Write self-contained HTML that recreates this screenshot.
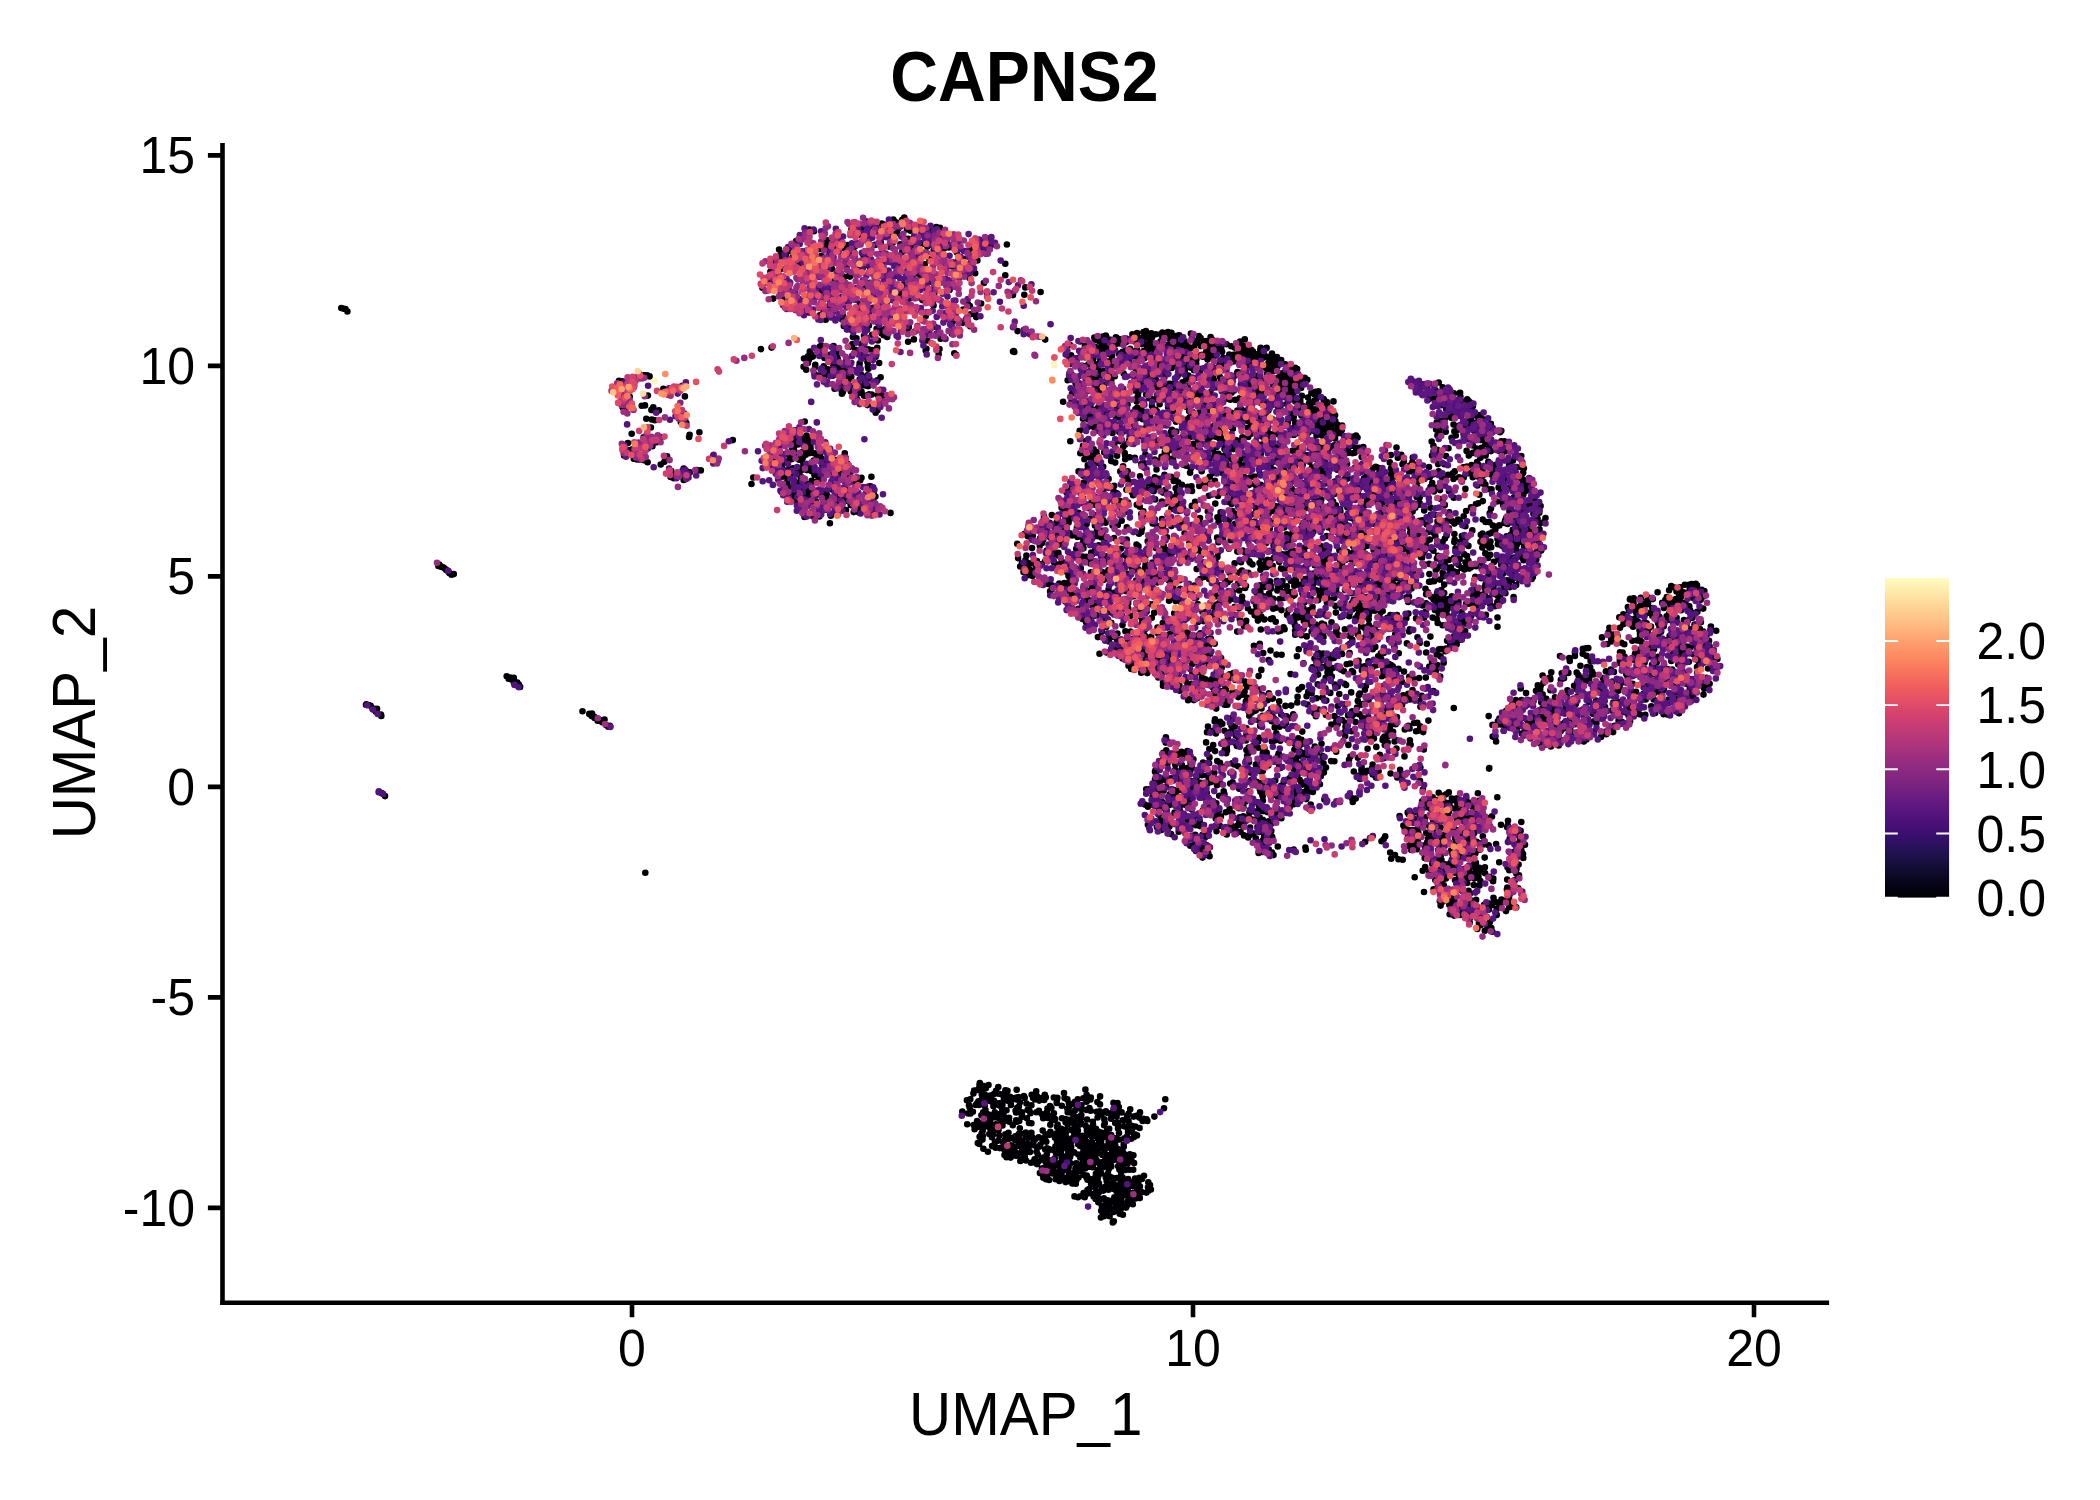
<!DOCTYPE html>
<html lang="en"><head><meta charset="utf-8"><title>CAPNS2</title>
<style>html,body{margin:0;padding:0;background:#fff}svg{display:block}text{font-family:"Liberation Sans", Arial, Helvetica, sans-serif;fill:#000}</style></head><body>
<svg width="2100" height="1500" viewBox="0 0 2100 1500">
<rect width="2100" height="1500" fill="#fff"/>
<g fill="none" stroke-linecap="round" stroke-width="6.6">
<path stroke="#000004" d="M1227.7 582.3h0M1044.0 516.7h0M1118.5 1152.6h0M790.0 457.0h0M1020.3 1161.0h0M1197.5 774.0h0M809.0 359.5h0M1314.1 413.5h0M1703.5 694.6h0M1448.6 599.0h0M1303.1 454.3h0M1460.8 882.4h0M1210.6 782.3h0M1095.2 339.9h0M1080.9 1118.3h0M1061.8 1105.7h0M1478.2 503.3h0M1376.3 746.9h0M1207.5 342.5h0M1340.7 433.3h0M1351.3 517.9h0M869.9 267.3h0M1162.1 549.5h0M788.6 287.5h0M1060.8 1151.8h0M1367.6 630.7h0M1249.0 761.9h0M981.6 1133.6h0M1442.7 572.8h0M1351.7 603.4h0M1188.1 700.3h0M1336.3 466.2h0M619.0 380.7h0M1489.1 447.9h0M1181.5 751.8h0M1190.8 468.4h0M1429.1 398.9h0M1438.5 598.6h0M1259.4 783.0h0M1424.6 478.7h0M1424.0 892.0h0M1476.7 871.8h0M1268.0 436.3h0M1184.4 349.6h0M1308.2 691.9h0M1052.1 1120.3h0M1632.7 683.8h0M1429.1 581.7h0M1369.6 612.0h0M1356.0 435.5h0M1440.0 490.1h0M1440.8 499.1h0M838.4 475.6h0M1415.1 766.6h0M1111.6 366.5h0M1127.8 1201.1h0M1442.6 542.1h0M1257.8 762.5h0M1241.0 562.3h0M1405.5 782.7h0M1425.9 807.2h0M1406.5 597.3h0M1512.8 529.9h0M1006.9 244.5h0M1469.0 854.4h0M799.2 472.9h0M1465.4 526.2h0M1139.8 1198.1h0M1490.1 554.9h0M1172.3 552.8h0M1275.0 461.5h0M1414.0 723.0h0M862.9 254.2h0M861.5 477.8h0M1605.1 707.0h0M1153.8 569.2h0M1025.8 1132.5h0M1137.2 338.2h0M1120.9 548.7h0M622.4 381.3h0M1196.8 686.0h0M1472.6 595.0h0M1068.4 585.6h0M1194.8 842.9h0M1305.2 567.1h0M846.0 510.1h0M597.7 720.8h0M1409.6 728.4h0M1266.0 543.2h0M846.2 475.0h0M1191.5 358.4h0M1126.1 342.1h0M1009.3 1121.7h0M1046.7 550.5h0M1233.6 829.5h0M1127.6 477.4h0M1026.5 1103.5h0M1651.3 706.3h0M1187.6 558.4h0M1425.2 540.6h0M1528.4 505.0h0M1151.8 617.8h0M1345.1 606.7h0M1176.3 431.5h0M1525.4 487.7h0M1003.6 1113.8h0M1396.4 618.9h0M1052.9 1150.1h0M1165.3 1099.2h0M1215.3 387.2h0M1676.1 698.9h0M1260.7 771.5h0M1301.8 555.6h0M1523.0 479.3h0M1138.7 436.1h0M1344.5 683.7h0M1331.0 446.6h0M1341.8 430.0h0M1620.0 627.7h0M1256.5 609.5h0M966.9 1100.3h0M1216.8 815.0h0M1485.6 455.6h0M1467.2 399.3h0M1323.5 763.2h0M1131.9 492.2h0M806.6 435.5h0M1261.2 419.3h0M836.6 353.5h0M1326.6 536.1h0M1114.5 1184.9h0M1450.3 863.1h0M1264.7 759.7h0M1233.8 390.7h0M1230.8 597.0h0M1352.4 609.5h0M1271.8 418.9h0M1179.2 503.2h0M1437.0 593.4h0M1087.1 1119.5h0M1644.6 622.2h0M637.0 459.4h0M647.6 462.2h0M1325.1 483.4h0M868.3 386.1h0M1390.7 708.5h0M1143.6 437.1h0M1701.4 685.3h0M1002.4 1105.3h0M1175.7 477.1h0M1267.6 559.9h0M1516.5 467.0h0M1109.1 354.0h0M1033.1 1098.1h0M1191.8 505.9h0M1706.3 636.4h0M1633.7 598.2h0M1051.8 589.4h0M1686.2 649.2h0M908.1 341.8h0M1491.2 474.6h0M1206.0 660.2h0M1262.6 535.4h0M1668.0 714.7h0M1354.7 452.7h0M1289.5 597.7h0M1208.7 665.2h0M1124.4 479.5h0M1197.4 340.6h0M1401.4 621.0h0M1413.0 678.2h0M933.6 305.5h0M869.3 378.4h0M1267.0 791.3h0M1438.7 792.7h0M900.8 295.0h0M1031.4 1123.2h0M1612.4 681.6h0M1424.7 550.5h0M1068.6 1119.7h0M1245.8 701.5h0M1361.0 465.4h0M1698.4 592.3h0M1516.2 585.1h0M803.6 366.8h0M1408.4 613.6h0M1260.8 453.8h0M1131.5 567.2h0M1107.9 485.2h0M919.1 225.8h0M1167.6 763.5h0M1158.3 677.5h0M1416.1 731.2h0M1234.4 354.5h0M1104.8 1123.1h0M1242.0 694.7h0M1100.1 1096.4h0M865.1 288.4h0M1270.8 453.1h0M834.6 388.8h0M1129.1 440.7h0M1445.0 864.3h0M1450.9 850.8h0M1278.7 753.6h0M1126.6 640.7h0M1448.5 817.4h0M1151.3 333.2h0M1295.5 492.2h0M1623.5 624.1h0M1351.0 535.9h0M1121.0 1172.0h0M1702.5 645.3h0M864.0 335.7h0M1060.6 1139.6h0M1670.6 606.8h0M1137.0 1135.4h0M1668.1 669.4h0M1239.0 808.3h0M1091.8 1151.9h0M1232.4 692.2h0M1468.6 401.0h0M1128.4 1203.4h0M1082.9 365.9h0M1100.0 1104.4h0M1364.9 689.8h0M1100.9 1217.5h0M1190.9 781.1h0M341.3 308.0h0M1318.3 600.1h0M1409.5 744.4h0M1433.1 395.3h0M1480.4 457.7h0M1251.6 712.8h0M1422.4 520.4h0M1434.7 397.1h0M1345.8 722.8h0M1513.7 541.8h0M1134.7 379.0h0M1170.4 383.8h0M652.4 446.2h0M1153.7 790.2h0M1177.5 499.1h0M1367.6 748.7h0M673.8 478.2h0M1268.6 362.2h0M1114.8 376.2h0M1704.8 642.7h0M1614.7 725.7h0M1108.7 1147.6h0M1353.5 518.8h0M1081.5 1109.3h0M1121.1 1156.5h0M1147.9 806.8h0M1166.7 549.9h0M1099.8 1164.5h0M1071.5 401.9h0M1440.2 608.3h0M1023.2 1143.4h0M1117.3 1194.9h0M1206.7 792.8h0M1382.7 611.0h0M1125.8 591.1h0M1296.0 761.5h0M1053.9 1113.2h0M1294.9 744.1h0M942.7 237.1h0M1186.6 406.9h0M1175.7 488.3h0M1051.8 515.1h0M1262.1 784.3h0M1079.2 1108.2h0M1697.4 611.7h0M1422.0 557.8h0M1486.7 916.8h0M1321.6 468.1h0M1288.3 392.5h0M1240.7 599.8h0M1219.8 376.7h0M1214.7 594.1h0M1511.8 580.2h0M1156.9 782.2h0M1655.2 712.9h0M1068.6 522.6h0M1519.5 516.4h0M1031.0 1162.8h0M1105.8 335.5h0M1509.7 838.7h0M1669.1 590.2h0M1594.1 721.3h0M1238.4 572.7h0M1192.6 412.0h0M1267.0 441.6h0M1278.0 755.8h0M1337.8 433.2h0M1316.5 459.1h0M1316.5 435.3h0M1095.1 547.4h0M1179.8 690.8h0M808.7 312.4h0M973.7 1125.1h0M785.4 297.7h0M1401.3 454.7h0M1326.3 700.6h0M1515.9 834.7h0M1410.0 699.5h0M1196.4 359.8h0M1701.7 589.7h0M1404.7 828.4h0M1156.9 440.4h0M1141.3 513.9h0M1307.1 406.5h0M1311.8 625.3h0M651.8 419.5h0M1456.7 644.2h0M1120.4 343.5h0M1153.7 491.3h0M851.6 254.2h0M633.8 458.7h0M1444.2 593.1h0M1267.5 700.2h0M1232.4 500.5h0M1432.0 661.6h0M1090.4 540.7h0M869.2 357.3h0M1466.2 798.5h0M1378.6 771.3h0M1666.4 640.3h0M1270.6 464.4h0M1124.7 453.0h0M1664.1 664.7h0M1137.0 1192.9h0M1379.6 558.8h0M1214.4 772.6h0M1051.8 585.2h0M1481.1 594.7h0M512.0 679.7h0M1706.7 686.5h0M1169.8 794.2h0M810.5 447.3h0M1533.1 536.3h0M1174.2 613.2h0M875.7 412.8h0M1161.5 456.8h0M1129.0 1127.5h0M1385.2 836.4h0M1135.2 427.1h0M1553.7 707.0h0M1488.1 489.1h0M842.0 296.7h0M1294.4 749.8h0M1203.1 762.6h0M1047.9 1117.9h0M1157.3 779.7h0M1275.4 483.4h0M1442.3 883.2h0M1077.2 358.4h0M1652.0 664.9h0M1276.9 395.5h0M819.7 346.8h0M970.3 1099.2h0M1120.6 1209.6h0M1488.7 716.1h0M1669.6 636.1h0M1157.9 633.2h0M1271.9 741.4h0M1046.9 1154.2h0M784.9 474.9h0M1132.0 1132.1h0M1485.8 544.8h0M1256.4 375.9h0M1577.0 683.2h0M1223.7 791.3h0M1292.7 531.7h0M1613.0 634.5h0M1446.5 560.2h0M1263.9 596.2h0M1443.8 795.6h0M1005.4 1134.2h0M1438.2 850.0h0M1646.8 604.5h0M1459.1 854.5h0M1116.3 1190.9h0M1452.9 473.4h0M1239.6 398.3h0M1018.9 1106.6h0M1311.3 476.1h0M1097.2 379.8h0M1430.6 486.8h0M1279.2 394.0h0M1441.5 843.4h0M1463.9 879.5h0M1511.3 536.3h0M1241.0 409.1h0M1332.9 668.1h0M444.4 568.3h0M994.8 1130.1h0M1266.3 368.6h0M1311.1 613.6h0M1203.8 621.3h0M1645.3 714.8h0M1508.0 820.7h0M1396.5 447.6h0M1619.8 660.3h0M1392.4 600.9h0M1122.3 565.0h0M1480.8 534.7h0M1230.8 824.8h0M1106.1 1202.6h0M1343.9 671.3h0M1143.5 332.1h0M1132.8 639.0h0M1266.7 752.9h0M1431.7 441.5h0M1286.9 779.8h0M934.3 293.2h0M1130.5 482.4h0M887.2 337.0h0M1136.5 544.6h0M1630.2 598.9h0M1224.5 730.7h0M1272.9 384.7h0M1114.2 1202.4h0M1684.9 673.5h0M1493.5 588.3h0M1293.9 804.3h0M1435.8 570.0h0M1209.5 799.5h0M1030.6 573.1h0M1124.5 1138.2h0M963.3 258.9h0M1653.4 667.1h0M1134.6 341.4h0M1066.4 492.2h0M1638.0 621.7h0M1258.2 414.7h0M1018.5 1145.6h0M1361.4 769.9h0M1108.5 1189.7h0M1253.3 390.0h0M1256.2 485.8h0M1029.8 569.6h0M1260.7 484.9h0M1397.5 639.7h0M1152.0 337.4h0M663.4 388.8h0M1311.4 392.9h0M982.8 1135.9h0M805.7 483.6h0M1021.7 1116.9h0M1232.6 782.4h0M1262.0 358.5h0M932.9 288.6h0M1094.8 1178.0h0M1144.9 635.7h0M1166.8 654.8h0M1124.9 555.2h0M1334.4 494.0h0M1391.0 665.0h0M1260.2 528.5h0M1239.3 821.8h0M1491.5 489.4h0M1478.5 876.9h0M783.4 484.9h0M900.4 244.2h0M1409.9 740.2h0M1172.9 630.7h0M1471.2 419.7h0M1668.5 699.6h0M1039.8 545.7h0M1185.9 419.8h0M1196.7 569.1h0M1160.4 635.0h0M1429.0 563.9h0M1188.8 638.3h0M453.8 574.1h0M1052.8 1165.0h0M1010.4 1150.3h0M793.1 468.2h0M1518.7 531.1h0M1206.9 654.9h0M782.2 257.5h0M1284.3 527.5h0M1096.4 1153.5h0M1391.0 468.5h0M859.7 379.2h0M819.2 375.5h0M1137.1 333.0h0M1229.8 467.8h0M1502.0 545.8h0M1337.7 724.0h0M1672.9 686.1h0M1275.7 621.7h0M782.9 255.8h0M1349.0 759.8h0M1284.7 540.2h0M1423.6 552.4h0M1357.7 615.6h0M1119.2 1139.5h0M1070.6 1163.5h0M1262.9 840.4h0M1265.9 563.3h0M1613.9 671.9h0M1454.4 534.0h0M896.2 275.7h0M1438.6 471.2h0M1340.1 562.0h0M1632.3 640.7h0M1519.9 833.5h0M1085.7 378.9h0M1047.1 530.5h0M1078.1 1144.2h0M992.1 1146.1h0M976.2 317.1h0M1473.2 604.1h0M1180.6 601.8h0M1024.7 1097.9h0M1451.4 808.1h0M1166.2 754.5h0M1403.2 695.4h0M1396.9 717.1h0M1447.1 640.7h0M1024.3 294.7h0M1497.5 626.7h0M1390.7 594.0h0M979.8 1083.1h0M1283.6 598.0h0M1456.7 818.7h0M806.8 470.1h0M1284.8 495.3h0M1554.0 720.6h0M1497.9 596.0h0M1491.7 905.1h0M609.8 725.7h0M1196.4 780.2h0M845.1 370.0h0M783.3 260.7h0M1157.1 526.1h0M1086.9 1130.6h0M1157.3 460.9h0M1439.3 858.8h0M1463.3 467.4h0M1262.2 436.5h0M1578.4 675.0h0M1262.8 753.0h0M1217.3 686.4h0M1271.8 852.2h0M1563.2 723.8h0M1317.3 615.1h0M1115.3 1145.8h0M1162.8 807.8h0M1207.1 784.1h0M1063.8 1156.6h0M1101.4 348.5h0M1087.2 1127.6h0M1594.2 731.6h0M850.8 391.5h0M1298.3 738.4h0M1058.8 555.8h0M857.1 399.6h0M1209.5 757.4h0M1180.0 811.0h0M1164.4 377.5h0M1323.5 592.2h0M1633.1 626.7h0M1071.8 486.8h0M1069.8 533.4h0M1167.1 537.3h0M1447.8 616.0h0M1216.5 831.2h0M841.9 393.7h0M1479.1 477.3h0M1195.6 640.4h0M1438.7 613.2h0M1294.3 616.5h0M1254.2 476.5h0M1393.4 617.7h0M1335.9 612.6h0M1417.8 481.6h0M1647.1 612.9h0M1309.0 610.2h0M1639.6 714.3h0M1574.9 655.9h0M1673.9 600.3h0M1078.2 608.7h0M1033.6 1141.6h0M1623.8 620.9h0M982.7 1130.8h0M1039.2 1100.6h0M1296.0 614.5h0M1264.5 438.5h0M1337.9 719.1h0M1334.4 761.2h0M1305.4 847.5h0M1474.3 431.1h0M1151.2 576.4h0M1443.8 602.4h0M1245.9 740.4h0M1351.4 633.7h0M1482.7 438.2h0M979.5 1127.0h0M1183.4 464.7h0M1367.1 499.1h0M850.2 329.5h0M1202.5 857.6h0M1195.6 343.2h0M1482.8 836.2h0M1032.0 548.1h0M1183.2 508.6h0M1210.6 337.1h0M1682.6 653.4h0M1046.9 1112.3h0M829.8 354.7h0M1327.0 432.3h0M1400.1 769.7h0M1111.0 1118.7h0M1245.9 684.2h0M1136.1 580.6h0M1320.8 551.0h0M1034.6 1159.2h0M1301.6 635.2h0M1620.0 652.3h0M1560.7 731.2h0M1272.8 505.2h0M1323.7 426.2h0M1389.8 462.4h0M1459.1 477.2h0M1402.5 530.6h0M797.4 261.6h0M513.8 677.9h0M604.5 719.5h0M853.7 512.1h0M1458.5 912.3h0M1312.5 667.4h0M1442.1 838.2h0M1105.6 1146.3h0M1012.9 1146.7h0M1148.3 337.2h0M1687.1 646.6h0M1092.8 1121.7h0M1380.8 653.2h0M1465.5 562.3h0M1501.0 824.7h0M1077.8 1099.3h0M1165.9 737.3h0M1323.2 653.5h0M606.0 725.1h0M1206.1 742.4h0M1199.3 412.6h0M1200.6 338.0h0M1523.2 472.9h0M1093.0 1124.8h0M1453.9 393.4h0M1065.6 1122.2h0M1635.0 653.9h0M1322.0 435.6h0M1666.6 616.2h0M1560.0 656.1h0M1119.6 363.1h0M1004.4 1149.8h0M1226.2 753.3h0M1392.4 578.9h0M1106.4 337.0h0M1076.7 387.5h0M1621.4 642.8h0M1042.6 1141.2h0M1411.1 819.4h0M1321.5 743.8h0M1424.2 510.4h0M1321.1 760.8h0M1489.3 768.0h0M817.2 376.0h0M1102.8 336.6h0M1328.7 497.6h0M1499.9 560.3h0M1416.6 496.9h0M1434.1 581.2h0M1300.3 400.9h0M1586.6 655.9h0M1264.1 840.7h0M1689.6 589.8h0M1279.1 384.8h0M1189.1 411.1h0M1115.2 462.6h0M1013.0 295.1h0M1122.6 351.7h0M1118.8 1107.0h0M1306.7 636.4h0M1516.3 550.3h0M1100.4 1199.2h0M1369.2 723.5h0M1409.0 471.5h0M1096.4 1159.8h0M1149.1 365.1h0M1680.9 597.1h0M845.1 301.1h0M1480.4 881.1h0M1234.6 347.6h0M1168.2 554.1h0M1567.4 690.2h0M1231.3 346.3h0M1005.3 263.7h0M1166.8 456.0h0M1448.1 474.9h0M1478.4 464.8h0M1114.4 1197.3h0M1178.0 449.7h0M1345.1 537.8h0M1264.2 738.6h0M923.3 242.7h0M1478.9 923.3h0M1121.7 520.8h0M829.4 305.6h0M1409.7 555.1h0M1468.1 423.3h0M1544.3 722.1h0M1387.4 617.8h0M1141.7 344.1h0M1086.6 1094.9h0M1540.3 743.4h0M1057.6 1124.6h0M1005.3 275.2h0M1276.6 382.6h0M1646.6 623.3h0M977.3 1103.1h0M1481.3 578.3h0M1316.5 698.2h0M1116.7 1109.6h0M1217.3 348.6h0M1428.4 720.6h0M1375.3 646.9h0M1247.1 755.7h0M1190.3 845.8h0M1349.6 653.1h0M1179.4 338.5h0M1215.5 562.1h0M1261.3 669.9h0M1683.4 592.2h0M1386.7 508.4h0M1473.8 885.0h0M1122.8 541.4h0M1046.3 1141.8h0M1363.5 703.9h0M1010.9 1104.9h0M1156.5 469.5h0M1168.2 337.9h0M1445.3 565.9h0M1215.9 733.4h0M1155.1 443.5h0M1147.5 638.6h0M1351.2 692.4h0M1386.5 714.1h0M1139.9 1186.5h0M1531.6 532.0h0M1126.9 1136.7h0M1154.4 800.5h0M868.9 325.6h0M1646.6 601.2h0M1198.0 439.7h0M680.8 422.1h0M1624.6 656.9h0M1135.6 368.7h0M1633.6 603.0h0M1128.5 1121.1h0M644.0 460.2h0M987.1 294.0h0M978.5 1101.3h0M1149.8 371.2h0M1382.6 739.9h0M1336.3 587.5h0M1122.4 1177.4h0M1103.6 618.8h0M1390.6 725.3h0M850.6 326.4h0M1417.4 829.0h0M1320.3 654.5h0M1685.4 602.8h0M1259.0 689.5h0M1444.3 900.6h0M1065.4 601.5h0M1478.6 800.9h0M1322.1 444.5h0M1173.0 497.2h0M1009.1 1117.7h0M1455.8 435.5h0M1270.4 560.2h0M1115.7 1141.1h0M1465.1 630.8h0M782.7 476.6h0M1145.2 567.4h0M1227.8 738.7h0M1394.8 677.8h0M1208.1 348.0h0M929.3 259.3h0M1347.7 587.0h0M1279.2 701.3h0M1489.3 522.1h0M1204.3 855.4h0M1480.5 541.8h0M1409.9 465.5h0M1141.9 1179.0h0M1494.8 465.0h0M1137.9 395.9h0M1154.2 612.7h0M1171.7 367.9h0M1014.4 1149.5h0M847.2 463.5h0M1424.7 858.1h0M1185.5 367.0h0M1057.4 1097.7h0M1029.6 563.4h0M1133.6 596.3h0M1457.9 628.0h0M1082.5 618.9h0M1433.9 491.4h0M1008.1 1137.0h0M1266.4 561.7h0M930.9 281.6h0M1472.9 873.9h0M1333.3 514.9h0M1145.2 560.3h0M1064.0 1093.1h0M1182.1 358.9h0M1093.2 454.3h0M1248.0 346.4h0M1371.5 471.0h0M978.9 1105.0h0M1315.9 716.3h0M1378.9 596.8h0M689.6 434.7h0M1141.1 636.0h0M1401.6 531.0h0M1437.5 391.8h0M1139.3 609.4h0M1322.8 587.4h0M1214.9 480.9h0M1173.2 411.0h0M1118.7 1156.7h0M796.4 456.8h0M983.9 283.0h0M1686.3 683.8h0M979.2 1143.9h0M1259.3 842.9h0M1685.2 699.9h0M1490.5 541.6h0M1275.6 812.7h0M1287.9 422.6h0M1239.0 491.5h0M1471.6 817.3h0M1455.7 865.1h0M1250.1 421.9h0M1472.6 471.5h0M1286.0 723.1h0M1429.7 846.7h0M802.3 469.7h0M1219.7 455.6h0M1534.5 498.4h0M1446.3 865.6h0M1204.5 835.0h0M1437.0 568.5h0M1509.1 896.6h0M832.0 514.1h0M785.8 255.1h0M1417.3 722.8h0M1103.8 385.1h0M1147.8 376.4h0M1140.6 383.9h0M1162.7 529.1h0M1417.4 478.2h0M1031.4 1132.7h0M1264.3 401.8h0M1253.9 645.7h0M1169.7 439.2h0M1266.6 347.9h0M1107.7 1113.0h0M1307.0 794.1h0M1287.1 472.7h0M1244.5 465.0h0M1379.3 473.1h0M1214.7 643.7h0M1007.8 1154.7h0M1262.8 770.9h0M1250.1 684.5h0M1016.2 1120.2h0M1163.2 759.4h0M829.9 523.2h0M1342.1 720.1h0M1358.1 775.7h0M1206.3 845.1h0M1210.4 392.4h0M1649.5 627.7h0M1045.6 1134.4h0M844.6 276.7h0M1516.2 907.4h0M1068.7 1167.3h0M1465.6 817.1h0M1171.3 400.7h0M1444.2 834.8h0M1471.7 866.6h0M1185.3 521.2h0M1083.0 445.9h0M1328.7 599.7h0M1139.1 533.7h0M1485.5 584.5h0M1286.8 586.4h0M1171.4 526.1h0M1139.5 1177.9h0M1464.4 569.6h0M1246.0 586.1h0M1495.4 736.6h0M1593.5 674.4h0M1476.0 504.0h0M1126.7 1206.0h0M1163.0 685.8h0M1185.0 804.8h0M1147.3 1120.9h0M1316.4 398.7h0M859.4 365.7h0M1006.1 1092.4h0M1513.6 597.0h0M1449.5 805.3h0M1349.1 616.2h0M1184.6 341.4h0M1087.5 1179.7h0M1066.4 1168.8h0M1225.7 454.4h0M1132.8 1193.0h0M1158.2 787.1h0M993.4 1106.2h0M1015.3 1136.2h0M1079.9 1145.9h0M1123.2 607.0h0M1462.9 401.7h0M1186.3 345.1h0M986.8 1120.4h0M1145.9 331.0h0M1125.4 631.3h0M1440.3 602.2h0M836.7 460.1h0M1495.6 583.4h0M1023.5 572.0h0M1225.8 689.9h0M1095.5 1188.2h0M970.5 314.3h0M1494.4 470.4h0M1232.5 511.1h0M594.3 716.8h0M1451.3 903.3h0M1466.7 563.9h0M1115.5 1115.0h0M1254.0 811.4h0M1454.7 539.8h0M732.8 440.1h0M1055.0 1137.8h0M1497.5 617.5h0M1122.7 1120.4h0M1019.2 1120.9h0M1026.9 1118.3h0M1411.5 588.5h0M1092.7 605.1h0M1253.0 351.6h0M856.0 328.6h0M793.1 500.8h0M1034.9 1099.5h0M814.6 453.4h0M1224.2 829.8h0M1429.8 539.6h0M1391.2 858.8h0M1187.5 357.0h0M1196.0 450.3h0M1358.5 660.8h0M1035.4 1139.1h0M1144.0 1175.8h0M1492.0 816.4h0M1103.4 520.2h0M1262.7 796.2h0M1453.8 828.1h0M1238.1 766.3h0M1078.4 512.9h0M1004.6 1096.8h0M1006.5 1110.2h0M1101.6 537.4h0M646.3 418.7h0M1281.0 785.8h0M1330.6 425.2h0M1050.2 537.6h0M1237.3 551.6h0M1495.0 606.2h0M1197.3 698.1h0M1237.2 517.1h0M1248.1 837.5h0M1435.4 536.2h0M1208.7 777.8h0M1179.3 341.4h0M1492.4 572.9h0M1623.3 614.2h0M1194.0 370.2h0M1156.9 827.3h0M1680.7 650.2h0M1370.7 480.2h0M1324.7 459.9h0M1043.3 1177.8h0M1547.9 720.5h0M1212.0 339.5h0M1292.9 381.1h0M1365.2 841.8h0M1175.7 545.3h0M1381.5 841.2h0M819.8 315.4h0M1201.8 678.2h0M1394.1 503.5h0M1624.3 644.2h0M1492.4 931.8h0M875.7 356.8h0M1144.7 653.5h0M873.6 498.8h0M1017.1 1121.7h0M1155.8 334.3h0M1433.5 550.7h0M1474.3 423.1h0M1359.8 599.7h0M1491.3 928.0h0M1433.4 445.9h0M1225.9 520.5h0M1368.5 661.2h0M1204.7 531.5h0M1069.3 581.7h0M881.7 333.4h0M957.5 261.7h0M1271.9 434.3h0M1043.3 1172.7h0M1564.0 678.3h0M1389.6 728.8h0M824.7 245.7h0M1314.6 394.5h0M1128.0 502.5h0M1489.8 603.8h0M1282.1 528.0h0M1336.4 721.0h0M994.9 1142.4h0M1460.1 392.9h0M1645.5 627.1h0M1213.1 449.4h0M1104.1 1125.2h0M1485.6 521.9h0M1376.3 665.2h0M1269.3 712.9h0M896.7 222.5h0M1275.3 780.5h0M1187.7 386.2h0M1228.2 522.4h0M1484.0 841.5h0M1040.3 538.0h0M1247.1 686.7h0M925.7 350.4h0M1235.9 692.6h0M1465.9 538.1h0M1315.5 401.9h0M1114.3 1186.9h0M1126.1 473.8h0M1039.1 1146.8h0M1225.9 812.3h0M1474.0 861.4h0M1324.5 614.4h0M1679.5 646.2h0M1466.8 623.7h0M1148.9 789.3h0M1396.5 624.9h0M1527.1 569.5h0M991.8 1095.2h0M1571.7 732.3h0M1113.3 1144.5h0M1179.3 335.2h0M594.6 718.0h0M871.4 476.7h0M1076.5 1180.0h0M821.2 345.5h0M1704.2 688.5h0M1472.8 445.4h0M1166.1 786.9h0M1151.7 487.5h0M589.3 713.9h0M1438.5 455.6h0M1193.4 759.2h0M1085.6 1125.8h0M1367.3 770.9h0M1334.7 481.5h0M1232.3 717.8h0M1450.9 415.6h0M1250.4 358.0h0M1273.8 370.9h0M1618.3 701.7h0M1284.2 592.1h0M1117.5 1103.0h0M1042.0 543.0h0M1257.0 358.5h0M1260.4 385.7h0M380.9 714.6h0M1255.8 838.4h0M1321.9 506.4h0M1095.1 387.4h0M1086.9 1141.7h0M1533.4 513.7h0M1102.3 1212.0h0M1154.8 519.4h0M1383.3 669.4h0M796.1 241.0h0M1175.2 769.8h0M956.8 252.5h0M1044.4 1167.7h0M1019.9 1102.5h0M1523.6 560.2h0M1082.6 543.6h0M1540.5 523.1h0M1162.4 332.5h0M1259.7 817.5h0M840.0 472.2h0M1156.0 669.8h0M1444.7 419.1h0M1669.4 603.1h0M1253.3 833.5h0M1155.5 409.9h0M1629.1 610.7h0M1160.8 360.5h0M1091.5 377.9h0M1602.5 684.0h0M1495.1 594.2h0M1238.7 608.4h0M1119.7 1213.7h0M1396.0 541.0h0M1217.1 537.5h0M1463.9 554.1h0M1150.0 1185.1h0M1179.5 343.3h0M1021.9 1158.6h0M1697.1 672.8h0M967.2 1124.3h0M1473.0 452.9h0M1491.2 547.2h0M1059.1 544.6h0M1691.7 584.0h0M1281.6 654.8h0M1397.8 457.7h0M1111.7 1183.9h0M897.0 233.3h0M825.7 319.8h0M1117.8 524.9h0M1016.1 1112.5h0M1502.5 501.4h0M982.1 1090.8h0M1132.7 351.4h0M1302.8 464.6h0M1187.6 767.8h0M1105.9 1175.7h0M781.6 268.8h0M1362.1 717.5h0M1263.5 421.9h0M1206.1 804.7h0M1484.7 857.6h0M1161.9 501.6h0M1069.5 373.3h0M1389.1 639.0h0M1425.8 677.6h0M1493.1 881.2h0M1453.8 497.7h0M949.6 289.9h0M1639.4 624.1h0M1007.8 1100.8h0M1146.4 1192.6h0M1485.1 588.7h0M1493.0 473.1h0M1007.5 1090.7h0M1415.3 479.9h0M1412.3 462.3h0M834.6 247.2h0M1628.5 715.4h0M1106.0 1211.0h0M1519.0 875.2h0M1426.1 594.2h0M1509.3 907.3h0M1436.9 558.5h0M1373.3 468.0h0M1426.2 652.5h0M1171.8 434.5h0M1446.6 535.5h0M1085.2 1147.6h0M903.9 284.8h0M1434.8 514.7h0M1165.1 333.8h0M1191.5 683.9h0M1069.4 356.7h0M1295.9 791.3h0M683.7 479.9h0M1175.0 581.5h0M1275.7 427.0h0M769.9 466.0h0M1124.7 1126.5h0M1267.8 585.3h0M1110.8 1140.8h0M1405.5 542.5h0M1619.5 683.1h0M1524.0 546.3h0M1183.9 629.5h0M1180.9 346.4h0M1293.7 416.9h0M1453.9 558.1h0M1134.3 390.5h0M1467.2 910.5h0M794.1 450.3h0M1484.5 587.2h0M1318.5 709.5h0M1256.0 511.1h0M1089.3 1178.9h0M1136.7 401.4h0M1445.9 878.5h0M1417.5 637.3h0M1226.7 485.0h0M1353.8 771.5h0M1339.4 520.6h0M1476.1 604.1h0M1232.2 486.7h0M1117.0 1122.7h0M1175.2 504.7h0M1182.0 437.3h0M1411.1 583.9h0M1361.7 704.6h0M990.5 1124.2h0M1235.1 523.7h0M790.1 476.1h0M1444.1 878.3h0M1304.8 743.8h0M1158.4 829.1h0M1276.1 607.7h0M1045.8 1097.2h0M1381.9 676.2h0M1071.0 1142.3h0M1286.6 534.2h0M1468.6 890.7h0M1072.4 1183.5h0M979.0 1088.6h0M1432.0 455.6h0M1582.8 648.9h0M1302.5 784.6h0M602.2 722.2h0M1295.3 401.4h0M1312.3 609.8h0M1264.5 442.6h0M1539.6 716.5h0M877.9 340.5h0M1189.3 543.1h0M1157.2 399.4h0M1526.7 490.5h0M1229.6 572.7h0M1207.0 732.3h0M1278.4 707.3h0M1319.3 591.6h0M1237.4 372.1h0M813.7 460.5h0M1511.6 724.0h0M853.4 385.9h0M1269.9 605.8h0M1181.8 764.7h0M1038.4 1161.5h0M1380.9 477.6h0M1227.0 750.4h0M1525.2 491.5h0M1087.0 590.6h0M1459.2 621.5h0M1309.3 646.6h0M1074.8 1125.2h0M838.1 365.2h0M1295.1 630.7h0M1200.3 370.8h0M1273.5 545.5h0M1135.4 1126.5h0M1437.5 525.4h0M1045.3 561.0h0M1543.0 743.9h0M1471.4 615.4h0M1335.1 415.3h0M1577.3 696.5h0M1344.3 438.3h0M778.3 479.4h0M1197.7 604.0h0M1286.1 568.2h0M1157.0 395.2h0M869.8 282.9h0M1247.8 420.9h0M1149.1 805.5h0M1098.2 1175.9h0M1454.5 872.6h0M1201.7 471.3h0M929.2 332.3h0M1518.2 888.3h0M1425.5 588.8h0M1565.5 708.1h0M1330.8 556.3h0M1531.7 579.0h0M1111.4 360.1h0M1611.3 641.4h0M806.2 369.8h0M990.5 1101.2h0M1358.6 664.7h0M1259.1 831.9h0M1210.7 638.6h0M1342.8 534.4h0M1451.5 437.8h0M1061.2 1154.6h0M1199.9 396.1h0M1312.9 791.9h0M1312.0 467.2h0M1328.6 448.9h0M1056.9 1177.3h0M1423.5 564.4h0M1714.3 659.1h0M1417.4 487.2h0M994.0 1117.1h0M794.2 497.3h0M890.8 299.8h0M1026.2 568.1h0M1134.1 1163.1h0M1254.7 615.2h0M1229.7 674.3h0M1304.7 377.9h0M1394.7 498.9h0M1108.5 570.0h0M343.6 308.8h0M1132.8 1186.1h0M1151.2 636.6h0M1128.5 1139.1h0M1222.3 723.7h0M1676.6 617.8h0M1448.8 559.9h0M1162.3 802.1h0M1053.3 554.7h0M1137.2 340.7h0M1531.4 489.0h0M1444.0 836.4h0M1195.6 396.3h0M1296.1 631.7h0M836.4 363.3h0M957.5 245.7h0M1424.1 617.8h0M1426.2 832.9h0M1325.4 688.3h0M864.1 257.3h0M1154.8 477.2h0M1018.8 1134.0h0M1693.8 654.6h0M1268.9 693.3h0M1180.2 588.7h0M1660.8 692.3h0M1147.6 489.9h0M1278.1 434.2h0M1258.3 747.7h0M1474.3 587.0h0M1361.1 626.1h0M1173.4 588.2h0M1321.4 666.5h0M1458.0 426.0h0M1187.7 632.9h0M1636.0 612.3h0M1433.2 474.5h0M1391.1 478.3h0M1429.3 871.9h0M1085.9 456.7h0M1318.5 391.3h0M1190.9 367.8h0M1301.4 415.6h0M1460.4 396.7h0M1543.5 705.5h0M840.1 352.7h0M1089.7 1129.6h0M1420.8 557.0h0M1663.9 607.9h0M1314.8 746.5h0M811.6 512.3h0M1489.0 533.7h0M1250.7 364.2h0M967.8 303.9h0M1126.7 539.5h0M1219.8 825.7h0M1418.5 475.0h0M1404.0 671.6h0M816.0 501.6h0M796.1 439.1h0M1261.2 557.8h0M1132.8 1204.3h0M1436.7 618.8h0M1101.9 631.7h0M1097.0 605.2h0M1281.3 504.5h0M1210.8 682.6h0M1161.4 369.9h0M1409.0 596.5h0M1134.0 1137.1h0M445.7 569.3h0M1103.4 371.1h0M653.3 407.4h0M1515.8 700.0h0M819.0 249.1h0M1470.1 802.8h0M1302.4 405.9h0M1056.1 1153.3h0M1456.4 622.9h0M1189.2 347.3h0M1437.2 449.7h0M848.5 380.3h0M1124.5 1154.4h0M439.2 564.6h0M1368.8 615.4h0M1265.8 415.3h0M1407.8 829.9h0M828.8 246.0h0M1634.5 660.1h0M1061.7 561.9h0M970.2 263.6h0M753.3 477.5h0M1208.8 495.7h0M1392.5 621.8h0M1067.7 380.2h0M1230.6 540.3h0M1229.3 519.3h0M1086.6 524.0h0M1322.6 697.4h0M1357.9 632.6h0M1073.9 515.7h0M1433.4 829.0h0M1232.9 428.8h0M1353.8 714.2h0M1430.5 507.6h0M1295.2 426.0h0M1234.8 726.6h0M1239.1 739.4h0M946.7 242.2h0M1113.4 1179.7h0M1443.0 596.3h0M1237.2 825.5h0M826.7 240.1h0M1164.8 452.1h0M1117.1 455.7h0M1302.5 536.5h0M1399.4 584.7h0M1123.1 466.2h0M1297.6 696.9h0M1312.3 414.1h0M1529.7 724.2h0M846.5 489.4h0M1131.4 1159.6h0M851.4 229.5h0M1092.0 1142.4h0M683.0 477.2h0M1111.2 1135.1h0M1466.9 804.9h0M374.1 708.7h0M1390.6 773.5h0M1346.3 515.7h0M1454.0 636.3h0M1497.5 539.1h0M1172.1 815.9h0M1657.3 612.8h0M1272.5 511.0h0M1202.6 661.9h0M1454.8 471.4h0M808.3 465.6h0M1042.7 1130.6h0M1290.5 566.6h0M1323.6 430.5h0M1071.2 1146.8h0M973.4 1093.4h0M654.9 420.3h0M1365.9 685.9h0M1676.5 701.6h0M1602.9 678.1h0M1366.5 502.4h0M1493.3 878.5h0M977.8 1143.1h0M1640.8 597.8h0M1095.9 1173.9h0M823.0 309.4h0M940.6 338.8h0M1282.5 581.1h0M1708.2 648.4h0M1059.3 583.6h0M1152.6 796.1h0M875.4 496.6h0M1244.0 626.2h0M1380.6 702.5h0M1234.3 483.9h0M864.8 265.0h0M1270.5 650.5h0M1254.0 484.1h0M1481.6 447.8h0M832.1 457.8h0M1245.1 588.0h0M1376.0 777.5h0M1643.8 604.1h0M1256.1 395.5h0M1426.0 603.4h0M1570.7 726.5h0M1465.4 488.9h0M1394.2 645.9h0M1383.2 738.1h0M818.3 480.4h0M1344.6 732.0h0M1132.2 1126.0h0M1310.5 469.9h0M1178.2 482.3h0M1558.7 745.4h0M1092.1 586.5h0M1146.5 1119.2h0M1582.7 653.7h0M1277.4 590.4h0M1130.0 1125.1h0M1163.7 545.7h0M1104.0 579.7h0M1373.9 738.4h0M1458.5 601.9h0M1361.7 457.0h0M1673.0 652.9h0M1218.1 552.2h0M1166.3 750.4h0M1260.9 610.0h0M1264.3 367.0h0M939.5 349.0h0M1251.0 611.5h0M1108.6 1165.3h0M1184.6 533.2h0M1518.6 864.6h0M1195.9 851.0h0M1292.6 463.9h0M805.7 496.6h0M1256.5 390.9h0M1063.1 401.7h0M1058.4 552.8h0M1112.1 1177.8h0M1372.7 649.3h0M1157.5 627.6h0M1251.2 780.0h0M1648.1 603.0h0M865.2 290.7h0M1326.6 589.1h0M868.1 365.2h0M1507.6 524.0h0M1205.2 790.3h0M1432.7 797.4h0M1511.4 901.8h0M1446.9 601.9h0M810.8 463.7h0M1090.0 518.7h0M1447.2 837.5h0M1463.8 477.4h0M1159.6 404.3h0M1042.3 1097.8h0M1068.2 1152.0h0M1076.2 548.8h0M1218.2 430.0h0M1622.3 682.5h0M1610.9 669.5h0M1069.3 1161.3h0M1294.9 383.3h0M1155.5 347.2h0M1231.3 412.9h0M347.4 311.5h0M1541.9 709.0h0M1582.9 678.1h0M1245.2 467.9h0M1356.0 447.7h0M1036.4 1112.3h0M1536.0 690.7h0M1479.1 597.5h0M1540.7 685.8h0M802.1 459.7h0M804.5 482.5h0M1398.5 668.9h0M1165.7 742.6h0M1458.0 519.5h0M1377.3 562.8h0M1461.7 639.6h0M794.4 445.7h0M1281.5 585.6h0M1259.1 737.7h0M1576.7 672.5h0M1016.6 1099.4h0M1334.4 716.0h0M1307.8 785.6h0M1033.6 1145.2h0M1392.7 505.9h0M1295.1 800.0h0M983.1 1112.4h0M1261.7 379.9h0M1143.1 650.7h0M1403.5 549.1h0M1300.0 751.3h0M808.1 356.3h0M1064.1 540.2h0M1243.0 352.7h0M1489.3 547.6h0M1513.0 852.4h0M1690.8 629.2h0M855.4 349.7h0M1095.4 347.1h0M1449.7 914.3h0M1065.5 1129.7h0M1235.4 830.1h0M1195.1 501.8h0M1140.0 1179.1h0M999.4 1103.2h0M1500.7 724.5h0M1054.4 527.0h0M1293.5 389.4h0M812.8 356.6h0M518.7 684.2h0M1695.7 583.7h0M1248.2 437.0h0M1109.8 1186.7h0M1273.8 469.7h0M1135.1 1178.6h0M1143.8 571.6h0M952.2 266.5h0M866.2 395.6h0M1436.7 654.5h0M1134.8 457.7h0M1105.8 1177.6h0M1225.1 581.1h0M1065.3 1133.4h0M909.6 298.6h0M1288.5 610.2h0M1050.9 1172.9h0M1086.6 1109.9h0M1453.3 844.4h0M1315.8 500.6h0M1113.5 1102.9h0M1146.1 394.5h0M1143.5 1118.7h0M1138.4 569.2h0M1265.1 349.0h0M1281.2 714.5h0M1223.7 444.5h0M1202.8 356.7h0M1381.8 559.1h0M1451.3 417.8h0M689.8 472.4h0M1225.2 685.9h0M1639.4 649.8h0M1141.0 624.9h0M1219.0 810.4h0M1218.6 350.1h0M996.1 1090.8h0M781.5 492.1h0M1318.4 661.3h0M1430.4 636.6h0M1214.3 425.8h0M1518.4 843.5h0M1065.6 1182.1h0M832.6 489.8h0M1379.7 617.2h0M1087.8 1156.8h0M1382.2 720.7h0M1142.8 419.2h0M1089.1 1166.7h0M1208.3 853.2h0M1054.8 1158.2h0M1061.2 585.6h0M1308.5 432.5h0M812.5 489.1h0M1097.6 1170.1h0M1096.0 409.5h0M922.1 244.1h0M1279.6 599.1h0M1155.9 548.1h0M1361.9 670.2h0M1282.3 380.2h0M1324.4 595.1h0M786.5 483.0h0M1662.6 691.6h0M1110.7 339.7h0M1237.2 631.6h0M1145.5 412.1h0M1497.9 721.3h0M1470.3 917.4h0M1552.3 709.7h0M1102.1 530.7h0M1005.4 1090.2h0M1155.8 379.7h0M831.9 268.8h0M1533.6 700.9h0M1129.6 457.2h0M1451.7 520.9h0M1113.0 498.6h0M1185.0 355.3h0M1471.6 465.1h0M1352.8 801.9h0M830.5 369.8h0M1489.1 597.7h0M1168.0 332.0h0M1440.1 857.2h0M992.3 1130.0h0M1021.9 1148.6h0M1082.5 556.5h0M1099.7 562.9h0M1401.9 681.9h0M1506.2 710.8h0M1289.5 376.6h0M645.0 405.4h0M622.6 407.2h0M1322.2 577.1h0M1137.0 418.4h0M1482.5 533.6h0M1336.3 631.1h0M1364.2 597.4h0M1174.6 403.5h0M1146.7 649.2h0M1381.4 510.8h0M1274.2 551.2h0M1171.0 337.6h0M1647.8 597.3h0M1342.1 563.3h0M1044.8 1140.0h0M1092.1 554.6h0M1506.9 889.6h0M1574.9 652.4h0M819.6 475.9h0M1699.9 629.1h0M1176.9 335.9h0M1357.9 757.8h0M1166.4 812.3h0M1278.0 797.1h0M1239.4 464.4h0M1519.2 526.9h0M1114.1 538.1h0M1239.7 619.2h0M1210.2 458.5h0M1496.1 844.0h0M1168.0 761.8h0M1688.7 678.9h0M975.2 273.3h0M1199.3 485.9h0M1167.3 627.5h0M1514.6 705.8h0M1287.4 373.7h0M1250.9 433.7h0M822.4 465.3h0M1439.1 649.4h0M1299.0 399.8h0M1379.4 601.3h0M1098.4 536.2h0M1407.7 812.6h0M1331.8 676.5h0M1264.5 748.2h0M1262.9 811.1h0M1290.2 777.9h0M988.8 1114.5h0M1444.8 504.9h0M1643.3 608.9h0M1287.5 484.5h0M774.7 261.5h0M1067.4 1099.4h0M1128.3 608.5h0M1128.1 1179.1h0M1327.5 668.2h0M1492.7 736.6h0M876.6 328.8h0M1306.2 578.9h0M1012.8 1125.2h0M1034.1 1162.1h0M1368.3 717.0h0M1398.5 859.3h0M1198.0 621.9h0M1083.5 587.7h0M1252.5 564.5h0M1050.6 1165.7h0M1057.9 1165.7h0M1523.9 468.2h0M1290.6 674.1h0M1434.5 859.0h0M1485.1 873.3h0M1106.5 652.4h0M1359.0 612.6h0M1260.3 349.5h0M833.2 505.4h0M1304.0 792.0h0M998.5 1130.2h0M1476.7 841.9h0M1097.1 462.8h0M1475.3 576.7h0M1352.4 436.7h0M844.9 500.9h0M1256.0 604.9h0M1232.7 591.6h0M1340.4 511.6h0M449.6 573.2h0M1296.9 656.3h0M1331.1 497.0h0M732.5 440.3h0M1198.8 664.5h0M1195.6 815.6h0M850.3 472.7h0M1048.4 584.0h0M1493.9 561.9h0M1469.1 568.6h0M1259.6 464.4h0M1271.7 721.2h0M1369.1 737.2h0M1234.8 375.8h0M1066.7 525.0h0M1451.0 607.5h0M1243.5 806.9h0M1292.4 792.1h0M1410.0 527.7h0M1702.9 631.3h0M632.4 449.2h0M1588.3 648.1h0M880.8 242.4h0M1409.8 831.4h0M1106.7 1212.8h0M1113.8 1160.0h0M1482.3 547.5h0M1386.7 484.5h0M1165.1 804.7h0M1390.8 455.1h0M1187.4 751.0h0M1569.8 660.9h0M1288.0 556.2h0M1322.6 756.0h0M1090.4 1151.0h0M1421.7 695.9h0M1506.4 900.5h0M1268.7 444.9h0M1605.2 731.9h0M1300.1 744.9h0M1163.8 375.4h0M1424.3 845.3h0M1491.1 903.8h0M1069.1 1106.5h0M1126.8 527.4h0M1547.2 678.8h0M1073.4 1115.6h0M448.9 572.6h0M1126.1 338.5h0M1150.0 604.2h0M1307.5 455.4h0M1302.7 752.7h0M1054.1 551.9h0M1076.2 1163.3h0M1045.4 1173.3h0M1309.0 403.4h0M1089.7 415.5h0M1231.0 829.8h0M1671.3 661.0h0M1169.0 600.7h0M1123.7 373.5h0M1210.1 653.8h0M1158.6 661.1h0M1709.6 683.8h0M1152.4 485.7h0M1045.2 1149.5h0M1224.0 437.4h0M1693.1 696.3h0M1467.9 839.6h0M1102.3 1136.2h0M1433.8 457.2h0M1476.1 566.2h0M1225.4 414.6h0M902.3 219.8h0M1248.4 365.1h0M1100.6 371.5h0M1037.8 1154.8h0M1353.3 562.9h0M883.2 294.8h0M1425.6 611.7h0M1188.4 375.6h0M1436.1 429.6h0M1441.5 860.1h0M1080.2 341.4h0M1122.4 649.2h0M1219.6 439.1h0M1174.1 336.7h0M1025.3 287.4h0M1099.5 377.6h0M1112.0 1146.8h0M1201.7 397.4h0M789.4 469.1h0M1692.4 612.8h0M366.4 704.2h0M1281.2 360.1h0M1078.3 1154.5h0M1201.4 672.9h0M1131.1 351.3h0M877.3 380.4h0M1076.1 513.1h0M1280.2 631.0h0M1261.7 504.0h0M1326.9 602.6h0M1457.0 430.2h0M1453.5 478.9h0M1122.5 625.1h0M1408.3 725.9h0M1500.6 601.7h0M1051.4 1134.0h0M1198.9 336.0h0M1499.7 451.2h0M869.2 312.5h0M1036.2 1091.2h0M1148.4 1190.7h0M1457.4 804.5h0M863.6 344.8h0M1323.9 772.4h0M1110.8 1148.2h0M989.7 1117.4h0M1555.0 697.4h0M1413.2 471.7h0M1122.0 1161.3h0M1290.4 482.8h0M1288.6 390.6h0M1402.5 464.3h0M1542.6 675.5h0M885.5 328.5h0M1139.6 1128.0h0M1661.1 631.7h0M1249.3 715.8h0M1109.7 651.8h0M685.1 420.0h0M985.5 1110.0h0M1671.0 608.9h0M1489.7 513.4h0M1068.9 1103.6h0M1520.7 552.5h0M1161.7 445.5h0M1287.5 505.5h0M1001.9 1094.6h0M793.6 435.5h0M1378.7 468.0h0M1035.5 564.9h0M697.0 470.1h0M1627.8 659.4h0M1586.2 681.0h0M667.1 456.4h0M1163.2 567.0h0M1396.5 720.2h0M1290.3 552.8h0M1055.1 1119.1h0M1109.2 1128.7h0M1297.1 369.0h0M1382.7 693.8h0M1379.2 549.2h0M1132.3 661.8h0M1153.1 604.2h0M1480.2 871.7h0M844.8 453.2h0M1098.1 1131.5h0M1459.3 639.9h0M647.9 395.6h0M1371.1 731.2h0M1079.6 1140.0h0M1076.2 557.6h0M1260.6 347.9h0M1550.1 677.5h0M1546.2 698.8h0M1433.6 889.2h0M1445.2 873.4h0M933.1 300.6h0M996.4 1117.5h0M1144.8 804.6h0M1142.9 462.3h0M1067.6 1124.6h0M1048.7 1115.7h0M1290.3 381.8h0M1113.5 1109.9h0M1472.8 477.3h0M1622.6 652.5h0M1200.8 782.9h0M1296.1 372.4h0M1515.1 571.4h0M1348.4 744.9h0M1027.7 1109.9h0M1468.4 560.9h0M1018.5 1097.1h0M1106.6 1181.1h0M1435.9 602.9h0M1227.1 457.8h0M1446.0 648.5h0M1019.8 1128.2h0M1570.3 718.0h0M1192.0 785.6h0M1449.0 491.3h0M1408.0 835.4h0M1258.6 852.9h0M1256.4 527.0h0M1175.8 623.9h0M1143.4 609.4h0M1055.4 1172.3h0M799.2 459.8h0M1186.1 465.7h0M792.9 447.6h0M1387.9 736.3h0M1276.3 733.4h0M890.5 512.9h0M1512.1 905.0h0M814.4 474.8h0M1357.1 707.6h0M1262.3 486.0h0M1013.0 351.6h0M508.6 678.8h0M1457.0 798.4h0M1126.1 1207.6h0M1537.6 518.7h0M1040.6 292.0h0M1505.4 593.2h0M1346.2 524.7h0M1101.1 1173.4h0M1228.0 451.8h0M1130.2 1109.3h0M1224.5 794.4h0M1106.4 361.3h0M1570.8 735.2h0M1076.5 1129.3h0M1047.0 1148.4h0M649.6 376.4h0M1238.2 697.1h0M1141.1 493.0h0M1098.9 1183.2h0M1410.6 513.0h0M1295.0 625.5h0M785.2 454.1h0M1280.6 405.8h0M1029.6 1111.3h0M1149.2 398.3h0M1083.9 482.5h0M1516.2 522.0h0M1501.3 441.3h0M1276.5 654.6h0M998.4 1140.6h0M1669.0 613.8h0M1242.1 596.7h0M1342.1 654.0h0M1304.3 755.4h0M1316.5 443.6h0M1517.9 529.2h0M1219.5 364.5h0M1280.3 740.7h0M1235.3 679.9h0M1517.7 556.6h0M1334.5 445.4h0M1099.7 1148.7h0M1467.1 556.0h0M1657.6 592.2h0M1085.1 1168.4h0M1196.7 843.2h0M1201.9 354.7h0M1708.0 668.5h0M1079.9 1119.7h0M1601.0 737.0h0M761.0 349.1h0M1680.2 598.6h0M1422.1 801.2h0M1208.3 641.9h0M1314.5 658.6h0M1364.2 584.8h0M1075.0 1101.9h0M595.4 717.7h0M1133.4 1198.8h0M827.9 369.3h0M1641.3 707.4h0M1096.8 531.2h0M791.1 491.6h0M1144.0 350.7h0M1282.4 554.3h0M1055.7 1179.2h0M1083.2 1138.6h0M1204.2 678.8h0M1174.8 358.2h0M1221.1 658.0h0M1303.7 765.4h0M1116.1 416.9h0M781.8 466.4h0M1169.0 344.2h0M1368.5 700.0h0M976.6 1090.2h0M1139.7 506.6h0M1185.6 680.7h0M1372.7 774.5h0M1127.2 557.3h0M654.1 442.6h0M1557.2 702.5h0M1321.9 623.6h0M1671.2 586.0h0M1063.6 1141.1h0M1399.1 500.0h0M828.1 242.5h0M1329.9 672.7h0M1347.8 478.6h0M1380.1 581.8h0M1444.7 605.1h0M1090.8 572.3h0M1108.3 1162.0h0M1179.1 446.8h0M1675.1 601.9h0M1065.0 520.6h0M1090.4 563.5h0M1438.3 799.8h0M1214.5 355.9h0M1233.4 449.1h0M1181.9 600.3h0M1467.3 815.5h0M1453.8 708.0h0M1442.6 625.2h0M1138.3 392.7h0M1521.8 733.5h0M1006.4 1157.3h0M1283.6 627.3h0M1444.4 575.3h0M835.0 243.6h0M1454.1 915.6h0M1412.8 457.6h0M1470.8 567.5h0M1504.3 441.2h0M1088.6 600.1h0M1015.6 1097.8h0M1040.9 525.6h0M1198.7 549.8h0M1143.4 511.2h0M1479.4 415.1h0M1283.3 792.8h0M1182.5 382.3h0M1526.1 693.1h0M1281.4 818.3h0M1264.5 844.4h0M1233.9 598.9h0M1458.3 834.2h0M800.4 481.0h0M1319.6 420.9h0M1103.1 488.9h0M1113.9 592.9h0M1095.3 536.1h0M1452.5 854.2h0M1550.4 679.3h0M1499.3 525.4h0M1618.6 720.6h0M1073.9 1132.5h0M1179.1 360.4h0M1461.9 536.1h0M1253.6 538.5h0M1436.7 422.5h0M1073.1 1103.9h0M788.1 486.7h0M1352.6 453.2h0M1381.2 659.1h0M1062.9 1170.8h0M1487.1 817.8h0M1545.0 705.0h0M1261.3 616.6h0M1420.0 780.7h0M1301.8 794.5h0M1112.8 1222.4h0M1429.9 477.0h0M1066.5 591.9h0M1609.4 627.7h0M987.5 1099.9h0M1532.8 717.0h0M842.2 497.9h0M1406.9 643.4h0M1468.8 603.7h0M880.7 329.7h0M1113.8 1221.2h0M1338.9 635.3h0M1181.2 393.0h0M1576.7 689.2h0M1622.6 711.9h0M1428.3 531.9h0M1129.3 361.3h0M1089.4 1108.1h0M864.0 381.4h0M1388.8 508.2h0M1142.6 1121.0h0M686.3 423.0h0M842.9 315.7h0M1086.8 1175.5h0M1323.7 632.2h0M1251.4 819.3h0M1145.9 668.7h0M1191.9 767.4h0M847.0 377.9h0M1307.5 704.5h0M1318.1 674.6h0M908.1 238.7h0M1224.6 704.7h0M1341.7 608.1h0M1468.8 455.6h0M813.9 504.9h0M1143.3 517.4h0M1422.3 554.4h0M1167.9 661.2h0M1114.4 505.0h0M1423.8 749.5h0M1119.0 353.8h0M1093.7 449.4h0M804.5 516.9h0M1318.1 416.4h0M1507.2 879.6h0M859.9 303.5h0M1128.2 603.2h0M1207.8 537.2h0M1020.2 566.5h0M1337.5 429.3h0M802.1 264.4h0M1107.8 1158.2h0M889.0 246.6h0M1448.0 813.3h0M1207.9 608.4h0M1273.9 718.3h0M1420.2 726.4h0M812.2 467.3h0M908.7 326.1h0M1121.2 1198.2h0M807.2 450.8h0M1304.1 551.3h0M811.2 495.6h0M1127.7 471.2h0M1474.4 818.4h0M1290.2 434.1h0M1216.5 447.0h0M1076.9 527.4h0M1507.2 580.3h0M1419.5 520.8h0M1167.4 389.1h0M1170.8 577.5h0M1492.5 724.9h0M1477.3 929.0h0M1384.2 758.1h0M770.1 281.6h0M1541.2 550.6h0M1129.4 1181.5h0M1448.8 792.4h0M1460.2 522.0h0M1447.0 803.1h0M1478.2 417.8h0M1013.8 351.1h0M1049.0 1149.1h0M1153.4 358.8h0M1191.8 809.6h0M1428.9 825.5h0M1077.9 1130.5h0M1118.0 1128.6h0M1419.6 701.1h0M1115.9 337.3h0M1308.0 397.5h0M1294.6 595.0h0M1310.0 777.4h0M1276.5 795.6h0M1195.8 825.3h0M1056.7 1102.9h0M1368.9 484.4h0M970.5 1113.4h0M1446.0 456.0h0M1128.6 1113.9h0M1298.2 433.3h0M1361.1 610.5h0M1090.6 478.9h0M1395.2 634.4h0M1268.8 447.3h0M1335.3 421.1h0M1527.1 720.1h0M1220.2 724.8h0M1409.1 631.5h0M1507.3 887.6h0M1629.9 599.5h0M797.4 501.7h0M1245.1 351.0h0M1459.0 876.5h0M1093.6 1159.9h0M869.3 404.0h0M1345.0 441.9h0M1107.7 573.8h0M1316.5 581.6h0M952.0 333.7h0M1419.2 535.9h0M1663.9 668.5h0M1260.2 725.9h0M1304.5 602.2h0M1319.6 634.1h0M850.7 505.1h0M1357.8 700.9h0M1483.5 481.8h0M1075.5 1174.3h0M1231.5 427.2h0M1102.0 1146.0h0M1358.9 695.0h0M1176.5 506.8h0M1024.0 565.2h0M936.3 227.1h0M1272.3 715.9h0M861.5 391.5h0M1361.0 605.9h0M1250.1 477.6h0M1326.5 590.8h0M1518.0 535.4h0M1688.8 661.7h0M1568.4 672.9h0M1550.4 690.3h0M1188.4 821.1h0M1069.9 490.5h0M656.7 442.2h0M1132.4 334.4h0M1110.5 1163.8h0M1431.7 838.9h0M841.5 390.0h0M927.3 246.6h0M1026.4 555.6h0M1358.0 606.0h0M1572.7 718.9h0M1408.9 551.2h0M1451.7 898.4h0M1242.8 799.8h0M1056.3 533.2h0M1196.5 354.6h0M1153.7 480.9h0M1345.0 478.9h0M1048.1 1166.2h0M808.3 439.5h0M1469.0 871.0h0M1116.6 1178.1h0M1258.2 784.6h0M1057.9 1172.8h0M1129.9 1154.4h0M1455.0 880.1h0M1501.3 430.8h0M1119.5 441.1h0M1239.2 590.5h0M1269.1 371.8h0M1628.4 705.4h0M1637.2 640.4h0M1214.7 695.3h0M1411.3 849.9h0M1069.7 1139.6h0M1663.8 626.2h0M1184.4 402.8h0M1471.4 423.5h0M1043.4 1157.5h0M1516.6 729.3h0M1521.3 822.0h0M1174.6 812.5h0M1487.2 543.7h0M1209.9 352.5h0M1426.7 524.5h0M1176.1 421.7h0M1353.1 672.2h0M1109.6 1216.3h0M1392.7 666.4h0M1445.7 431.8h0M1037.3 1147.7h0M1619.3 617.3h0M1073.9 1173.1h0M1516.9 541.2h0M1173.4 789.8h0M1094.8 587.4h0M1270.8 619.1h0M751.5 484.0h0M1275.6 506.1h0M1658.1 623.2h0M1395.7 724.3h0M1602.2 689.7h0M1242.9 550.5h0M1296.1 580.8h0M1458.3 623.5h0M520.1 686.9h0M1575.0 724.3h0M929.0 279.8h0M1189.8 458.4h0M1574.1 685.7h0M1485.4 484.5h0M907.0 229.4h0M1534.3 510.1h0M883.6 224.2h0M1408.2 601.9h0M1206.2 351.6h0M1198.5 635.3h0M1351.0 559.3h0M1172.2 597.5h0M1678.3 664.6h0M1453.7 571.4h0M1505.2 726.0h0M867.1 329.6h0M1340.0 460.1h0M1462.7 620.8h0M1158.8 814.7h0M1258.2 741.4h0M1087.4 383.0h0M1137.2 1189.6h0M1252.9 549.5h0M1386.8 489.9h0M1066.2 1131.6h0M1220.8 344.0h0M1433.4 691.0h0M1004.5 1155.0h0M1455.5 548.6h0M1384.5 553.3h0M999.4 1135.6h0M1066.0 1136.5h0M1202.0 775.2h0M1187.6 554.9h0M1333.4 413.3h0M1074.0 487.1h0M1138.6 1178.2h0M1039.9 1173.1h0M1002.9 1112.2h0M1607.3 644.0h0M852.9 391.0h0M1188.5 420.0h0M1053.8 1097.5h0M1071.1 355.2h0M1291.7 488.8h0M1252.7 535.6h0M1323.5 637.0h0M826.9 370.9h0M1101.1 1141.2h0M1112.2 636.7h0M1220.1 721.8h0M1503.9 448.1h0M1492.3 532.2h0M1047.3 1151.6h0M1286.4 554.4h0M1075.2 1118.0h0M1178.7 831.8h0M1698.6 661.5h0M981.9 248.7h0M1004.9 1110.8h0M1476.1 899.9h0M1096.4 364.2h0M1167.9 657.7h0M381.5 793.0h0M1455.4 631.1h0M1497.3 797.3h0M1103.5 1215.4h0M1059.8 1167.8h0M1589.1 677.4h0M1669.2 615.3h0M1244.0 835.4h0M1213.8 380.4h0M1507.8 825.6h0M1090.4 1099.5h0M1486.0 452.9h0M1161.0 334.1h0M1138.5 546.4h0M1412.6 511.4h0M1470.8 428.0h0M1475.9 862.9h0M1091.3 552.5h0M1318.2 652.8h0M1409.7 480.2h0M1309.2 774.1h0M1278.1 587.7h0M1107.3 539.5h0M1487.7 903.0h0M1096.4 451.8h0M683.7 468.5h0M982.9 1085.7h0M689.1 437.0h0M1340.6 431.3h0M1147.7 541.3h0M879.2 363.0h0M1199.9 826.1h0M1305.6 508.2h0M977.1 1121.0h0M1163.1 525.9h0M1141.4 644.7h0M1272.1 364.8h0M1017.4 1153.2h0M1110.6 1201.0h0M1504.8 548.2h0M1454.6 901.3h0M1225.4 393.9h0M860.2 305.6h0M1461.5 623.8h0M658.9 410.4h0M1014.3 351.9h0M1385.0 707.7h0M1516.3 873.6h0M1647.3 625.3h0M1484.9 867.2h0M1243.5 346.1h0M1412.6 463.9h0M1084.4 459.2h0M381.3 715.9h0M1438.9 605.9h0M792.5 257.2h0M883.3 262.4h0M1283.7 782.1h0M1224.5 449.0h0M922.4 300.1h0M1324.4 467.3h0M1086.5 1101.8h0M1363.4 610.4h0M1081.4 1167.1h0M1083.4 1151.5h0M1372.6 764.5h0M1468.2 858.5h0M1663.6 714.3h0M1058.8 1137.6h0M1434.2 533.3h0M1100.3 360.3h0M1165.3 489.9h0M1042.7 1138.4h0M1351.8 445.8h0M1078.4 1117.0h0M1097.6 1117.5h0M1463.6 856.3h0M1304.8 527.4h0M1357.5 437.5h0M1068.5 1181.2h0M1201.2 555.3h0M1272.1 836.8h0M791.1 454.8h0M1069.8 344.8h0M972.9 1111.8h0M1311.6 693.3h0M1246.4 750.1h0M592.0 713.6h0M1512.9 460.6h0M925.8 316.1h0M1337.7 654.2h0M1410.7 844.3h0M1640.9 651.8h0M1067.4 1177.3h0M827.3 495.7h0M1259.8 789.3h0M1060.7 1148.5h0M1287.1 614.9h0M1418.6 730.6h0M1372.4 667.4h0M1136.4 374.2h0M1204.1 341.2h0M1367.2 473.7h0M1419.7 643.0h0M1141.2 464.1h0M1218.0 496.0h0M1466.0 603.8h0M1456.4 600.9h0M1587.0 667.0h0M865.4 356.9h0M1071.5 1129.9h0M1069.3 1176.6h0M1087.4 1134.4h0M1628.5 608.4h0M1341.2 669.8h0M1255.3 457.4h0M1417.0 849.2h0M1123.8 1146.8h0M451.5 574.7h0M1250.9 772.8h0M1519.9 840.0h0M1243.4 458.2h0M1215.1 751.1h0M1194.4 585.5h0M1052.6 1118.2h0M1659.7 631.5h0M1152.4 562.6h0M1509.2 585.0h0M861.4 343.9h0M1613.4 711.9h0M829.9 372.6h0M1112.9 427.5h0M1328.0 590.1h0M1647.7 631.8h0M1085.1 1141.9h0M1349.9 643.8h0M1685.4 661.3h0M1187.0 797.4h0M1292.1 549.8h0M1473.0 474.5h0M1125.2 459.2h0M1231.6 458.9h0M1473.8 808.3h0M1200.9 346.1h0M873.2 226.2h0M1336.7 628.0h0M1010.6 1157.6h0M1025.5 560.0h0M1368.6 576.6h0M1468.6 417.1h0M1241.2 372.8h0M1289.7 807.2h0M1141.2 1191.7h0M1160.8 798.5h0M1305.8 849.8h0M1088.7 1150.0h0M1412.5 835.6h0M1057.4 1148.8h0M1316.4 420.0h0M1171.3 508.9h0M1479.4 494.8h0M1118.5 1209.0h0M1690.0 647.7h0M1354.1 551.6h0M983.1 1122.0h0M1486.5 568.4h0M1317.2 479.5h0M1430.9 581.6h0M1697.0 667.0h0M1672.1 669.6h0M1280.2 586.8h0M1108.7 1169.2h0M1347.0 464.0h0M1252.5 746.2h0M1409.0 845.9h0M1135.5 1198.4h0M1105.6 1137.1h0M1469.8 922.5h0M1220.9 518.8h0M1261.0 565.7h0M1113.6 490.9h0M1205.8 679.6h0M1147.3 673.1h0M1032.8 535.7h0M1543.4 682.8h0M1146.3 640.2h0M1062.0 1118.3h0M1106.2 627.0h0M1098.4 407.1h0M1652.8 599.1h0M1176.5 346.6h0M1160.7 820.4h0M1282.0 373.2h0M1117.2 1148.8h0M1217.2 761.1h0M1084.0 608.5h0M1200.0 518.0h0M1513.9 497.4h0M1347.0 517.5h0M1341.2 495.5h0M1634.4 675.1h0M1690.0 590.7h0M1633.6 598.9h0M1259.7 359.1h0M970.2 326.3h0M783.6 462.2h0M1400.5 499.1h0M1515.0 880.1h0M1679.6 656.2h0M1474.9 851.4h0M1476.7 448.6h0M1158.1 365.6h0M1248.5 791.2h0M907.5 329.0h0M1199.2 520.6h0M1085.7 1135.7h0M1114.2 1210.4h0M1709.0 640.7h0M1229.3 354.6h0M1495.0 526.5h0M1435.7 390.9h0M1351.5 443.4h0M1521.3 456.1h0M1090.8 483.7h0M1676.0 692.1h0M932.5 229.4h0M1259.5 563.0h0M1021.9 563.3h0M1692.7 597.7h0M1217.4 517.3h0M1521.7 509.7h0M1213.3 781.3h0M1246.2 620.9h0M1462.7 819.7h0M1569.3 658.0h0M1287.3 591.1h0M821.8 290.3h0M1619.7 687.3h0M1341.2 566.5h0M1097.8 367.3h0M1173.0 662.1h0M1075.4 1168.9h0M882.6 395.8h0M1106.0 1213.3h0M1658.3 636.9h0M1446.3 409.4h0M1097.3 1184.8h0M1258.6 676.1h0M1451.8 596.4h0M1704.3 591.0h0M1266.7 365.2h0M1605.9 671.4h0M1671.8 601.9h0M1462.2 809.5h0M1068.6 1171.5h0M1230.9 478.4h0M1659.4 626.4h0M1514.7 499.1h0M1025.2 1144.9h0M1289.5 486.9h0M1332.5 417.5h0M1137.1 349.8h0M1037.0 1164.1h0M1272.8 698.6h0M1224.4 766.7h0M1597.7 706.5h0M1664.0 689.0h0M1523.2 494.8h0M1246.4 734.7h0M1108.6 612.1h0M1285.4 705.9h0M1296.6 517.5h0M877.5 410.2h0M1080.3 453.3h0M1536.3 559.8h0M1435.4 836.8h0M1118.2 1166.2h0M1496.5 466.7h0M1279.9 378.0h0M1297.3 702.5h0M1439.9 579.6h0M1149.8 570.0h0M1212.7 687.3h0M1413.3 812.7h0M1320.7 546.1h0M1429.8 798.9h0M1132.1 1197.4h0M1175.6 601.1h0M1171.7 506.2h0M1481.5 477.9h0M1303.5 663.2h0M1320.8 776.3h0M1165.3 777.0h0M1222.8 416.7h0M1425.3 817.4h0M1220.0 762.7h0M815.2 367.0h0M858.7 393.3h0M1308.9 786.9h0M1239.9 738.6h0M1537.8 685.4h0M1440.2 676.6h0M817.3 455.8h0M1121.8 615.2h0M1440.9 855.3h0M1142.0 528.4h0M1018.2 1135.6h0M1045.2 339.6h0M1159.2 809.7h0M1657.9 656.9h0M1027.8 1138.0h0M1002.4 1102.6h0M1120.3 471.4h0M1468.4 473.3h0M1496.7 908.9h0M1375.0 492.5h0M864.1 395.7h0M1277.8 846.5h0M1189.4 636.0h0M1326.9 402.0h0M1460.0 915.0h0M1013.8 1154.1h0M1423.2 732.1h0M842.2 507.5h0M1136.4 1115.9h0M762.4 287.8h0M1186.8 803.3h0M1145.6 564.5h0M1002.1 1108.9h0M1124.1 1195.3h0M1086.1 1099.1h0M1323.0 625.9h0M1469.4 602.7h0M1524.3 556.3h0M1670.5 620.0h0M1147.9 353.6h0M1232.5 356.0h0M1293.8 434.9h0M1412.5 690.1h0M643.6 437.2h0M1437.3 665.1h0M1175.0 344.8h0M1408.7 814.2h0M1426.1 546.9h0M843.4 248.2h0M664.4 461.7h0M1228.9 548.8h0M1268.8 660.1h0M1235.3 743.1h0M1099.6 389.4h0M1159.6 790.6h0M1500.0 432.3h0M1433.1 820.5h0M1236.1 514.1h0M1202.8 810.5h0M1279.2 407.3h0M999.8 1148.1h0M1037.0 1096.4h0M873.7 493.8h0M1389.9 561.3h0M1322.4 549.8h0M1376.2 584.2h0M851.8 492.1h0M1460.9 851.8h0M1519.1 579.6h0M1080.4 1196.2h0M1202.2 686.2h0M1507.5 867.2h0M1124.4 1191.0h0M824.0 376.9h0M1369.1 523.0h0M1183.1 345.3h0M1330.7 427.3h0M1119.9 1192.1h0M1226.8 747.3h0M1038.9 1110.7h0M1445.2 868.7h0M1498.4 558.4h0M1437.4 543.3h0M1330.3 692.9h0M1327.2 404.2h0M1479.5 885.4h0M1098.9 1192.2h0M1272.0 353.6h0M1250.5 710.0h0M1350.4 756.6h0M1050.0 1106.0h0M1234.6 563.4h0M1216.2 708.6h0M684.9 396.4h0M1083.8 1175.0h0M1380.0 584.6h0M873.4 511.1h0M974.2 1090.6h0M1101.2 1210.7h0M913.9 339.4h0M1459.6 558.9h0M1230.1 580.1h0M1432.2 483.1h0M1111.3 380.4h0M805.2 436.7h0M1384.5 736.6h0M1102.4 1155.0h0M1484.7 593.7h0M1318.8 668.3h0M1290.9 428.7h0M1232.2 763.4h0M1447.7 830.9h0M1400.0 480.5h0M1323.5 416.1h0M803.1 457.2h0M1470.0 911.8h0M1117.3 649.2h0M1155.0 779.2h0M1426.3 542.1h0M1479.7 849.7h0M1401.3 696.6h0M1467.2 882.9h0M1207.6 359.6h0M369.3 705.2h0M1104.6 413.7h0M1643.0 715.5h0M1493.5 897.7h0M1176.0 753.6h0M1251.2 349.9h0M1343.0 530.5h0M647.1 375.2h0M1566.8 696.6h0M891.5 244.1h0M1475.4 853.2h0M1445.8 608.3h0M1089.7 371.6h0M1270.0 364.4h0M849.9 273.3h0M1123.2 447.1h0M1460.9 541.6h0M1119.0 1126.4h0M1585.9 648.3h0M1096.5 1133.0h0M1346.7 664.2h0M1347.9 452.9h0M1011.4 1145.3h0M1130.1 1202.5h0M1631.1 619.4h0M1302.9 583.7h0M631.7 433.7h0M1104.5 1151.5h0M1215.0 384.3h0M927.2 340.5h0M1337.7 686.4h0M1338.6 426.4h0M1090.4 406.1h0M1462.3 832.2h0M813.0 516.3h0M1164.6 563.7h0M920.2 278.4h0M779.1 249.5h0M1201.9 484.7h0M446.3 570.0h0M1229.6 808.8h0M1056.3 1136.7h0M1709.6 646.4h0M1331.4 724.6h0M1127.8 1190.8h0M1061.3 1128.7h0M1320.5 629.3h0M1383.8 839.1h0M1310.5 624.1h0M1688.0 620.5h0M1229.6 678.1h0M1205.1 797.9h0M1232.3 813.4h0M1293.9 551.1h0M1260.0 585.3h0M1695.2 588.3h0M1100.8 1132.6h0M1613.8 639.6h0M1679.0 713.3h0M1511.7 903.9h0M1262.2 794.6h0M1224.7 749.8h0M1653.7 699.4h0M868.4 368.8h0M793.8 472.8h0M930.8 244.5h0M1179.7 807.0h0M773.2 298.6h0M1315.0 762.6h0M1225.4 492.6h0M1098.2 423.1h0M770.4 271.7h0M1255.7 710.6h0M1160.6 341.4h0M1040.3 1144.8h0M1068.5 575.9h0M1266.0 419.0h0M1495.4 529.6h0M1333.5 401.4h0M1415.1 464.9h0M804.0 358.5h0M1111.2 461.1h0M448.3 571.7h0M1342.1 425.6h0M1179.4 352.6h0M1215.2 353.0h0M1437.5 864.5h0M1260.4 592.2h0M1217.7 387.2h0M1154.6 488.0h0M1133.4 1155.3h0M1209.7 437.8h0M1083.9 1156.0h0M1126.4 489.8h0M1118.2 417.5h0M1440.8 611.6h0M1012.9 1148.6h0M1099.9 1145.7h0M1102.6 1167.4h0M1497.3 602.1h0M1096.9 454.7h0M1081.3 1115.1h0M1293.1 568.1h0M806.0 492.4h0M1145.3 334.2h0M979.6 1136.7h0M1314.0 749.0h0M1440.8 597.1h0M1174.4 364.2h0M1387.8 590.8h0M1016.2 1140.6h0M1497.2 501.5h0M1208.0 726.5h0M1271.8 823.6h0M1266.3 580.7h0M1301.9 395.8h0M1651.0 626.6h0M1293.2 714.2h0M1482.8 469.1h0M1041.8 1114.0h0M1123.5 431.5h0M1364.2 627.6h0M1418.7 827.5h0M1294.7 786.4h0M1173.7 481.0h0M1306.7 649.7h0M1207.7 440.2h0M610.2 726.4h0M1359.3 619.3h0M1327.1 596.2h0M1326.0 767.5h0M1133.7 1116.6h0M1633.9 607.3h0M1432.6 841.2h0M1131.2 669.0h0M1093.4 358.5h0M859.1 268.3h0M1114.2 485.8h0M1178.8 754.9h0M1118.4 1112.3h0M1084.7 1197.3h0M1621.9 721.7h0M1441.3 835.6h0M1627.3 707.8h0M1252.7 353.6h0M1525.4 729.8h0M1415.3 507.7h0M1251.8 427.4h0M1121.4 1208.0h0M1081.0 1171.2h0M1353.1 546.0h0M1208.0 639.1h0M1057.2 564.6h0M1111.6 1113.6h0M1303.8 621.0h0M1550.9 746.5h0M1023.9 1096.0h0M1399.3 490.4h0M1223.1 539.0h0M1482.2 536.7h0M979.5 1086.9h0M1417.9 841.5h0M1301.0 613.0h0M1468.4 904.5h0M1697.0 585.3h0M629.7 396.8h0M1310.7 804.5h0M1148.0 1187.3h0M1247.7 427.7h0M1368.1 596.9h0M1505.5 566.4h0M1096.3 1145.3h0M1689.3 606.3h0M1246.2 761.0h0M1297.0 422.7h0M1181.9 484.7h0M1103.4 1190.6h0M1682.9 631.0h0M1397.3 777.4h0M823.8 366.3h0M1402.2 704.5h0M1618.2 690.7h0M998.3 1087.1h0M1345.2 736.0h0M1435.3 880.0h0M1312.8 402.4h0M1175.2 764.5h0M1232.4 457.4h0M1270.7 585.6h0M1228.7 600.7h0M910.6 230.7h0M1283.9 509.8h0M1277.1 359.9h0M1102.7 532.9h0M1289.0 536.3h0M977.4 260.4h0M1079.7 430.7h0M1269.4 595.9h0M1645.4 614.0h0M1134.8 1134.3h0M1093.9 1147.2h0M1471.3 836.1h0M1101.6 562.3h0M1371.3 645.6h0M1080.2 1157.5h0M1068.7 565.3h0M1352.2 711.2h0M1458.6 906.9h0M1389.4 718.5h0M1472.3 530.4h0M784.4 470.3h0M1093.6 1196.6h0M1116.2 1155.6h0M1481.5 450.8h0M1277.1 447.0h0M1106.2 1132.1h0M1239.2 788.8h0M1444.4 464.3h0M1404.5 756.4h0M1244.4 822.6h0M1692.1 587.7h0M1561.2 740.1h0M832.9 363.9h0M787.6 480.6h0M1271.8 360.6h0M1343.5 456.5h0M1612.6 636.9h0M1503.2 541.3h0M858.1 480.0h0M1339.3 694.1h0M1222.2 431.7h0M1464.6 874.3h0M1141.4 532.0h0M1262.6 715.9h0M1175.2 382.8h0M1409.8 629.2h0M1249.5 835.5h0M905.1 224.3h0M1446.9 520.6h0M1499.2 862.3h0M1164.5 754.9h0M1327.5 672.5h0M1261.7 351.6h0M608.3 726.7h0M1123.7 1144.5h0M1267.2 538.6h0M1448.9 603.1h0M1152.6 343.7h0M1070.0 1151.0h0M1177.9 777.9h0M1246.7 555.7h0M964.2 272.9h0M1195.1 834.8h0M1093.8 426.9h0M1189.5 417.6h0M1188.5 362.7h0M1101.8 1205.9h0M869.7 238.7h0M959.5 249.1h0M787.8 496.0h0M1598.2 690.2h0M1277.9 530.8h0M831.3 488.3h0M1221.1 691.3h0M1384.8 745.1h0M1090.3 457.7h0M1350.3 663.5h0M1273.0 523.7h0M1259.8 473.9h0M1101.7 351.2h0M1345.2 527.2h0M1191.7 819.4h0M1206.2 341.0h0M1189.8 348.9h0M1071.4 1112.8h0M1067.7 1112.2h0M1456.8 572.4h0M1403.9 461.5h0M1231.9 493.4h0M1563.7 728.6h0M1348.6 635.6h0M1190.7 659.0h0M1345.3 704.4h0M1488.1 557.9h0M1283.9 379.5h0M1449.0 811.4h0M671.3 471.1h0M986.0 1126.3h0M1231.5 392.8h0M1170.9 569.7h0M1125.2 455.6h0M981.4 1115.3h0M1377.6 501.9h0M1640.0 634.1h0M1474.7 598.8h0M1289.2 380.1h0M1293.5 476.4h0M1422.9 789.5h0M968.2 1113.4h0M1316.4 524.6h0M1394.6 741.5h0M1215.3 503.6h0M1438.7 382.5h0M868.4 349.3h0M1393.1 731.8h0M1247.4 352.4h0M1372.8 735.9h0M1331.8 514.3h0M1438.1 464.1h0M1128.7 1195.8h0M1710.9 626.6h0M860.9 374.2h0M1314.7 565.2h0M1196.7 777.1h0M1205.4 837.1h0M1402.1 778.5h0M1384.8 590.0h0M1072.0 535.4h0M1104.2 452.3h0M1645.7 699.4h0M1164.0 1108.2h0M1098.3 1202.2h0M1321.3 499.7h0M1172.1 804.3h0M1101.6 1114.6h0M1093.9 561.4h0M1288.1 493.7h0M1493.5 478.8h0M1256.5 592.8h0M1676.1 598.7h0M1214.7 559.1h0M1098.8 462.6h0M1021.9 1114.5h0M1179.4 685.4h0M1292.0 413.8h0M1512.7 704.1h0M1321.7 473.6h0M1193.8 700.1h0M791.7 486.2h0M1433.5 451.2h0M1266.8 567.0h0M1135.9 399.3h0M1084.5 542.6h0M1169.5 555.1h0M1045.6 1161.7h0M1262.8 819.8h0M1418.3 832.7h0M869.2 394.2h0M1496.8 902.2h0M1109.9 1209.2h0M1381.5 551.3h0M1483.1 435.7h0M810.8 244.5h0M1257.9 620.6h0M1152.7 523.4h0M1301.4 584.5h0M1164.0 657.2h0M1334.2 598.1h0M1078.4 1136.3h0M849.4 498.1h0M1641.7 642.1h0M1195.3 538.9h0M1242.7 601.8h0M1365.7 532.7h0M801.2 491.1h0M1504.5 522.9h0M865.5 327.4h0M883.6 335.2h0M1085.9 619.1h0M1339.4 550.3h0M1286.8 404.1h0M1118.8 556.3h0M1502.9 573.8h0M1103.2 466.8h0M1107.3 1129.5h0M1466.9 901.3h0M1241.6 345.5h0M831.1 295.9h0M1324.4 799.4h0M1183.5 367.3h0M1379.9 699.1h0M1606.2 734.2h0M1470.2 893.3h0M1251.5 514.6h0M1539.5 529.4h0M1489.1 768.6h0M1324.1 551.1h0M1248.0 354.8h0M1545.5 518.0h0M1171.0 432.0h0M1294.3 585.8h0M1290.4 393.8h0M817.4 349.8h0M1608.5 672.4h0M1374.7 627.5h0M1239.3 513.9h0M1523.3 857.9h0M1121.6 1112.4h0M1070.3 441.3h0M1241.9 570.6h0M1430.5 808.8h0M1245.7 801.5h0M1078.5 1177.6h0M1657.8 688.4h0M1115.0 1207.8h0M1059.4 1179.1h0M897.7 265.2h0M1528.7 543.4h0M1209.1 653.0h0M1126.2 352.7h0M1311.3 599.0h0M1345.4 560.0h0M1261.5 708.4h0M1125.7 350.5h0M1505.1 451.3h0M1233.8 497.2h0M1099.0 1147.2h0M1272.5 838.9h0M1449.3 904.7h0M1482.8 501.1h0M1455.0 642.3h0M1264.0 567.2h0M1014.9 1152.2h0M1522.7 558.3h0M1481.8 563.0h0M1449.9 572.5h0M1210.1 342.2h0M1602.0 637.4h0M1186.3 379.5h0M1379.8 754.7h0M1529.6 485.2h0M1644.6 662.5h0M1684.0 620.1h0M1076.6 403.2h0M1031.7 1094.8h0M1230.9 361.6h0M1244.6 691.5h0M821.4 255.7h0M1097.9 1197.5h0M828.4 374.4h0M1529.8 528.6h0M1204.6 645.1h0M1328.5 527.5h0M1268.6 821.2h0M1589.2 679.4h0M1049.0 1134.9h0M1181.9 789.9h0M990.1 1120.4h0M1303.6 628.8h0M1168.1 407.2h0M1293.8 768.9h0M1259.5 823.3h0M1429.0 467.0h0M1029.2 1146.3h0M1144.4 463.6h0M1613.3 702.5h0M438.4 566.0h0M1401.0 547.6h0M1190.2 436.9h0M1561.1 702.5h0M1192.4 672.8h0M1097.4 1152.2h0M1466.3 874.1h0M1154.6 666.3h0M1357.8 487.4h0M1169.4 826.5h0M1293.1 557.3h0M1321.3 430.8h0M1364.6 666.4h0M788.0 471.0h0M1325.4 473.8h0M1103.9 572.6h0M1284.9 374.9h0M1226.7 834.4h0M1244.8 339.4h0M1688.0 698.7h0M1113.0 1188.8h0M809.8 351.5h0M1166.2 502.2h0M1061.3 1168.7h0M1230.6 742.0h0M1183.8 754.1h0M1036.2 569.8h0M781.1 253.4h0M1182.8 398.5h0M1458.2 880.0h0M1626.6 712.7h0M1219.2 585.1h0M1144.8 381.2h0M1052.6 1173.4h0M1531.0 720.2h0M1349.5 613.6h0M1293.2 596.1h0M1058.3 536.1h0M1213.2 367.2h0M994.8 1112.2h0M1466.6 450.9h0M1021.9 1112.2h0M1217.4 556.9h0M1407.4 696.8h0M1442.1 477.6h0M1087.5 1190.1h0M1294.6 507.4h0M1096.7 615.2h0M1200.4 633.4h0M1101.4 471.5h0M1291.0 467.9h0M1305.2 611.9h0M1056.7 1133.2h0M1260.9 403.0h0M1540.2 689.4h0M1077.9 1197.3h0M1120.1 501.0h0M880.2 389.8h0M1452.6 800.3h0M1337.8 512.9h0M1108.9 372.8h0M1226.3 698.4h0M1489.0 909.6h0M1652.3 608.1h0M1203.2 344.4h0M1484.8 930.8h0M1190.9 333.6h0M1654.8 692.8h0M1382.9 595.7h0M1030.4 1113.3h0M847.5 323.3h0M1065.0 563.0h0M1249.0 485.1h0M1190.8 661.0h0M1357.6 498.4h0M1298.0 617.4h0M846.3 261.1h0M1272.9 358.5h0M1649.1 651.1h0M1547.3 715.6h0M1427.8 807.0h0M988.5 1085.1h0M858.4 506.8h0M1343.6 522.2h0M602.3 721.4h0M1121.5 1202.3h0M1141.1 1192.6h0M1295.7 575.9h0M1059.3 1130.4h0M1262.9 800.8h0M1286.8 514.2h0M820.3 494.7h0M872.8 307.7h0M1152.0 405.9h0M1348.1 715.4h0M853.8 251.8h0M1099.3 341.2h0M1429.3 666.5h0M1435.0 399.7h0M981.1 240.5h0M1216.7 604.6h0M1017.2 543.7h0M1516.7 545.1h0M1057.1 1127.1h0M846.4 366.8h0M1117.0 639.7h0M1364.5 774.1h0M1517.5 703.7h0M1010.8 1138.1h0M1475.8 415.3h0M1287.8 370.5h0M1509.3 890.1h0M1419.3 504.7h0M933.7 259.3h0M1348.0 539.5h0M1210.9 357.0h0M1442.9 576.4h0M1429.4 574.1h0M1445.8 806.3h0M1086.0 441.0h0M1036.6 1151.8h0M1159.8 576.3h0M1399.6 816.0h0M1300.0 384.6h0M1462.7 544.8h0M802.1 438.0h0M514.5 681.8h0M1446.1 794.2h0M819.5 492.7h0M1464.5 541.2h0M1164.5 474.8h0M1316.9 409.1h0M1115.2 1123.1h0M1105.9 1111.2h0M1312.9 584.8h0M1086.5 556.7h0M1561.7 673.3h0M1168.9 580.6h0M1318.0 427.6h0M1261.7 355.8h0M1177.0 493.0h0M1532.5 505.0h0M1487.8 928.0h0M811.3 470.9h0M924.7 264.3h0M1043.2 1118.3h0M1544.5 521.2h0M1140.0 1112.4h0M1486.9 925.3h0M1377.0 631.9h0M1639.5 630.3h0M1057.0 1141.5h0M1416.1 618.4h0M1512.0 540.0h0M982.5 1139.6h0M1593.1 713.9h0M1041.8 564.1h0M1401.6 583.2h0M1319.8 447.6h0M643.8 375.4h0M1119.2 1186.2h0M1277.5 458.4h0M1458.5 564.8h0M1119.6 1163.0h0M1065.8 509.4h0M1128.0 1131.9h0M1005.5 1148.2h0M1203.3 617.9h0M1620.8 657.4h0M1302.3 731.6h0M1032.0 1137.1h0M1398.8 653.2h0M867.4 375.3h0M1635.5 608.5h0M1217.2 678.9h0M1315.3 391.9h0M1144.3 336.3h0M1355.0 521.4h0M1238.2 440.8h0M1277.5 366.5h0M1366.5 614.9h0M1071.5 374.4h0M1278.7 447.4h0M1539.3 512.7h0M1119.0 1133.0h0M1268.4 765.4h0M1064.4 583.1h0M1057.0 1099.3h0M1090.1 561.7h0M1301.5 739.7h0M1314.3 400.7h0M899.2 290.2h0M1097.7 1178.7h0M1440.6 905.6h0M1272.6 369.6h0M1499.4 718.5h0M1290.1 418.3h0M1017.2 1107.9h0M1096.7 1111.7h0M830.0 361.3h0M1416.2 842.5h0M859.7 363.3h0M1496.7 914.9h0M1220.7 571.3h0M1479.8 817.4h0M867.5 405.1h0M1314.4 425.1h0M1055.4 1146.5h0M1296.8 453.1h0M1336.2 751.7h0M1245.1 355.2h0M1112.9 613.3h0M1099.7 1111.3h0M1688.2 650.0h0M1149.6 339.7h0M1153.7 349.6h0M1352.0 716.3h0M877.9 395.0h0M1228.8 356.8h0M1419.6 815.1h0M1255.9 802.0h0M1337.9 706.0h0M1146.2 789.3h0M1163.0 649.4h0M370.6 705.8h0M1313.5 573.6h0M914.9 331.6h0M1017.6 331.1h0M1354.5 539.6h0M1218.5 419.7h0M1509.1 464.9h0M908.8 327.3h0M1027.4 1143.9h0M826.4 493.2h0M1689.9 609.7h0M1108.0 1173.6h0M1442.7 387.3h0M863.1 226.8h0M1105.6 522.8h0M1264.1 836.9h0M1508.5 866.9h0M1191.3 800.4h0M1500.6 903.5h0M1269.1 593.6h0M1161.9 519.1h0M1463.5 433.8h0M1473.2 590.2h0M1183.9 390.8h0M1408.4 693.7h0M999.5 1105.6h0M443.0 567.3h0M1086.3 1154.5h0M1635.6 618.2h0M1435.0 579.2h0M1145.4 454.2h0M1255.3 356.4h0M1491.0 508.6h0M1056.6 522.5h0M1084.9 346.0h0M1465.5 845.6h0M1083.5 1162.2h0M1274.7 740.6h0M805.7 454.7h0M1104.4 1213.0h0M969.9 306.1h0M1140.0 476.2h0M1086.8 414.2h0M1488.3 461.9h0M1105.0 488.6h0M836.6 501.4h0M1614.4 689.3h0M1050.9 551.0h0M804.7 421.5h0M1125.0 475.6h0M1152.6 353.0h0M1167.7 334.1h0M1318.6 408.0h0M1496.1 741.5h0M1472.9 406.2h0M1313.5 440.7h0M1691.5 693.5h0M1215.7 818.5h0M1125.3 444.6h0M1213.0 375.2h0M1335.0 633.8h0M1261.8 829.4h0M810.6 449.0h0M1419.7 497.3h0M983.5 1115.7h0M1070.2 1156.8h0M1322.0 410.0h0M687.2 471.9h0M1427.3 385.6h0M1302.2 405.9h0M995.9 1092.6h0M1435.9 670.8h0M1240.8 680.2h0M1476.7 592.6h0M1167.1 345.1h0M1414.7 877.3h0M1108.7 1142.2h0M1586.4 739.4h0M1243.9 694.5h0M1424.5 604.2h0M1608.5 632.5h0M1005.1 1139.7h0M1456.4 842.3h0M1102.2 572.1h0M1074.1 1152.4h0M983.5 1097.8h0M1631.4 624.7h0M1193.4 448.5h0M1215.1 811.3h0M1193.3 443.8h0M1504.0 590.2h0M1468.4 545.9h0M1059.4 1180.9h0M1260.8 629.5h0M1272.4 853.8h0M1118.8 1198.1h0M1540.0 532.7h0M1328.8 421.4h0M377.0 708.8h0M1044.8 1094.7h0M1475.3 606.5h0M1080.8 568.4h0M1016.7 1089.8h0M1026.3 1137.2h0M1095.6 1198.9h0M1177.5 388.2h0M1101.3 1162.4h0M1643.3 699.0h0M1651.7 674.0h0M1119.3 432.0h0M1318.6 396.6h0M1491.0 878.5h0M1308.5 619.6h0M1266.9 356.9h0M1044.2 1100.0h0M1496.4 724.9h0M1480.4 925.3h0M1296.0 457.1h0M1083.0 418.8h0M1520.7 688.4h0M1700.7 599.7h0M1227.1 379.7h0M1437.4 435.6h0M1677.2 646.6h0M1649.9 656.5h0M1187.8 486.7h0M1271.3 831.1h0M1109.0 641.4h0M1307.3 379.8h0M1295.0 398.8h0M1347.3 507.3h0M1335.9 505.3h0M1018.1 558.1h0M1513.6 547.0h0M1268.6 513.7h0M1135.7 356.8h0M979.4 1123.1h0M1259.3 806.9h0M1652.5 614.7h0M984.0 1124.8h0M1517.7 726.8h0M1208.9 340.9h0M1166.7 453.9h0M1397.4 578.3h0M1220.9 379.4h0M650.9 427.5h0M1346.1 685.0h0M1108.7 1206.2h0M1187.2 686.2h0M1303.6 549.7h0M1112.1 647.4h0M1259.1 508.8h0M1372.1 499.7h0M1639.9 606.2h0M1326.9 408.5h0M1144.9 661.2h0M1307.7 533.2h0M1071.9 594.5h0M1131.1 1138.7h0M1437.7 622.9h0M1241.7 604.0h0M1396.4 576.1h0M1190.2 825.1h0M1179.1 511.0h0M1144.7 630.1h0M1174.6 346.7h0M582.5 711.2h0M1064.6 1098.1h0M1380.6 514.7h0M903.5 237.6h0M645.3 872.8h0M1345.0 590.1h0M1195.1 650.8h0M1331.7 415.4h0M1298.9 408.3h0M1083.5 1148.9h0M970.2 248.7h0M1207.5 850.3h0M1177.6 790.5h0M1666.9 620.0h0M1256.6 819.6h0M1360.1 775.5h0M1514.1 520.7h0M1436.0 487.7h0M1315.0 409.4h0M1260.1 390.9h0M1120.1 1149.7h0M1396.0 740.0h0M1309.9 757.2h0M1215.6 436.7h0M1127.3 573.8h0M1112.1 355.9h0M1206.5 355.3h0M1202.4 611.8h0M376.8 711.9h0M1240.6 832.0h0M979.5 1084.8h0M1214.2 345.0h0M372.6 708.9h0M1477.9 793.3h0M870.5 486.4h0M1520.6 830.9h0M1695.7 645.7h0M1024.6 1155.0h0M1071.8 573.0h0M1369.9 600.3h0M1085.2 1165.2h0M1425.2 867.1h0M1477.4 485.5h0M1292.3 450.8h0M1488.7 845.2h0M1319.9 426.2h0M1361.6 767.0h0M1097.7 1138.4h0M1071.3 363.7h0M1273.9 557.7h0M1086.1 622.2h0M1306.6 696.3h0M1500.1 596.8h0M1183.0 758.0h0M991.9 1137.2h0M1277.4 451.5h0M802.8 451.7h0M599.4 719.7h0M1483.4 602.5h0M1076.4 1133.0h0M1272.7 565.8h0M1107.6 1209.8h0M1316.1 450.0h0M1363.3 547.9h0M1127.1 1115.9h0M1401.5 502.4h0M1209.3 749.0h0M1355.7 798.5h0M1654.7 657.8h0M1209.1 763.2h0M1331.5 622.3h0M1446.5 815.3h0M1474.3 878.5h0M1157.2 386.2h0M1439.9 566.2h0M1234.8 606.9h0M1447.9 416.2h0M1097.4 1102.1h0M1280.4 767.9h0M1448.4 568.0h0M1613.1 732.1h0M1092.3 376.3h0M1087.0 1161.5h0M948.8 247.4h0M1198.4 391.7h0M1348.0 449.0h0M1627.9 607.0h0M1282.7 387.5h0M1693.5 596.1h0M1133.1 495.3h0M1475.8 868.5h0M814.5 374.1h0M1441.3 649.1h0M794.9 493.8h0M1364.0 637.9h0M933.7 250.4h0M1273.3 813.3h0M1463.7 516.2h0M1389.0 664.1h0M1089.0 1189.0h0M1526.8 530.2h0M1254.1 376.3h0M1020.6 1134.1h0M893.4 242.1h0M1222.0 472.7h0M1011.1 1100.5h0M1406.3 618.2h0M1303.7 417.4h0M1300.2 585.8h0M1258.8 805.2h0M1120.5 1183.9h0M1304.2 503.7h0M1270.9 588.7h0M1085.4 1089.5h0M969.0 1105.4h0M1119.4 1169.4h0M1209.7 476.8h0M1441.3 590.0h0M641.7 405.8h0M1471.2 829.1h0M1626.3 674.3h0M1353.5 573.6h0M1171.4 332.8h0M1511.3 888.0h0M1095.0 504.8h0M1543.6 716.7h0M1184.9 370.3h0M1392.1 628.3h0M1498.0 465.5h0M375.7 711.6h0M1451.5 861.7h0M1031.4 1105.3h0M1244.5 551.9h0M1249.4 382.3h0M1041.9 1168.5h0M1484.2 904.9h0M833.6 346.1h0M1099.8 383.4h0M1156.9 659.2h0M1345.5 726.7h0M1073.0 1137.8h0M1716.2 630.7h0M1095.3 1156.6h0M1110.4 456.6h0M1154.4 1116.6h0M1242.6 348.9h0M1168.7 383.7h0M1289.9 488.5h0M1443.2 800.3h0M791.9 442.4h0M1408.6 582.9h0M860.2 480.3h0M969.5 278.0h0M1282.4 506.4h0M981.9 1099.3h0M1109.3 636.3h0M1310.6 410.1h0M1245.3 681.5h0M625.4 409.1h0M851.3 376.7h0M1361.7 514.1h0M898.1 228.8h0M1429.2 833.3h0M1462.9 403.4h0M1457.4 830.2h0M1439.8 901.1h0M1050.1 591.3h0M1258.4 530.0h0M1083.5 548.3h0M1140.3 409.6h0M1669.0 644.7h0M1355.6 618.2h0M1450.2 643.7h0M1138.8 1190.8h0M1129.3 1169.7h0M1420.4 706.7h0M934.6 326.7h0M1682.3 664.5h0M1277.0 378.0h0M1295.2 422.7h0M1359.2 447.7h0M1260.4 791.7h0M1440.1 868.8h0M1312.5 606.7h0M1102.2 1188.0h0M1590.2 667.3h0M1086.4 1152.3h0M1299.6 779.7h0M1489.5 876.9h0M1226.6 344.2h0M1439.5 420.5h0M1298.1 773.9h0M1244.3 477.1h0M1103.8 352.0h0M1002.5 1125.4h0M1357.3 536.7h0M1387.7 742.6h0M872.1 334.7h0M1449.7 901.1h0M1430.0 548.1h0M1258.7 366.0h0M999.2 1118.2h0M1068.3 1144.1h0M1665.3 600.1h0M1249.4 561.4h0M1065.7 522.8h0M1027.0 1149.5h0M1164.9 638.3h0M1214.5 455.3h0M1218.4 542.2h0M1673.9 587.3h0M861.4 235.2h0M1270.1 837.8h0M385.0 796.1h0M849.9 502.3h0M1319.9 784.2h0M1250.2 562.8h0M1365.6 629.2h0M1097.9 637.1h0M1091.3 502.7h0M1513.7 557.5h0M1635.3 622.1h0M1460.2 635.1h0M1446.1 407.1h0M1207.0 615.1h0M1254.3 505.7h0M1145.4 556.2h0M660.7 464.5h0M1549.6 706.5h0M1453.5 424.6h0M1327.3 516.3h0M1148.3 1182.3h0M1127.6 1193.5h0M1503.7 585.4h0M1059.6 1163.4h0M1422.7 870.7h0M1266.6 408.4h0M1098.7 545.4h0M1306.2 799.1h0M1517.1 479.0h0M1064.6 1148.0h0M1370.0 499.8h0M1376.3 576.4h0M790.3 250.9h0M1214.7 721.4h0M1243.4 581.4h0M956.1 354.7h0M1427.8 592.2h0M1507.2 449.1h0M1085.0 373.3h0M1146.9 424.2h0M1422.6 605.5h0M1617.6 636.3h0M1157.2 582.4h0M1177.0 796.3h0M1461.5 612.1h0M1507.2 827.2h0M809.8 442.5h0M952.7 321.4h0M1200.0 693.3h0M1323.6 399.1h0M995.9 1124.4h0M1077.5 537.0h0M1516.5 869.0h0M1542.6 694.3h0M1344.8 629.3h0M1551.3 672.3h0M990.7 245.8h0M1046.0 1179.3h0M1076.7 1108.4h0M1306.7 410.4h0M1083.6 1193.0h0M1375.2 562.6h0M1258.3 768.7h0M1116.5 1138.0h0M981.4 1123.2h0M1349.9 437.4h0M1444.2 584.6h0M1433.5 599.6h0M1090.6 618.7h0M1045.7 1157.5h0M1291.2 508.5h0M1641.9 607.2h0M1095.6 1182.4h0M1105.2 1186.7h0M1042.0 1159.5h0M1391.6 470.9h0M1173.1 459.9h0M1395.3 476.4h0M1441.6 405.1h0M1150.0 416.0h0M1283.0 390.9h0M1220.6 783.8h0M1087.3 561.8h0M1128.2 600.7h0M1303.5 608.3h0M1477.1 462.1h0M1454.4 523.6h0M778.8 260.5h0M1213.2 745.1h0M1158.4 487.1h0M1446.7 610.8h0M1432.3 864.1h0M1061.6 1175.8h0M344.1 308.8h0M975.7 1105.0h0M1207.2 775.6h0M1262.5 391.3h0M1401.2 774.7h0M1485.4 437.5h0M791.9 449.9h0M1315.4 468.6h0M1507.3 479.2h0M839.2 496.3h0M859.1 512.6h0M995.3 1102.7h0M1218.3 453.9h0M1073.8 1121.3h0M794.7 430.3h0M1122.5 658.4h0M1699.5 658.2h0M1444.9 538.6h0M886.6 302.8h0M1358.3 609.1h0M1136.8 390.1h0M1067.4 1108.8h0M1440.7 827.8h0M1211.5 703.1h0M1430.8 514.8h0M1553.8 727.0h0M1128.8 1184.2h0M1281.5 610.1h0M1274.4 448.1h0M1316.4 590.2h0M1010.1 1096.7h0M1455.9 809.3h0M1075.8 1183.8h0M1051.4 1108.0h0M1047.2 1177.5h0M1331.1 761.1h0M1198.5 672.3h0M1128.0 1186.9h0M1417.0 844.8h0M1492.9 525.6h0M1625.9 709.9h0M1161.7 674.3h0M1666.8 597.0h0M835.1 279.9h0M1218.5 522.1h0M1282.8 569.3h0M1196.3 597.6h0M1295.4 447.3h0M1269.1 598.8h0M1023.2 1151.2h0M1239.8 824.4h0M1351.3 593.2h0M1306.4 769.4h0M1023.8 1147.4h0M1166.5 780.6h0M1216.1 681.9h0M1145.7 657.4h0M1314.2 713.3h0M819.3 516.5h0M1358.1 634.7h0M1257.9 618.4h0M1161.3 343.5h0M1596.4 723.3h0M1265.7 832.7h0M670.6 477.0h0M1654.9 674.4h0M1295.2 634.7h0M1250.4 461.6h0M1578.9 678.3h0M1717.4 658.9h0M843.2 500.9h0M1155.8 576.1h0M1327.8 579.2h0M1230.2 783.6h0M1509.5 587.3h0M1380.8 612.3h0M1202.3 849.4h0M1286.1 379.1h0M1488.2 599.7h0M1355.6 722.0h0M989.3 1134.0h0M1487.9 436.5h0M1471.0 507.4h0M994.0 1100.8h0M1072.1 393.6h0M1667.2 681.0h0M881.7 223.5h0M852.9 337.0h0M832.7 375.8h0M1300.2 382.0h0M1592.1 671.9h0M1295.3 465.5h0M1324.9 570.5h0M1200.8 369.0h0M1158.0 387.9h0M1434.9 609.9h0M1469.0 439.3h0M1171.1 834.1h0M1123.0 1152.3h0M1196.2 363.7h0M1243.0 826.0h0M699.4 432.3h0M1437.5 521.2h0M1143.0 414.6h0M1273.2 608.7h0M1471.1 408.6h0M1433.1 799.1h0M1375.8 466.8h0M871.7 394.6h0M1119.6 424.8h0M1508.5 725.0h0M1234.3 764.5h0M1248.7 711.6h0M1121.7 1183.5h0M1199.1 845.0h0M1278.5 793.1h0M1284.6 629.3h0M855.3 246.1h0M1335.0 684.5h0M1142.3 621.3h0M926.4 348.8h0M994.1 1093.9h0M1285.1 388.7h0M1163.3 752.8h0M510.4 677.6h0M1158.5 478.7h0M1680.1 587.3h0M1323.1 420.4h0M1324.1 624.6h0M1676.5 591.5h0M852.4 344.1h0M1673.3 616.2h0M1357.4 448.7h0M1230.2 399.8h0M1200.2 579.0h0M1120.9 1176.0h0M1219.4 469.7h0M1441.5 848.1h0M1154.0 666.2h0M1564.5 722.8h0M1236.9 745.9h0M1203.4 483.1h0M1359.6 530.5h0M1480.4 440.0h0M841.5 319.1h0M1219.2 603.0h0M1090.7 1110.7h0M1373.6 550.0h0M1126.3 1181.9h0M1279.5 726.8h0M1259.1 431.5h0M1126.8 1159.9h0M1111.3 1166.4h0M1289.3 386.8h0M1250.1 827.5h0M1215.0 719.3h0M863.9 353.7h0M999.9 1114.0h0M1154.2 441.8h0M1336.1 424.1h0M1114.7 1200.3h0M837.7 358.9h0M1047.5 1108.5h0M1643.5 693.7h0M1228.0 501.7h0M1706.6 677.7h0M1084.9 1138.4h0M893.3 219.5h0M1438.0 555.7h0M1077.6 1168.6h0M1279.2 765.8h0M1314.4 497.8h0M1074.2 1178.8h0M1208.9 357.0h0M1050.4 1131.9h0M771.6 347.6h0M1267.3 843.5h0M1125.4 512.0h0M962.3 322.9h0M1087.4 469.7h0M1301.2 782.1h0M1347.1 551.8h0M1532.9 577.1h0M911.6 247.1h0M1475.9 819.4h0M1273.2 598.8h0M1050.3 1160.9h0M880.6 377.3h0M1069.9 519.0h0M1654.1 649.2h0M1163.0 492.6h0M1443.7 401.7h0M1278.3 363.3h0M1560.9 699.8h0M939.9 227.7h0M1302.0 687.1h0M1192.0 491.0h0M1649.4 645.0h0M1501.2 491.6h0M1231.6 504.1h0M1445.5 651.2h0M1116.9 493.4h0M1296.6 409.4h0M1423.2 384.2h0M1446.5 476.0h0M1117.4 633.5h0M1540.6 506.0h0M1268.8 849.5h0M1277.7 406.3h0M809.4 445.3h0M1292.9 758.8h0M1063.3 1144.1h0M868.7 486.5h0M1134.1 570.0h0M1438.5 867.7h0M1169.4 634.2h0M1441.4 903.0h0M1428.0 839.1h0M981.8 1094.4h0M1497.9 544.2h0M1101.5 1148.0h0M1087.9 1193.4h0M855.7 352.6h0M1139.4 1117.6h0M1001.1 1120.5h0M1526.1 545.2h0M1589.1 701.9h0M1054.6 542.7h0M1286.5 716.4h0M661.1 437.0h0M1156.9 411.4h0M892.7 233.9h0M1442.9 499.0h0M958.3 321.0h0M1125.6 1170.0h0M1379.9 588.3h0M1385.0 675.0h0M1712.0 655.7h0M1333.1 501.5h0M1278.3 631.5h0M1469.1 409.6h0M814.0 231.3h0M1521.5 700.1h0M1304.9 516.8h0M1021.3 1140.2h0M1548.2 709.9h0M1194.1 347.1h0M1187.3 424.8h0M1326.7 665.7h0M1215.0 567.4h0M782.9 296.1h0M1260.1 514.0h0M1580.4 665.7h0M1470.0 899.9h0M1253.3 364.7h0M1118.0 594.7h0M1109.9 1155.0h0M1452.2 604.5h0M1240.1 341.6h0M1104.0 1216.3h0M1408.6 497.5h0M1509.5 487.7h0M1208.8 646.0h0M1323.7 403.1h0M1410.6 744.7h0M1248.8 817.2h0M1490.9 423.7h0M1256.8 781.8h0M1204.7 404.5h0M1432.8 671.9h0M1202.6 834.9h0M1236.0 440.0h0M1422.9 477.6h0M1284.8 725.6h0M1220.9 816.4h0M1506.0 911.1h0M1116.9 568.7h0M1351.4 731.3h0M1262.9 851.9h0M1074.5 1196.4h0M1262.5 695.1h0M1317.8 423.7h0M1094.1 459.5h0M1370.3 610.1h0M1090.8 1097.6h0M1526.1 481.6h0M1519.7 706.2h0M875.0 244.9h0M1454.4 431.4h0M1137.0 378.6h0M1209.6 856.2h0M1008.5 1139.0h0M1161.3 829.9h0M1230.5 480.2h0M1363.3 447.1h0M1106.6 348.4h0M1213.9 692.8h0M1190.1 472.7h0M850.4 346.6h0M1203.9 577.0h0M1240.4 343.6h0M1231.4 725.6h0M1209.8 410.3h0M826.9 461.6h0M1296.1 741.5h0M1406.5 831.5h0M1466.9 466.6h0M1359.8 693.6h0M1171.9 429.8h0M1114.3 445.1h0M1280.0 375.1h0M1112.5 432.9h0M1393.2 539.3h0M1288.4 462.7h0M1493.9 900.6h0M1469.6 842.1h0M1239.1 352.4h0M1484.0 474.8h0M830.8 515.7h0M816.6 470.6h0M1223.2 357.8h0M1303.7 579.3h0M1310.3 619.9h0M1260.1 435.3h0M1370.0 640.3h0M1064.1 507.6h0M1625.3 623.1h0M798.0 444.5h0M1079.3 1124.8h0M1061.6 507.6h0M1321.2 490.9h0M1395.0 855.0h0M971.4 244.1h0M1129.4 439.7h0M1127.6 1163.5h0M1073.1 591.9h0M1269.3 366.5h0M1220.8 597.0h0M1322.0 659.7h0M1014.3 1139.1h0M1052.8 1167.8h0M1461.1 626.1h0M1188.3 756.3h0M1096.7 389.4h0M1293.2 393.7h0M1409.2 676.8h0M1155.6 770.0h0M672.9 474.0h0M1464.3 427.5h0M1276.9 580.9h0M1159.7 636.7h0M1392.5 482.7h0M1439.1 432.5h0M1187.0 828.5h0M1207.8 511.2h0M1481.8 843.4h0M1488.4 575.2h0M1155.9 773.5h0M1485.3 553.4h0M853.2 481.5h0M1429.4 805.7h0M1246.4 728.4h0M1260.4 569.8h0M1226.3 463.8h0M1112.5 375.7h0M1501.1 564.4h0M1682.2 592.2h0M1350.7 567.8h0M1403.4 825.5h0M1149.9 790.7h0M1078.6 471.4h0M1181.8 769.0h0M1106.0 1154.7h0M1298.3 763.5h0M1098.7 1112.7h0M1248.3 572.8h0M1029.0 1123.0h0M990.3 1128.7h0M1259.8 643.8h0M1389.6 494.8h0M1116.6 1116.7h0M822.1 459.1h0M774.4 457.9h0M1298.7 689.6h0M1150.8 378.4h0M1146.7 345.1h0M1431.5 859.4h0M1309.5 461.7h0M1171.0 476.9h0M1328.8 549.3h0M1150.9 1189.5h0M506.7 676.3h0M1224.1 363.7h0M1212.8 615.1h0M1074.7 1110.7h0M1273.5 855.1h0M1463.7 833.3h0M1215.5 596.4h0M1359.9 778.9h0M1404.8 729.5h0M591.6 716.1h0M1427.1 842.6h0M809.4 229.5h0M1267.2 373.9h0M1455.5 893.9h0M962.3 1111.5h0M1350.3 629.2h0M1242.8 419.3h0M1375.1 483.9h0M1123.8 1164.1h0M1206.0 569.1h0M1390.9 474.2h0M800.5 476.2h0M1461.6 568.1h0M1324.3 564.9h0M1322.9 406.9h0M1242.4 437.3h0M1332.2 530.0h0M1257.2 354.2h0M1250.3 387.4h0M1441.5 525.1h0M1273.8 543.4h0M1230.8 731.5h0M1316.8 752.8h0M1126.7 588.1h0M1149.7 1188.0h0M1302.3 523.0h0M1289.8 368.8h0M1106.5 1204.7h0M846.4 358.7h0M1172.2 655.3h0M1235.7 735.6h0M1269.8 528.5h0M1652.9 609.6h0M1023.0 1153.2h0M1056.8 1163.7h0M1457.9 820.3h0M1142.2 582.0h0M1419.5 502.7h0M1154.6 459.5h0M1411.3 537.9h0M791.4 459.3h0M1674.6 640.2h0M1490.9 451.1h0M1195.9 550.4h0M1290.2 717.9h0M966.9 276.0h0M1478.0 829.6h0M1337.5 424.9h0M1088.4 419.5h0M1083.4 539.7h0M1134.9 665.7h0M1590.6 660.9h0M1514.6 575.3h0M517.3 682.6h0M1088.4 364.3h0M1352.3 639.9h0M886.9 257.6h0M1466.1 511.0h0M1521.2 467.3h0M1211.0 426.9h0M1120.5 1194.2h0M1064.4 530.0h0M1201.2 639.8h0M1228.0 418.3h0M1162.8 623.0h0M1272.7 618.2h0M1335.8 651.8h0M1641.5 604.5h0M1267.5 430.2h0M984.8 1106.1h0M1106.1 556.3h0M904.3 217.6h0M993.1 1134.5h0M1332.3 570.3h0M1437.0 400.1h0M1065.4 1119.1h0M846.6 266.9h0M986.2 246.1h0M787.2 461.3h0M1483.6 542.5h0M1380.2 504.7h0M1521.3 849.8h0M861.7 385.4h0M1419.1 678.1h0M1070.1 555.1h0M1122.9 1214.8h0M1084.1 406.1h0M1268.2 787.1h0M1169.5 446.9h0M1319.4 483.7h0M809.8 453.1h0M1443.7 662.8h0M1317.7 684.2h0M1107.6 1200.2h0M791.4 245.7h0M1091.7 498.0h0M1204.3 845.9h0M1295.2 367.9h0M1099.5 653.7h0M1163.0 682.7h0M1351.8 798.1h0M1481.9 418.6h0M1046.7 1163.5h0M1425.5 802.0h0M1081.4 1105.3h0M1130.1 424.2h0M1349.7 553.4h0M1212.1 679.0h0M1383.4 672.8h0M832.2 454.8h0M1659.4 616.7h0M1219.2 795.7h0M1477.7 811.1h0M1319.7 595.9h0M1160.7 792.0h0M815.3 364.8h0M944.1 248.5h0M1027.8 536.3h0M920.2 297.5h0M1300.6 461.5h0M1440.6 656.4h0M1258.2 376.4h0M1087.8 465.4h0M1426.8 643.8h0M1163.2 363.8h0M1286.5 545.3h0M1450.3 868.0h0M1248.4 360.3h0M1243.4 816.4h0M440.9 566.8h0M1353.7 599.7h0M1328.7 425.9h0M1538.3 540.9h0M1655.8 637.8h0M1094.3 337.6h0M1381.1 555.4h0M1259.7 444.7h0M1191.1 434.8h0M1502.3 453.3h0M1030.0 1152.0h0M1489.8 922.3h0M1182.1 524.5h0M1532.8 700.1h0M1418.6 548.7h0M1367.4 607.5h0M1144.2 467.6h0M1458.6 858.6h0M1122.8 1166.0h0M1294.3 622.7h0M1525.0 844.8h0M1100.0 1171.7h0M1094.9 525.4h0M1146.5 483.6h0M1163.3 384.9h0M1612.2 710.2h0M1048.2 1159.9h0M1677.0 635.4h0M1172.1 388.0h0M1222.3 676.0h0M1121.4 508.2h0M1147.9 824.7h0M655.5 411.3h0M1358.1 494.1h0M1127.6 404.5h0M1390.4 615.0h0M1415.6 847.3h0M1612.0 728.5h0M1301.9 482.9h0M1147.6 657.1h0M1254.6 554.0h0M1268.5 410.6h0M1085.7 1157.6h0M1258.5 426.0h0M813.4 482.1h0M1611.2 638.6h0M1397.0 615.1h0M1108.7 598.1h0M1326.7 560.6h0M1093.5 390.1h0M1070.8 1122.4h0M1279.5 789.4h0M1089.6 1147.6h0M1007.1 1120.7h0M1336.1 590.6h0M1190.6 762.9h0M1067.3 1159.4h0M1227.4 704.8h0M1258.8 720.2h0M1662.2 602.9h0M1150.1 348.3h0M1446.8 872.3h0M1136.8 504.8h0M1302.5 617.0h0M1216.8 370.6h0M1283.1 512.7h0M1141.2 672.7h0M1044.6 1114.6h0M1223.8 690.7h0M1681.0 610.3h0M963.2 309.5h0M1630.1 721.2h0M1075.6 383.3h0M1671.8 655.3h0M1120.9 1202.2h0M1289.2 538.9h0M871.9 350.0h0M802.7 298.8h0M1066.1 571.6h0M1510.9 534.6h0M1311.6 631.4h0M849.9 276.6h0M1173.7 796.4h0M1259.3 810.9h0M1393.4 489.4h0M1485.9 614.9h0M1305.6 522.5h0M1296.8 797.3h0M1082.3 1163.5h0M1179.7 580.3h0M975.3 313.5h0M1514.3 577.9h0M1640.0 636.7h0M826.1 509.8h0M1143.1 341.6h0M970.3 251.9h0M1202.9 391.5h0M1490.6 533.2h0M1228.6 399.0h0M796.9 483.6h0M1241.6 458.5h0M1478.2 614.6h0M1116.1 344.1h0M1501.5 899.5h0M1169.8 450.2h0M1368.7 619.3h0M1077.4 377.2h0M1093.6 1194.1h0M1483.4 483.8h0M882.6 227.6h0M1062.6 1177.8h0M366.0 704.8h0M1330.6 658.7h0M1441.4 880.4h0M1120.3 644.2h0M1281.0 568.6h0M1095.9 1161.7h0M866.4 385.8h0M1111.3 622.9h0M1233.2 615.0h0M867.4 362.0h0M1506.3 517.7h0M1291.6 592.0h0M1247.9 608.2h0M1258.8 587.6h0M1110.4 1177.1h0M1160.4 781.2h0M1404.5 581.5h0M1005.8 1118.6h0M1298.3 756.3h0M1331.9 429.6h0M1119.0 339.1h0M700.8 470.4h0M940.7 250.1h0M1646.1 686.4h0M1161.5 825.3h0M985.4 1117.1h0M1171.1 778.3h0M1091.1 1180.3h0M987.6 238.3h0M1135.3 433.4h0M1503.1 505.0h0M902.2 252.0h0M1523.1 853.9h0M1274.7 727.4h0M1264.2 354.8h0M1151.1 398.9h0M1285.4 364.4h0M1523.0 482.5h0M1015.9 1155.8h0M1096.4 515.1h0M1313.5 531.6h0M1141.6 337.8h0M1627.6 677.1h0M345.5 309.0h0M1294.1 374.8h0M1684.9 584.7h0M1315.7 624.5h0M1126.7 1191.2h0M1509.4 511.2h0M1026.0 1160.5h0M1374.5 523.9h0M1212.5 606.1h0M1700.9 622.2h0M1093.2 1155.1h0M1101.4 343.9h0M1442.4 427.2h0M1094.9 598.8h0M1367.4 545.7h0M1199.8 821.7h0M1191.5 486.4h0M862.9 230.2h0M1093.0 1165.1h0M839.5 369.9h0M1449.3 512.4h0M1689.0 584.8h0M1155.0 771.6h0M1185.0 818.3h0M829.9 251.6h0M1439.8 880.1h0M1102.4 1163.9h0M1193.0 591.0h0M1092.7 1167.2h0M1171.3 458.9h0M630.1 450.1h0M1323.4 561.5h0M1309.5 546.0h0M1637.2 711.4h0M811.7 480.9h0M1505.2 520.2h0M1225.1 439.4h0M1328.7 655.0h0M1249.4 812.4h0M1104.6 346.3h0M1378.7 632.4h0M824.4 357.9h0M1084.8 601.1h0M1221.2 348.6h0M1382.2 480.5h0M1057.4 1144.8h0M1385.5 557.7h0M1381.1 483.3h0M1112.6 525.6h0M985.8 1088.2h0M1372.0 768.2h0M1049.1 1180.0h0M1091.8 1136.4h0M1387.7 730.9h0M1004.0 1098.5h0M1463.9 869.1h0M1538.3 693.4h0M1378.2 656.4h0M1038.7 1137.3h0M1190.5 770.6h0M995.7 1147.8h0M1263.2 653.1h0M1192.8 789.1h0M1291.2 705.6h0M1088.0 426.9h0M1097.2 348.0h0M1433.9 802.5h0M868.5 258.8h0M1100.8 391.2h0M1351.9 671.0h0M1028.7 575.1h0M1203.3 845.1h0M1455.1 838.2h0M1359.6 714.4h0M1060.1 1135.1h0M1553.1 702.1h0M513.9 682.7h0M1314.2 431.0h0M1302.4 593.3h0M1138.3 1183.3h0M877.2 347.9h0M1325.7 677.8h0M1561.5 694.5h0M1326.6 555.8h0M1278.7 479.4h0M1143.7 428.8h0M1432.6 617.6h0M1257.1 740.2h0M918.5 273.7h0M1100.1 356.6h0M1509.2 870.3h0M1059.0 1145.7h0M1192.2 664.0h0M1451.9 798.6h0M1357.3 631.4h0M1012.5 1150.3h0M1483.6 844.4h0M1301.1 388.0h0M1290.9 580.8h0M1360.7 582.6h0M1193.1 557.3h0M1120.7 1182.1h0M1248.7 747.5h0M1273.5 520.6h0M1146.6 611.7h0M1121.1 1179.9h0M1233.4 673.0h0M1363.9 726.8h0M1402.7 859.7h0M1678.7 602.0h0M1123.4 1186.2h0M1116.2 1203.6h0M1054.0 562.3h0M1431.1 596.8h0M791.8 489.7h0M1510.7 558.3h0M1367.8 617.3h0M847.6 245.1h0M1420.4 767.5h0M1061.3 1161.9h0M1099.1 1142.0h0M1213.1 473.1h0M1692.5 617.8h0M1278.5 474.9h0M1374.7 610.8h0M1215.1 611.9h0M1276.9 357.1h0M1191.9 616.6h0M842.9 391.9h0M848.2 375.7h0M1340.1 509.2h0M1117.2 406.6h0M1180.3 783.2h0M1083.8 427.9h0M856.5 338.2h0M1680.5 590.6h0M1527.9 507.6h0M1043.2 539.7h0M1632.1 708.7h0M1238.1 583.6h0M1171.6 335.5h0M1316.1 579.0h0M1304.4 547.9h0M1364.5 505.8h0M1209.4 483.5h0M1364.0 478.2h0M1024.8 1156.9h0M1279.3 562.1h0M1469.9 402.3h0M1265.3 466.1h0M1277.8 585.4h0M1443.8 885.3h0M1480.7 417.2h0M1246.9 697.5h0M1553.2 715.1h0M1032.5 576.1h0M1191.4 398.7h0M1412.2 830.1h0M989.4 1095.9h0M1386.1 667.4h0M1454.3 542.1h0M969.6 1107.3h0M1083.9 521.7h0M1472.1 806.3h0M800.6 484.8h0M1130.1 348.7h0M1105.7 561.9h0M1032.9 1143.8h0M1212.8 378.1h0M793.6 486.0h0M1248.6 752.9h0M1024.6 533.9h0M1008.5 1132.7h0M1254.6 521.5h0M1092.9 1133.9h0M1222.1 351.8h0M1233.7 361.4h0M1213.2 730.7h0M1237.4 410.5h0M1366.8 581.6h0M1462.6 913.1h0M1141.0 617.0h0M1091.1 1184.0h0M1337.2 469.8h0M1081.3 1123.5h0M1216.3 803.3h0M1224.2 470.9h0M1231.7 446.3h0M1468.9 877.9h0M1433.2 597.5h0M807.6 230.3h0M1575.8 703.9h0M804.0 441.3h0M1619.7 662.9h0M1479.4 867.7h0M1325.9 714.9h0M1541.3 702.3h0M1003.3 1142.4h0M1333.8 657.9h0M1679.2 594.3h0M954.3 353.3h0M803.4 464.1h0M983.4 1148.7h0M1424.6 854.5h0M1335.1 438.6h0M1383.7 652.9h0M841.4 383.4h0M1270.0 581.3h0M1633.3 693.3h0M1141.3 407.8h0M1108.5 589.5h0M1217.0 785.2h0M1390.2 852.5h0M1283.6 469.8h0M1235.6 462.1h0M1189.9 698.9h0M1104.3 1119.3h0M1317.3 451.7h0M1297.6 447.2h0M1689.8 688.1h0M1656.7 662.4h0M1241.3 454.9h0M1636.0 691.7h0M651.4 409.9h0M1356.9 576.5h0M1639.3 608.3h0M1144.4 358.2h0M1448.5 448.2h0M1438.0 462.3h0M1566.8 712.6h0M1410.2 532.5h0M1255.9 764.6h0M1298.7 649.2h0M1245.9 625.5h0M1113.5 1211.9h0M1703.2 608.6h0M1165.0 503.8h0M1396.0 474.2h0M1108.6 478.9h0M1244.8 410.7h0M1061.6 1157.2h0M1396.5 748.6h0M1103.8 1198.4h0M1371.7 635.0h0M1490.5 443.3h0M987.9 1151.7h0M1295.0 533.1h0M1082.3 1135.7h0M1221.7 667.7h0M1264.4 587.0h0M1208.6 803.6h0M1135.4 409.2h0M1305.4 408.7h0M1423.4 536.5h0M1470.6 855.0h0M1368.9 625.1h0M1130.6 615.8h0M1133.2 1169.8h0M1383.3 509.5h0M1482.7 519.5h0M1247.0 389.3h0M843.8 325.9h0M872.2 273.6h0M1288.7 543.7h0M1325.7 799.3h0M1293.7 849.6h0M1306.8 790.0h0M1264.3 619.4h0M1128.5 665.8h0M1498.6 487.6h0M627.9 443.1h0M1130.5 631.5h0M1209.1 579.1h0M1282.5 377.1h0M1413.9 819.1h0M1503.7 730.7h0M1133.8 1184.4h0M1652.3 615.7h0M1152.7 384.8h0M1596.0 700.5h0M1208.6 435.7h0M1239.7 817.2h0M624.1 455.4h0M798.9 468.6h0M1114.5 1156.4h0M1448.9 528.3h0M1169.3 824.2h0M1305.3 580.8h0M807.9 363.0h0M981.1 303.5h0M828.1 356.2h0M1267.2 812.1h0M1090.6 604.7h0M1476.5 609.2h0M1049.6 522.7h0M820.2 454.4h0M1083.3 1098.2h0M1506.7 536.4h0M1155.1 499.4h0M1513.9 906.5h0M1310.1 405.8h0M1437.2 825.8h0M1235.4 399.9h0M1703.5 596.4h0M440.6 566.1h0M1108.0 344.9h0M1222.3 516.2h0M1249.0 353.3h0M1105.0 1160.7h0M1694.5 624.6h0M1413.5 573.7h0M1220.6 512.3h0M1306.7 501.7h0M1214.6 408.7h0M974.6 1129.2h0M1137.2 407.7h0M1163.6 790.7h0M1086.3 1177.2h0M1095.9 1128.7h0M1583.8 741.5h0M1335.4 605.9h0M1325.2 462.9h0M1177.7 375.6h0M1382.7 502.4h0M1162.3 827.4h0M1519.7 541.7h0M867.9 367.0h0M1161.8 335.6h0M788.2 491.8h0M1112.1 1152.4h0M1532.0 721.6h0M998.8 1093.8h0M1560.9 679.8h0M825.2 498.4h0M1485.4 444.3h0M1451.0 567.4h0M985.0 1094.8h0M1342.6 616.3h0M1051.1 1116.3h0M1393.3 584.0h0M811.0 354.1h0M1257.5 827.1h0M1101.1 465.4h0M1121.8 1204.7h0M1015.6 1110.7h0M1036.9 561.0h0M1149.6 418.4h0M1474.3 833.0h0M1217.2 620.4h0M1050.3 1124.7h0M1180.7 372.1h0M1537.3 550.9h0M1169.1 589.9h0M1168.3 683.6h0M809.0 490.6h0M938.7 354.0h0M1168.9 805.2h0M1083.4 475.8h0M1312.9 523.0h0"/>
<path stroke="#440f76" d="M1118.4 575.3h0M1294.7 742.3h0M1350.3 496.3h0M1674.3 677.6h0M1227.1 443.9h0M1505.2 475.0h0M1437.6 591.3h0M1394.8 670.2h0M1319.3 582.7h0"/>
<path stroke="#4c117a" d="M1216.9 809.3h0M1395.5 507.6h0M1070.7 388.2h0M1268.2 719.1h0M1460.2 616.7h0M1660.6 674.2h0M1145.0 373.9h0M1249.3 513.5h0M1289.5 428.1h0M799.7 243.9h0M1208.6 378.5h0M624.3 382.3h0M802.8 492.6h0M1431.3 691.9h0M1548.6 708.0h0M780.7 293.1h0M1679.0 661.7h0M1620.6 724.0h0M1512.9 708.5h0M1105.2 640.8h0M1109.2 412.7h0M1418.6 825.3h0M1103.5 593.1h0M1677.7 676.7h0M1262.1 823.3h0M1402.4 591.1h0M1368.9 673.3h0M1277.0 808.4h0M1272.7 443.6h0M1220.5 589.1h0M1351.0 583.8h0M1125.0 609.0h0M1374.4 594.5h0M1245.3 444.4h0M1307.8 564.6h0M1345.0 519.9h0M1183.9 600.6h0M873.1 509.2h0M1395.3 656.9h0M1644.5 668.5h0M1210.8 553.3h0M1427.8 687.0h0M518.5 687.1h0M1090.1 473.2h0M1253.5 601.1h0M1684.8 607.4h0M843.4 457.0h0M1397.2 543.9h0M1322.9 538.1h0M872.7 409.6h0M1428.6 490.3h0M955.7 315.6h0M1175.6 510.6h0M1165.0 397.1h0M1449.7 581.2h0M1158.4 804.6h0M1055.1 529.7h0M1459.5 442.6h0M1262.2 756.9h0M1146.2 793.7h0M1502.1 556.5h0M1215.0 570.7h0M1651.8 668.1h0M1588.5 699.9h0M821.8 368.2h0M1508.4 507.1h0M1269.7 550.9h0M1590.9 695.4h0M1426.6 517.4h0M1272.0 736.7h0M1166.2 371.7h0M1361.0 481.6h0M1177.5 597.3h0M884.9 275.2h0M1322.8 422.4h0M1225.3 602.1h0M682.1 385.9h0M1428.2 696.5h0M1204.2 855.1h0M1123.1 361.3h0M1681.5 641.4h0M1530.1 575.3h0M1130.6 357.1h0M1251.4 551.3h0M1239.3 707.2h0M999.9 301.8h0M1101.0 556.8h0M1139.2 414.9h0M1691.3 687.3h0M1209.9 847.3h0M795.8 474.1h0M1152.2 788.4h0M889.4 291.6h0M383.0 793.9h0M1462.4 525.2h0M1318.5 573.2h0M1365.9 613.0h0M1509.6 499.1h0M1180.1 652.1h0M1630.3 697.8h0M772.6 266.3h0M1269.1 757.8h0M1454.4 404.6h0M1260.6 475.4h0M1333.3 434.8h0M1522.2 535.9h0M1627.2 683.3h0M1236.2 445.1h0M815.3 496.0h0M1428.7 556.0h0M1495.2 735.0h0M1309.7 448.3h0M1185.6 796.4h0M1417.8 465.9h0M864.8 378.8h0M1154.6 806.1h0M1355.3 499.9h0M853.7 370.1h0M1174.7 837.3h0M1350.2 714.1h0M1509.8 727.9h0M1434.4 386.4h0M1498.9 477.1h0M1153.3 563.8h0M1494.2 569.1h0M905.5 273.3h0M1166.6 425.4h0M1272.8 539.1h0M1023.5 562.6h0M903.5 279.0h0M1463.5 615.4h0M1368.4 681.7h0M1366.9 790.0h0M1200.4 771.2h0M1201.5 387.8h0M1355.0 593.0h0M1283.1 756.5h0M1508.7 561.7h0M1281.2 404.3h0M949.5 255.7h0M1259.4 413.2h0M1422.8 808.1h0M1184.2 374.6h0M1208.7 540.8h0M1165.9 435.9h0M1125.5 566.3h0M1247.8 767.8h0M1142.3 801.3h0M1171.2 443.9h0M1386.9 695.9h0M1238.5 804.2h0M1147.5 437.4h0M1467.6 844.2h0M1372.8 836.1h0M1345.8 498.6h0M1097.6 430.7h0M1327.7 749.0h0M1120.8 484.5h0M1464.4 535.1h0M1143.8 439.1h0M1475.7 429.0h0M1213.1 561.1h0M788.1 247.1h0M1440.9 397.5h0M1240.7 384.8h0M1073.9 557.4h0M1199.6 818.2h0M1456.7 554.0h0M1404.2 774.2h0M1488.1 418.2h0M1168.4 348.6h0M1459.9 637.2h0M777.8 453.8h0M1238.0 506.6h0M861.2 308.8h0M936.5 333.6h0M1393.4 483.6h0M1183.3 422.1h0M1353.2 478.2h0M1381.0 481.6h0M1250.7 446.8h0M1615.4 712.0h0M1088.1 391.1h0M1643.6 687.4h0M1451.8 859.6h0M1361.4 593.0h0M1128.0 431.6h0M1443.1 392.6h0M1430.8 528.6h0M1132.7 388.4h0M1639.4 615.3h0M819.4 506.9h0M1129.6 436.6h0M1082.6 614.9h0M1159.0 777.0h0M1219.7 567.7h0M881.0 253.5h0M1204.0 825.0h0M1117.5 583.7h0M1603.4 703.4h0M1577.0 716.8h0M1247.4 737.3h0M866.1 493.1h0M1662.3 638.5h0M1585.7 706.7h0M1157.5 799.0h0M813.3 309.5h0M1384.1 509.3h0M1190.1 365.4h0M1217.1 367.7h0M1246.7 820.6h0M1145.1 613.5h0M1181.6 493.4h0M1465.8 807.8h0M1366.8 538.2h0M1236.6 732.7h0M1620.2 681.2h0M378.7 792.3h0M830.1 300.7h0M1499.2 590.3h0M1091.1 369.9h0M1179.0 578.5h0M1677.6 658.4h0M1189.8 751.8h0M1419.8 666.4h0M1243.5 413.7h0M1601.5 693.8h0M1153.3 588.6h0M851.3 362.8h0M1636.4 666.1h0M1312.5 588.7h0M846.9 329.6h0M1126.5 546.6h0M1418.1 604.7h0M1399.7 511.5h0M1168.6 650.8h0M1514.2 721.8h0M1195.3 847.4h0M1050.2 595.3h0M1166.8 365.4h0M863.0 268.0h0M1175.2 774.0h0M1599.0 683.8h0M1158.0 424.5h0M1274.4 400.4h0M1409.2 834.3h0M675.5 416.2h0M1306.5 492.8h0M1167.8 741.5h0M1263.9 831.0h0M1605.7 695.8h0M1388.9 709.6h0M1207.1 428.8h0M1243.7 538.1h0M1257.5 382.0h0M1051.0 554.6h0M1423.6 539.7h0M1515.0 512.3h0M1416.7 693.9h0M1175.5 548.8h0M860.6 513.5h0M1262.5 449.9h0M1693.2 636.3h0M1676.0 711.6h0M1292.2 563.4h0M1208.9 772.3h0M1280.2 641.6h0M1516.0 558.2h0M1447.1 576.2h0M1393.7 623.0h0M871.5 310.2h0M1705.5 648.4h0M1223.4 621.2h0M1151.8 584.7h0M1452.4 639.8h0M1696.2 624.4h0M1324.5 839.3h0M1383.8 647.5h0M1380.9 573.8h0M1481.0 453.0h0M1368.2 570.2h0M1211.2 404.8h0M1310.0 688.0h0M1300.1 496.4h0M1583.1 709.3h0M1505.5 538.0h0M1155.7 796.8h0M1164.0 399.4h0M866.2 487.2h0M1339.5 594.9h0M931.0 291.4h0M1109.1 585.5h0M1261.1 850.2h0M1365.8 730.4h0M1423.1 386.2h0M1671.7 701.3h0M1470.6 620.3h0M1425.6 688.8h0M809.8 288.2h0M1539.2 502.0h0M1204.2 649.5h0M1517.9 518.3h0M1184.8 620.1h0M1695.5 639.8h0M1312.3 787.1h0M836.3 303.6h0M1024.7 578.2h0M1138.7 482.9h0M1257.3 541.1h0M926.1 288.8h0M1369.2 663.3h0M1617.8 724.9h0M1520.7 485.7h0M828.3 459.4h0M1138.9 580.5h0M985.8 253.6h0M1478.7 907.5h0M1185.5 677.0h0M1255.9 494.9h0M1106.3 455.6h0M1243.8 706.4h0M1370.1 564.2h0M1320.8 668.3h0M1400.4 596.2h0M1372.2 488.7h0M945.5 338.9h0M919.0 271.6h0M1511.8 576.1h0M1228.8 454.5h0M1492.8 428.0h0M887.6 317.2h0M713.0 456.4h0M1136.9 550.9h0M1252.3 505.9h0M1082.0 471.5h0M1463.1 907.9h0M1382.8 498.3h0M1607.2 711.0h0M1372.0 772.4h0M1438.7 475.2h0M1507.9 842.1h0M1613.2 696.0h0M1537.6 565.6h0M1428.8 497.9h0M1099.2 498.3h0M1575.2 650.4h0M1511.3 507.4h0M1383.0 556.0h0M1696.3 699.9h0M1308.1 753.0h0M1400.2 629.6h0M1502.4 558.6h0M866.6 329.7h0M1326.4 467.3h0M1511.8 484.6h0M1306.6 651.5h0M1235.3 800.5h0M1686.8 624.7h0M1188.9 583.7h0M1687.5 611.1h0M1300.2 453.4h0M1073.6 572.9h0M1321.0 397.1h0M1307.3 486.6h0M1342.4 540.9h0M1253.4 398.6h0M1528.5 549.3h0M1260.0 762.0h0M1347.2 731.0h0M1155.9 821.2h0M1149.1 367.3h0M1173.9 442.1h0M1268.5 426.6h0M1412.8 479.7h0M912.8 276.8h0M1178.9 553.4h0M1192.7 798.3h0M1066.9 1162.6h0M1276.3 818.5h0M1308.5 595.1h0M1081.9 485.9h0M1436.1 692.9h0M1465.0 835.2h0M682.6 470.5h0M1351.7 499.7h0M1250.0 809.9h0M1321.0 522.8h0M1243.7 386.2h0M1420.8 826.3h0M1407.9 586.6h0M837.9 373.0h0M1672.0 694.3h0M1513.6 560.4h0M1208.3 456.7h0"/>
<path stroke="#54137d" d="M1125.1 376.9h0M852.0 323.8h0M1595.2 687.9h0M1068.7 570.1h0M1201.3 390.2h0M926.6 231.6h0M1400.1 496.8h0M823.9 504.1h0M1371.4 785.8h0M1400.7 586.7h0M778.1 479.1h0M1282.7 448.0h0M1280.0 711.2h0M1588.2 719.2h0M1454.2 582.8h0M1444.7 845.9h0M1235.0 442.9h0M952.4 262.1h0M1240.6 728.7h0M1490.0 600.5h0M1432.5 514.2h0M1179.1 762.5h0M1165.1 573.6h0M1516.1 472.7h0M1129.6 339.4h0M1298.1 553.8h0M1151.2 425.0h0M1064.9 538.7h0M1421.8 613.3h0M1262.9 415.9h0M1209.6 398.1h0M1152.2 402.1h0M1178.6 828.6h0M1271.6 815.7h0M1322.0 568.4h0M1077.9 382.6h0M1402.6 634.9h0M1159.8 374.5h0M1190.8 793.7h0M1208.1 534.6h0M1103.8 543.2h0M1505.0 556.8h0M1203.1 796.0h0M1285.5 397.6h0M1171.5 686.6h0M1068.3 493.0h0M688.4 473.3h0M1316.3 480.9h0M796.9 505.6h0M1220.5 443.8h0M1255.0 419.1h0M1095.6 517.1h0M1081.8 370.8h0M1255.7 742.6h0M1514.6 471.4h0M1200.5 765.4h0M1273.2 441.1h0M1537.1 509.4h0M1333.6 654.2h0M824.2 289.6h0M1279.6 443.1h0M1197.8 682.2h0M1178.8 674.2h0M890.4 233.3h0M1190.0 669.1h0M1361.2 560.8h0M1644.3 718.5h0M1067.7 604.6h0M1133.6 443.9h0M1210.2 519.8h0M1232.0 376.4h0M1716.2 670.3h0M830.1 288.4h0M1264.6 486.9h0M1348.0 513.6h0M1409.5 495.6h0M1314.1 771.1h0M1472.6 909.7h0M1205.2 563.5h0M1359.3 764.1h0M813.7 442.1h0M1511.6 705.6h0M1680.2 695.1h0M1081.3 383.9h0M1167.8 830.6h0M1627.7 617.1h0M921.3 311.3h0M1191.0 550.0h0M1320.2 638.1h0M1173.8 799.5h0M1257.1 436.7h0M1469.8 405.0h0M790.2 478.5h0M1384.7 559.8h0M1178.9 772.7h0M1300.0 801.2h0M1172.0 558.3h0M1210.4 732.7h0M1492.4 593.7h0M1088.9 471.4h0M1441.9 874.5h0M1263.4 446.8h0M1064.9 515.4h0M1125.8 356.9h0M1478.0 428.6h0M1247.6 704.6h0M804.6 228.4h0M1078.7 406.4h0M1463.4 882.5h0M834.7 492.6h0M1401.2 586.8h0M1339.5 443.6h0M1371.4 473.3h0M1234.2 818.0h0M1099.3 478.5h0M1453.7 614.8h0M845.3 325.3h0M1269.0 781.4h0M1349.0 525.8h0M985.6 249.7h0M1597.8 739.5h0M1516.2 577.9h0M1527.3 510.1h0M1527.3 535.8h0M1142.4 457.9h0M1316.9 471.9h0M1178.9 548.0h0M1117.5 590.3h0M1196.4 477.2h0M1163.4 412.9h0M1401.0 677.7h0M1320.5 532.0h0M1085.5 627.8h0M1171.1 753.3h0M1364.8 521.3h0M1529.1 478.1h0M1080.0 375.8h0M1334.0 509.1h0M1243.8 708.0h0M1365.5 646.1h0M1585.5 726.0h0M1316.2 662.0h0M1653.1 713.7h0M1309.8 761.1h0M1292.6 527.8h0M879.3 324.9h0M1142.6 556.0h0M953.6 315.8h0M1597.8 661.3h0M1634.1 700.2h0M1383.0 686.0h0M1245.5 361.0h0M1186.8 655.3h0M1400.0 818.2h0M1087.9 450.6h0M1239.8 746.8h0M1111.0 427.9h0M1218.1 343.0h0M1564.8 713.8h0M1214.7 395.6h0M787.2 501.8h0M1262.0 538.1h0M1064.7 589.2h0M1315.6 505.8h0M1067.0 531.1h0M1644.3 616.9h0M861.2 377.5h0M1559.1 708.9h0M1502.1 449.2h0M1418.9 380.8h0M1456.3 611.1h0M1296.9 563.8h0M1284.8 448.8h0M1163.4 359.9h0M1126.9 1140.7h0M1517.6 856.9h0M1311.1 454.2h0M1294.9 776.3h0M1347.3 578.6h0M1669.5 712.7h0M1267.6 495.9h0M1273.2 574.2h0M1153.5 382.3h0M1279.4 582.1h0M1685.0 706.4h0M1324.6 757.0h0M1203.3 562.4h0M1410.8 378.8h0M969.9 272.2h0M1238.3 743.3h0M1290.7 621.2h0M1503.7 592.7h0M1274.7 546.1h0M1223.9 827.6h0M1309.5 573.6h0M1395.9 488.6h0M1268.1 631.5h0M1514.4 844.4h0M1252.4 802.6h0M896.6 335.8h0M1533.4 727.7h0M1510.2 539.2h0M1159.5 353.6h0M1473.2 552.6h0M855.4 299.9h0M1480.1 577.1h0M952.0 326.8h0M1715.8 678.4h0M870.3 235.2h0M1499.9 576.1h0M1333.7 539.3h0M1142.8 587.7h0M1257.7 829.0h0M1316.6 503.3h0M1263.6 396.5h0M1149.2 828.2h0M1260.2 372.2h0M1079.0 383.6h0M1153.0 566.4h0M775.8 473.7h0M1271.2 708.8h0M1479.6 616.9h0M1509.4 719.3h0M1185.7 687.7h0M1399.5 700.2h0M871.0 507.9h0M1241.0 493.2h0M1445.5 427.2h0M1662.7 687.4h0M1118.1 644.8h0M894.4 295.1h0M1511.8 467.0h0M1225.4 460.6h0M1343.1 457.2h0M859.7 404.1h0M1216.8 473.5h0M1303.0 569.8h0M1401.1 563.7h0M1309.7 440.4h0M1280.7 462.0h0M1418.4 383.8h0M832.1 472.8h0M863.0 487.1h0M1212.2 661.8h0M1088.4 439.0h0M827.0 381.8h0M1163.5 425.3h0M1583.5 716.2h0M1391.5 577.1h0M1413.4 381.2h0M1151.5 490.3h0M1253.1 798.7h0M1297.7 804.0h0M1190.6 756.1h0M1161.9 803.9h0M1336.4 570.1h0M1320.7 459.9h0M1684.7 655.5h0M865.3 225.1h0M863.0 303.9h0M1239.6 799.3h0M1094.2 615.9h0M1272.8 781.3h0M1107.3 430.8h0M1108.0 633.2h0M1402.0 627.1h0M1601.4 699.9h0M1195.7 416.3h0M1212.4 494.6h0M1309.9 807.7h0M827.1 458.9h0M1595.4 703.3h0M1580.7 739.2h0M1381.3 529.9h0M1531.8 492.0h0M819.3 355.9h0M1139.8 551.8h0M1443.8 567.6h0M1327.3 464.6h0M1663.7 666.8h0M1215.7 404.2h0M1207.6 763.1h0M1435.6 508.3h0M1645.8 696.0h0M1514.6 569.4h0M1213.6 674.5h0M1443.5 659.4h0M1154.7 374.8h0M1326.9 691.6h0M1387.9 574.6h0M1101.4 468.3h0M1167.1 562.2h0M1370.0 647.5h0M1710.0 630.3h0M794.0 489.6h0M1616.2 696.7h0M1398.8 597.3h0M803.1 262.2h0M1225.5 827.0h0M1358.8 473.1h0M848.8 386.3h0M1423.4 537.1h0M1335.5 529.5h0M1399.7 576.8h0M1515.1 562.8h0M1086.6 477.4h0M1115.1 350.3h0M803.9 514.7h0M1444.5 526.1h0M1095.6 497.1h0M974.0 268.4h0M868.2 229.2h0M1163.3 477.6h0M1179.1 820.0h0M1456.4 416.3h0M1467.0 521.3h0M1319.5 806.2h0M1239.8 358.6h0M1306.2 744.6h0M1340.4 583.3h0M1355.0 621.3h0M1658.8 668.5h0M1528.6 521.4h0M1137.4 606.9h0M1448.2 513.9h0M1333.3 593.7h0M1196.6 850.5h0M1181.9 427.9h0M1364.2 485.3h0M1311.7 514.8h0M1388.5 585.1h0M1277.3 775.5h0M1114.9 411.2h0M1414.4 777.3h0M1282.2 475.5h0M1432.2 605.8h0M1517.2 488.1h0M1498.5 572.1h0M1112.3 495.1h0M1161.7 593.9h0M1322.2 528.2h0M1440.9 561.2h0M783.0 305.2h0M784.5 254.2h0M1299.0 790.2h0M1283.7 716.1h0M1489.4 621.0h0M1499.7 494.7h0M1506.1 723.6h0M1532.9 563.6h0M1077.4 568.9h0M1216.6 671.3h0M1277.0 420.2h0M1319.5 614.9h0M1493.3 576.4h0M1070.9 507.3h0M1357.1 526.6h0M1151.6 800.1h0M1434.8 393.0h0M1269.6 401.2h0M936.7 316.9h0M1586.6 699.9h0M1179.6 440.9h0M1386.1 718.6h0M378.9 791.3h0M1409.6 810.7h0M1320.0 494.4h0M1455.3 551.5h0M805.9 250.7h0M920.3 289.9h0M1148.0 425.5h0M855.1 398.8h0M835.9 348.0h0M1281.5 419.7h0M1229.7 482.1h0M892.7 283.5h0M1623.5 659.3h0M1465.4 409.3h0M1164.9 788.3h0M796.8 510.8h0M1091.9 622.4h0M1074.1 518.0h0M1114.3 614.7h0M820.2 351.7h0M1462.6 409.1h0M1459.9 551.4h0M806.4 463.8h0M1531.8 525.7h0M1309.9 481.6h0M1183.2 337.3h0M1251.0 721.9h0M802.7 309.6h0M1522.9 501.6h0M1242.1 387.4h0M1404.0 565.9h0M1450.3 640.4h0M1106.5 443.3h0M1319.8 685.8h0M1523.9 576.0h0M1144.8 815.0h0M1522.1 551.4h0M1523.9 507.4h0M886.2 237.3h0M1388.9 751.0h0M835.8 228.7h0M1602.8 718.9h0M1215.1 572.8h0M1381.8 569.1h0M1297.6 626.7h0M1208.3 452.4h0M1202.7 573.2h0M951.0 245.1h0M767.7 465.9h0M1390.9 671.3h0M941.6 246.3h0M1156.5 354.1h0M1458.6 409.7h0M1322.5 510.6h0M1475.5 519.5h0M1209.0 830.3h0M1090.6 463.0h0M1413.4 776.7h0M1680.5 698.8h0M1252.2 810.3h0M1280.0 398.5h0M1619.3 709.5h0M1111.1 605.5h0M1108.3 487.9h0M1234.2 479.0h0M814.6 467.1h0M1172.6 663.6h0M1297.2 502.2h0M1181.1 339.8h0M1266.0 847.7h0M1692.8 679.1h0M1691.5 590.1h0M1324.0 465.0h0M920.9 308.0h0M1499.5 482.4h0M1370.0 838.0h0M1527.5 584.3h0M1407.1 524.1h0M1338.8 509.7h0M1332.9 419.4h0M1497.3 934.1h0M984.6 1103.4h0M1271.8 482.6h0M1336.0 524.5h0M1167.0 760.2h0M1208.9 847.2h0M1491.7 432.9h0M808.9 429.0h0M845.0 481.8h0M1481.5 568.7h0M1081.0 527.3h0M1355.8 531.1h0M1201.1 797.7h0M1351.5 494.6h0M1514.2 445.2h0M1319.4 851.0h0M1304.6 582.4h0M1448.1 387.5h0M1516.6 499.0h0M1463.9 635.9h0M1272.8 746.7h0M1577.7 681.0h0M794.1 479.7h0M1232.4 741.6h0M1213.1 558.5h0M1541.0 698.4h0M1176.1 814.2h0M797.3 497.0h0M1343.0 450.3h0M823.8 381.8h0M1573.5 698.6h0M775.2 467.8h0M1286.6 538.4h0M1630.0 610.5h0M1700.9 591.7h0M1507.5 460.3h0M1382.3 553.8h0M1525.0 529.2h0M1287.3 805.1h0M1657.5 678.5h0M1179.7 527.9h0M1421.0 522.9h0M1336.4 462.8h0M1287.2 739.9h0M1129.1 559.5h0M1525.5 836.7h0M1074.7 583.4h0M1253.0 393.1h0M1389.2 569.3h0M1315.4 757.2h0M1456.2 883.5h0M796.6 267.2h0M1260.8 361.1h0M1332.5 462.4h0M858.1 227.9h0M1048.3 560.1h0M1112.7 565.8h0M1258.3 434.2h0M1487.6 571.0h0M1312.6 699.6h0M1309.9 741.4h0M1506.9 498.0h0M1100.4 603.8h0M1058.2 602.5h0M1194.6 436.8h0M1514.8 456.1h0M1670.7 656.9h0M1504.3 484.2h0M1503.1 600.4h0M1109.5 558.4h0M1713.0 671.1h0M1447.9 465.3h0M1173.6 780.6h0M1168.1 768.7h0M1365.5 672.8h0M1506.4 500.2h0M1155.4 361.3h0M1066.6 610.1h0M1458.5 624.3h0M1543.4 533.7h0M1097.0 524.8h0M866.4 275.7h0M1124.9 567.9h0M827.8 489.2h0M1207.1 754.1h0M1512.6 522.8h0M849.2 372.8h0M834.7 510.2h0M1433.6 858.9h0M1644.1 707.3h0M808.6 515.3h0M961.8 1115.7h0M1243.4 468.7h0M1589.6 724.6h0M1226.0 409.9h0M1596.5 727.9h0M1330.4 499.0h0M1257.1 814.4h0M1080.8 353.2h0M1176.4 634.0h0M1277.2 529.3h0M1384.7 478.9h0M1673.0 622.6h0M1068.0 551.8h0M1452.3 441.2h0M1471.3 590.2h0M864.9 254.1h0M1517.7 719.3h0M1302.2 467.9h0M1265.1 436.2h0M1389.9 514.1h0M1129.0 576.9h0M1204.4 452.9h0M1358.8 489.5h0M952.8 318.0h0M1184.9 436.8h0M1166.9 369.1h0M1440.9 605.2h0M1144.6 449.1h0M1182.2 424.4h0M1396.1 701.3h0M1115.9 577.5h0M1496.7 555.0h0M1130.8 574.7h0M1246.3 479.6h0M1490.4 441.6h0M1077.2 545.2h0M845.2 494.3h0M1074.9 358.2h0M810.5 257.8h0M840.5 298.9h0M1248.0 523.9h0M1301.8 496.9h0M849.4 301.3h0M1587.3 695.7h0M1199.5 797.8h0M1370.0 559.7h0M1421.3 552.7h0M1340.6 617.0h0M880.7 239.2h0M1120.2 515.6h0M1065.7 354.6h0M1456.0 562.9h0M1086.0 540.8h0M1473.7 424.7h0M1374.6 773.0h0M1653.7 659.2h0M1261.3 507.4h0M832.3 301.5h0M1683.2 693.8h0M1207.9 426.1h0M1094.2 545.7h0M944.6 313.3h0M1079.1 350.8h0M1296.9 398.0h0M921.1 232.1h0M1686.6 697.2h0M1677.5 622.6h0M1087.0 401.2h0M1094.6 391.8h0M1221.5 526.0h0M1577.4 700.8h0M1177.1 676.0h0M1238.6 499.6h0M1201.9 406.8h0M1239.2 415.3h0M832.7 353.1h0M1301.5 768.6h0M1153.3 792.4h0M882.1 250.0h0M858.8 382.1h0M1263.1 787.8h0M1290.9 765.3h0M1213.2 801.4h0M1108.8 390.8h0M851.9 243.3h0M1190.3 432.1h0M1170.6 550.4h0M926.3 334.3h0M669.1 468.5h0M821.1 231.2h0M1338.3 478.0h0M1449.6 389.2h0M1221.8 458.1h0M830.1 513.9h0M1409.3 500.4h0M824.0 466.8h0M823.0 272.0h0M1462.8 838.9h0M1304.7 426.1h0M1295.5 512.7h0M1442.2 462.8h0M1355.2 441.8h0M1337.8 455.0h0M1359.3 792.7h0M1195.2 645.6h0M1091.9 539.1h0M1413.4 576.7h0M1205.2 460.2h0M1488.6 431.0h0M957.7 249.4h0M1141.8 389.5h0M1083.9 535.8h0M1686.9 662.1h0M876.2 227.4h0M1205.5 632.3h0M1308.5 427.6h0M1633.8 716.4h0M1424.4 670.4h0M1158.8 553.9h0M1367.0 639.0h0M1322.7 516.1h0M1058.4 514.9h0M1641.2 700.8h0M947.5 296.6h0M837.3 318.3h0M1312.2 689.4h0M1418.6 768.6h0M1482.1 825.5h0M1356.7 776.9h0M1416.0 530.4h0M1108.0 619.3h0M1309.0 685.4h0M1340.0 801.9h0M1300.1 424.9h0M1410.1 572.6h0M1191.2 835.8h0M1078.7 592.3h0M1325.2 490.9h0M963.9 250.9h0M806.2 269.0h0M1212.6 388.2h0M1176.2 524.6h0M1080.7 493.7h0M820.7 474.0h0M1288.0 803.2h0M1519.3 720.9h0M1092.8 466.0h0M1280.9 525.5h0M1251.9 805.6h0M1085.6 426.6h0M1312.2 534.1h0M1314.7 485.1h0M1497.9 848.5h0M1073.9 364.2h0M1098.3 502.4h0M1557.6 742.4h0M1448.0 805.7h0M871.9 341.5h0M864.8 332.1h0M1369.7 729.4h0M1201.5 855.6h0M1328.8 472.4h0M1457.0 412.9h0M1692.4 642.2h0M1194.3 617.1h0M1100.9 506.3h0M1268.5 470.1h0M1398.8 686.6h0M890.3 262.2h0M1463.8 439.0h0M1231.6 434.1h0M840.7 314.9h0M1178.1 372.3h0M1415.7 612.3h0M1262.3 520.1h0M1393.9 615.4h0M1295.2 674.8h0M1258.9 469.4h0M1249.9 471.2h0M1154.5 452.0h0M1391.2 624.7h0M1285.9 813.0h0M1081.3 562.4h0M1313.1 769.5h0M1109.9 602.4h0M1228.6 742.6h0M1307.3 725.7h0M1537.3 717.9h0M1377.4 479.6h0M1378.1 513.7h0M1120.8 365.9h0M1121.1 354.7h0M1466.3 796.1h0M1268.0 468.1h0M1144.4 386.9h0M1275.7 553.7h0M1231.5 619.2h0M831.9 462.8h0M1363.3 496.1h0M1040.6 539.7h0M1122.7 569.3h0M1524.4 718.1h0M1445.0 448.1h0M1414.4 534.6h0M1419.3 585.6h0M713.3 463.5h0M843.4 301.3h0M1352.0 739.1h0M1240.1 551.3h0M1262.1 726.9h0M1599.4 713.5h0M857.1 372.6h0M1311.9 489.6h0M924.9 239.6h0M1041.4 529.5h0M1594.2 709.3h0M1185.2 816.5h0M1326.6 441.9h0M1288.8 400.7h0M1368.2 712.5h0M1523.2 573.7h0M1405.6 584.0h0M1485.2 818.0h0M1377.8 519.9h0M1226.5 360.1h0M1234.3 719.3h0M1639.3 708.0h0M1189.9 559.3h0M1200.9 836.5h0M1377.5 565.4h0M1266.7 809.5h0M1329.4 547.1h0M1397.1 497.2h0M1081.0 503.2h0M1276.8 548.0h0M1233.7 502.1h0M1480.1 916.3h0M1050.4 535.8h0M1182.3 779.9h0M855.8 288.1h0M1276.4 411.7h0M1146.9 355.7h0M1441.6 391.5h0M1176.6 377.6h0M1522.1 581.2h0M1535.5 522.1h0M1670.1 715.4h0M1693.9 692.3h0M1269.4 421.0h0M905.6 271.7h0M1467.9 635.6h0M1299.5 555.2h0M831.6 315.4h0M1169.5 494.0h0M1131.9 354.5h0M1252.1 380.2h0M821.8 489.7h0M1129.8 512.3h0M1162.9 636.4h0M1501.6 561.2h0M1629.2 713.2h0M1230.3 772.7h0M1498.8 460.3h0M1531.3 487.1h0M1350.2 627.5h0M1600.7 708.1h0M1185.0 783.3h0M1344.3 608.6h0M861.8 233.1h0M1211.2 435.1h0M1227.2 364.0h0M1311.5 669.1h0M1350.2 528.3h0M1647.8 694.3h0M1373.8 606.2h0M951.0 331.0h0M1579.5 711.9h0M1459.8 428.0h0M713.6 454.7h0M1405.6 613.7h0M1515.2 717.0h0M1263.7 466.6h0M1166.9 566.1h0M797.1 467.0h0M1447.3 412.3h0M1379.5 485.8h0M865.4 355.0h0M1288.3 729.0h0M1140.1 353.4h0M873.3 366.8h0M1483.4 433.4h0M1108.1 370.3h0M1164.8 627.4h0M1349.8 516.4h0M1291.9 431.6h0M1200.2 450.3h0M1221.3 462.0h0M1311.3 519.3h0M1490.4 849.1h0M1550.4 735.8h0M1182.9 362.3h0M960.1 240.1h0M1293.8 850.8h0M1527.1 553.7h0M1573.6 715.9h0M906.7 326.3h0M1074.4 379.7h0M1379.1 719.7h0M1267.8 487.6h0M1356.1 483.2h0M1642.1 628.7h0M1237.9 445.7h0M813.7 494.6h0M871.0 259.2h0M1298.2 787.3h0M820.7 369.7h0M834.0 356.9h0M1365.0 583.3h0M1475.9 815.3h0M1402.0 477.8h0M1279.6 417.9h0M1273.9 471.7h0M1384.8 568.7h0M804.0 315.3h0M914.2 234.8h0M873.2 487.3h0M1162.7 367.4h0M1267.8 453.4h0M647.9 448.6h0M1282.4 767.1h0M1192.5 782.5h0M1402.1 780.9h0M1227.4 358.9h0M1326.2 545.4h0M1454.4 410.2h0M1657.5 610.7h0M1292.3 458.2h0M819.0 489.5h0M830.5 249.8h0M1238.5 493.7h0M834.2 497.2h0M1261.8 555.2h0M1522.3 891.5h0M1219.4 808.2h0M1688.6 632.0h0M1184.5 794.2h0M1363.3 449.6h0M1445.1 485.7h0M1389.2 639.9h0M827.8 268.4h0M1403.2 577.4h0M1340.5 682.1h0M820.5 286.5h0M831.7 484.2h0M1584.9 738.3h0M1119.5 405.2h0M1309.6 782.6h0M1364.8 721.8h0M1475.3 627.6h0M1493.1 918.6h0M1414.4 456.7h0M1514.1 586.7h0M788.7 435.0h0M1221.4 771.7h0M1288.6 491.8h0M1495.2 912.6h0M1067.1 534.6h0M1305.1 536.9h0M1471.3 429.6h0M1147.1 548.8h0M1164.7 662.3h0M714.6 460.0h0M1302.5 552.6h0M1424.1 785.0h0M798.1 301.7h0M1532.4 519.5h0M1242.9 481.4h0M1119.7 571.6h0M1310.6 643.4h0M1408.8 662.5h0M1172.7 591.7h0M1309.8 779.6h0M1212.4 384.1h0M1324.1 584.9h0M1405.7 700.8h0M1499.7 570.6h0M1690.5 617.0h0M1324.5 659.8h0M872.9 360.1h0M1476.6 613.1h0M1272.9 631.3h0M868.9 264.5h0M1151.6 354.7h0M898.4 275.5h0M892.1 237.7h0M1379.7 496.4h0M1206.0 532.5h0M1274.1 820.4h0M1511.0 568.3h0M1209.5 464.1h0M624.1 445.1h0M1592.9 687.7h0M1224.5 502.0h0M788.0 464.1h0M1091.8 533.8h0M1621.3 703.5h0M1660.5 703.3h0M1264.8 848.1h0M1225.1 389.7h0M1214.9 464.5h0M1533.1 706.2h0M1366.1 653.0h0M1320.6 556.3h0M1518.1 564.8h0M907.9 304.2h0M1507.4 545.0h0M866.1 221.2h0M808.8 504.8h0M1010.1 293.1h0M1282.3 514.2h0M1691.0 680.7h0M1192.3 524.7h0M1299.8 490.0h0M773.7 453.6h0M1229.9 722.7h0M1678.9 709.8h0M1331.5 468.6h0M1266.8 836.6h0M1522.8 710.0h0M1203.9 398.4h0M1061.9 513.7h0M906.4 278.0h0M1279.6 499.6h0M1260.2 759.2h0M876.7 299.3h0M1067.5 497.0h0M1367.9 601.2h0M926.8 328.8h0M858.3 492.7h0M1515.8 859.4h0M833.7 369.1h0M1178.0 368.1h0M1657.4 701.5h0M1148.0 419.7h0M1519.4 504.4h0M1309.8 533.8h0M1221.3 743.7h0M1703.3 663.0h0M1398.7 520.5h0M1437.9 835.5h0M1273.3 785.2h0M1650.1 683.4h0M980.4 316.2h0M1464.1 821.7h0M1592.1 656.5h0M1507.5 555.7h0M1108.8 546.7h0M1663.9 702.0h0M947.2 319.0h0M1243.9 502.2h0M1408.5 591.5h0M1217.3 689.5h0M1533.5 495.7h0M861.4 359.0h0M1294.0 784.5h0M1498.9 536.3h0M377.7 714.0h0M1074.3 509.0h0M1316.9 431.4h0M1609.2 695.5h0M1186.0 352.0h0M1371.2 565.0h0M824.7 450.9h0M1238.1 734.8h0M1031.6 539.7h0M894.1 265.9h0M874.4 489.7h0M1708.3 644.9h0M1382.0 474.4h0M1228.6 446.8h0M1451.1 600.9h0M1129.9 517.6h0M1516.1 570.0h0M1561.0 712.9h0M1499.0 583.4h0M1353.6 481.7h0M1310.9 417.5h0M773.4 280.9h0M1534.9 573.0h0M1385.4 785.8h0M1659.1 645.2h0M908.3 288.5h0M1191.7 431.0h0M1512.5 563.1h0M1446.0 524.0h0M1474.9 412.4h0M1408.5 571.5h0M1400.3 517.8h0M1491.2 439.5h0M1285.8 691.9h0M1220.8 550.3h0M1198.5 844.7h0M1339.1 711.5h0M1363.5 486.9h0M1316.8 636.8h0M1523.2 726.7h0M1184.9 425.3h0M1360.7 685.3h0M1482.0 606.3h0M867.5 502.7h0M1304.0 484.9h0M1456.7 403.2h0M1473.4 403.5h0M1202.4 443.9h0M1413.2 629.9h0M815.8 289.8h0M843.1 236.6h0M1435.7 530.9h0M1337.9 656.0h0M1184.1 797.4h0M1312.2 808.4h0M1388.5 560.3h0M1430.7 829.3h0M1271.8 405.2h0M1132.8 412.2h0M1068.4 513.0h0M1490.5 608.6h0M1198.2 467.1h0M1108.0 382.6h0M1367.0 489.4h0M799.4 427.3h0M1501.9 446.5h0M1696.7 649.5h0M1250.6 770.1h0M367.2 705.3h0M1171.8 417.4h0M1518.0 851.9h0M1335.0 557.9h0M1594.0 661.3h0M1080.9 407.3h0M783.4 459.4h0M1484.8 578.4h0M1259.1 825.2h0M1423.1 625.0h0M1407.0 684.8h0M1455.5 513.3h0M1278.4 693.1h0M1264.3 580.8h0M1186.6 843.2h0M1601.7 685.8h0M1477.2 890.9h0M1649.6 678.2h0M945.4 278.9h0M1415.9 392.5h0M1298.9 533.2h0M1203.4 368.2h0M1224.0 518.5h0M1475.9 910.9h0M1212.7 573.6h0M1232.7 595.0h0M1113.9 571.8h0M1382.2 665.3h0M1236.3 833.6h0M1197.6 544.2h0M1711.5 664.7h0M1505.0 549.5h0M1502.0 712.5h0M1112.3 451.5h0M1165.2 444.9h0M1324.1 709.0h0M826.2 314.9h0M1084.4 487.5h0M914.9 257.7h0M1220.7 683.6h0M1107.6 365.4h0M1306.9 780.7h0M1205.5 792.5h0M1377.6 605.1h0M1580.5 710.6h0M625.2 449.4h0M1073.8 504.7h0M1182.9 661.9h0M1171.1 594.2h0M1504.8 568.5h0M1174.0 641.3h0M1709.4 690.1h0M1137.9 380.6h0M1424.3 478.7h0M1388.7 565.2h0M1449.5 410.9h0M1178.9 389.4h0M1233.5 773.2h0M1394.9 588.0h0M1460.1 545.2h0M1341.3 703.7h0M1492.3 443.7h0M1124.4 541.4h0M1518.2 510.9h0M1420.7 807.2h0M1394.7 647.6h0M1224.3 468.4h0M1235.0 785.3h0M1522.0 525.7h0M1653.7 646.3h0M1355.9 571.2h0M1433.7 607.2h0M930.5 234.3h0M1417.8 491.7h0M1280.4 432.1h0M1322.8 462.5h0M1475.4 892.6h0M1444.4 404.2h0M908.6 248.0h0M373.0 709.5h0M1325.6 607.9h0M1048.5 544.5h0M1294.2 539.0h0M1446.4 394.1h0M1456.0 633.0h0M1313.5 756.6h0M1411.5 548.1h0M1185.6 785.9h0M1176.1 689.9h0M954.2 248.5h0M1676.7 690.6h0M1175.3 778.9h0M1209.7 514.6h0M1251.6 751.1h0M1292.1 726.1h0M1168.0 569.8h0M1188.8 446.8h0M1217.6 470.3h0M1492.5 584.5h0M1051.6 524.3h0M1161.1 559.9h0M1028.5 525.8h0M1461.2 416.2h0M1553.1 703.7h0M979.9 246.4h0M1344.6 601.6h0M1270.3 662.4h0M1661.2 688.7h0M873.7 294.1h0M942.6 293.8h0M1103.4 435.4h0M1269.6 830.2h0M1499.2 480.6h0M1323.7 681.6h0M1493.8 871.6h0M1155.8 557.3h0M1473.9 802.2h0M1463.3 801.3h0M1451.1 409.0h0M1404.5 500.7h0M1127.2 1184.2h0M1122.2 391.7h0M1102.0 425.1h0M1502.1 474.8h0M1373.8 659.8h0M1159.3 663.6h0M1164.0 382.6h0M781.8 469.6h0M1519.4 568.8h0M1479.3 429.8h0M888.6 270.6h0M1446.7 533.8h0M1532.6 541.5h0M1053.6 560.2h0M1137.1 553.0h0M1134.7 386.1h0M1258.5 802.3h0M1166.8 810.5h0M1235.5 805.9h0M1456.8 399.9h0M1316.3 655.2h0M1502.8 579.5h0M1481.2 603.3h0M1690.1 613.4h0M1459.7 813.6h0M1164.4 638.8h0M676.5 478.3h0M1232.0 465.3h0M1401.3 506.3h0M1307.3 472.8h0M1281.0 738.6h0M1056.9 569.2h0M1173.7 448.6h0M1296.6 427.9h0M1370.3 583.5h0M1411.7 564.0h0M1259.8 422.2h0M1338.6 486.4h0M1536.7 535.1h0M1504.4 460.6h0M1159.0 802.2h0M1219.9 491.5h0M677.7 393.6h0M1442.4 473.4h0M814.8 469.9h0M1671.3 633.9h0M1123.2 428.7h0M1147.1 582.8h0M1115.2 439.3h0M1661.2 629.7h0M1178.6 445.0h0M1286.0 759.3h0M1223.0 775.2h0M1217.2 416.3h0M1103.7 405.4h0M1510.6 841.4h0M1178.5 802.7h0M1193.8 821.5h0M1144.2 441.6h0M923.1 279.3h0M1081.9 604.1h0M1289.2 850.1h0M1377.8 639.4h0M1104.6 340.3h0M1167.3 577.1h0M1208.0 432.1h0M1217.8 445.4h0M1174.4 824.1h0M1259.8 844.5h0M1149.9 830.2h0M1228.1 491.1h0M1224.6 475.6h0M1266.6 825.7h0M1248.6 554.5h0M688.5 477.4h0M1251.0 400.2h0M1088.3 508.3h0M1355.1 555.1h0M1393.2 601.2h0M1175.0 378.2h0M1237.7 419.3h0M762.7 481.2h0M1023.7 305.8h0M816.8 422.4h0M1031.4 284.4h0M1029.9 334.2h0M653.7 467.3h0M685.9 382.4h0M761.7 460.7h0M769.2 480.3h0M1000.7 260.6h0M772.9 484.9h0M670.0 419.7h0M762.7 468.1h0M883.0 494.3h0M1013.0 327.3h0M1050.6 324.2h0M648.1 385.7h0M864.4 439.2h0M780.4 490.5h0M728.8 441.2h0M1050.5 324.3h0M1160.1 1112.1h0M758.0 451.3h0M811.2 401.9h0M627.1 424.4h0M1469.9 738.7h0M1023.7 334.2h0M1088.1 1206.6h0M783.2 495.2h0M1396.4 674.1h0M1263.8 351.1h0M1067.4 561.6h0M1228.0 799.4h0M1355.8 747.0h0M1467.4 437.2h0M1376.9 498.2h0M995.0 242.7h0M1487.2 601.4h0M860.7 369.0h0M1681.0 690.0h0M1409.2 524.0h0M1429.0 502.6h0M1376.0 632.8h0M1371.0 606.7h0M1313.2 628.3h0M1131.0 660.2h0M1304.0 522.6h0M1352.4 642.5h0M1445.9 547.4h0M1455.3 402.2h0M1102.2 615.4h0M1470.9 613.7h0M866.6 383.4h0M1201.7 792.8h0M1387.2 597.0h0M1337.3 666.1h0M1501.8 479.0h0M779.7 446.6h0M1423.1 465.5h0M1387.0 500.2h0M1327.2 800.7h0M878.8 232.6h0M1366.9 568.6h0M1204.4 408.4h0M1303.0 384.8h0M1368.4 492.3h0M1105.4 429.7h0M1509.3 541.4h0M1245.3 385.2h0M1366.4 453.4h0M1412.0 518.2h0M786.8 494.1h0M1415.3 503.9h0M1248.3 536.7h0M1058.5 537.8h0M1290.4 761.7h0M1077.0 514.7h0M1362.0 579.0h0M1050.7 579.2h0M1188.7 772.7h0M1263.1 576.1h0M923.4 345.5h0M1344.7 436.0h0M913.1 238.3h0M1175.9 596.9h0M1106.9 378.9h0M888.9 219.5h0M1073.4 554.0h0M1678.1 702.5h0M1113.7 1108.2h0M1391.4 625.2h0M1458.6 605.6h0M1168.4 623.4h0M1438.8 438.9h0M1123.3 388.9h0M1123.7 620.4h0M1171.4 789.1h0M1246.7 536.9h0M1225.1 584.5h0M838.0 480.1h0M1549.7 722.9h0M1279.5 787.4h0M1210.6 632.7h0M830.7 317.4h0M1262.0 509.1h0M1073.4 576.5h0M1192.1 839.5h0M1326.8 411.7h0M1325.5 577.5h0M1313.7 471.8h0M1183.8 813.7h0M1217.6 385.6h0M1616.8 678.9h0M922.0 235.1h0M1192.4 377.6h0M1361.8 471.9h0M1342.2 501.0h0M1674.8 671.7h0M1382.5 488.0h0M1232.4 516.8h0M1185.5 825.3h0M1339.3 540.1h0M1230.0 733.8h0M1247.6 782.1h0M1240.2 405.6h0M1141.5 499.7h0M1056.7 585.8h0M1199.8 663.0h0M1171.0 626.9h0M1095.8 583.4h0M1523.4 534.3h0M1142.3 488.5h0M1023.9 329.7h0M1425.3 393.9h0M1311.6 448.4h0M1302.7 598.2h0M1510.3 479.6h0M1409.0 568.2h0M1083.5 387.8h0M1483.6 617.5h0M832.6 293.0h0M1149.2 479.4h0M1316.6 787.5h0M896.7 261.9h0M827.2 453.8h0M1448.5 405.2h0M669.1 388.4h0M1593.0 704.9h0M1267.5 466.4h0M1525.4 706.6h0M1100.6 523.5h0M1485.8 537.7h0M1224.0 797.1h0M1646.8 692.2h0M1191.6 816.5h0M1344.9 496.5h0M1504.6 498.0h0M1125.8 361.8h0M1692.6 594.3h0M1499.6 464.6h0M1420.6 388.3h0M1349.3 445.4h0M1354.7 467.7h0M1295.1 462.3h0M1106.6 544.5h0M1102.7 476.0h0M1507.1 586.6h0M1151.2 381.7h0M872.3 237.8h0M1390.7 498.1h0M1341.3 468.7h0M1484.9 567.2h0M1512.5 491.0h0M1328.4 454.0h0M1468.7 851.9h0M1350.3 510.4h0M1250.1 830.8h0M1144.8 585.6h0M1669.2 693.0h0M1133.7 659.0h0M1433.9 454.3h0M1243.0 768.5h0M1236.3 599.9h0M1487.4 450.5h0M1141.2 341.7h0M1362.3 778.2h0M880.5 291.1h0M1697.6 645.3h0M1310.6 840.2h0M1537.5 730.4h0M1676.0 644.5h0M1048.5 532.3h0M1566.2 668.6h0M1424.9 850.1h0M1392.3 705.2h0M1145.4 576.2h0M1659.5 676.7h0M1096.7 553.0h0M1289.7 813.5h0M1359.6 794.4h0M941.7 314.2h0M1477.2 611.0h0M928.2 244.6h0M821.2 491.2h0M1266.3 851.9h0M1142.7 601.0h0M1686.6 634.6h0M1255.8 441.1h0M858.9 368.2h0M880.1 401.5h0M916.4 246.0h0M1164.7 617.8h0M1246.3 460.2h0M1323.2 484.2h0M1557.5 709.7h0M1709.7 659.9h0M1260.5 467.7h0M1118.6 609.7h0M1672.6 608.1h0M1279.1 396.5h0M1342.1 465.5h0M1256.5 366.6h0M1344.8 473.6h0M1060.8 525.8h0M765.7 282.7h0M1279.8 748.6h0M1165.0 467.0h0M835.4 320.4h0M1286.7 524.5h0M1461.4 550.0h0M1318.9 629.6h0M1178.6 822.5h0M896.9 291.1h0M802.0 251.2h0M1421.1 574.9h0M805.2 264.6h0M1706.6 653.3h0M846.2 360.3h0M937.9 327.7h0M1258.4 842.3h0M1253.9 402.4h0M1090.7 411.0h0M1143.8 379.8h0M1184.8 396.1h0M1438.0 406.3h0M1418.9 525.0h0M1185.3 428.7h0M1197.8 509.8h0M1324.3 700.6h0M1133.4 532.1h0M1070.7 338.1h0M1171.2 517.0h0M1095.3 354.8h0M1304.0 703.2h0M1265.2 739.9h0M1483.6 412.5h0M846.8 307.5h0M1168.7 821.0h0M1051.7 568.2h0M1432.8 407.1h0M1536.7 495.5h0M1413.7 823.0h0M1668.0 655.5h0M1221.5 590.9h0M1437.9 884.4h0M1471.6 441.3h0M1684.5 638.2h0M1414.1 602.4h0M1632.3 676.2h0M1291.0 793.3h0M1704.8 681.0h0M1292.0 481.5h0M1216.2 467.1h0M1177.5 361.4h0M1221.8 391.4h0M979.2 239.6h0M1487.5 424.9h0M1230.2 525.9h0M1253.8 497.6h0M1527.2 704.9h0M1198.8 375.3h0M1517.8 554.3h0M1083.2 410.9h0M1508.8 572.7h0M1693.9 686.6h0M1349.9 793.3h0M834.5 361.3h0M1046.5 568.3h0M1216.8 354.5h0M1382.9 566.3h0M1257.0 523.0h0M1591.9 710.9h0M1109.4 422.0h0M1380.1 723.6h0M1668.7 703.2h0M794.2 431.3h0M1231.0 529.4h0M1140.7 803.8h0M912.4 273.8h0M1586.0 670.9h0M941.3 265.8h0M1504.5 472.1h0M855.0 496.9h0M830.4 376.1h0M1248.8 407.7h0M1243.5 453.2h0M1146.6 469.2h0M1320.8 503.2h0M1390.1 569.9h0M1101.2 420.3h0M1187.7 590.9h0M1664.3 706.6h0M1658.8 641.9h0M1273.5 479.5h0M1095.2 624.7h0M1600.1 718.5h0M1454.9 443.0h0M918.9 230.3h0M1077.3 597.0h0M1032.9 555.1h0M856.7 309.3h0M1249.6 521.2h0M1390.5 486.1h0M685.2 469.8h0M942.6 244.9h0M1546.1 744.7h0M866.9 321.6h0M1114.9 550.8h0M1713.8 650.1h0M1386.3 479.2h0M1347.9 645.4h0M1140.4 368.4h0M1360.4 506.4h0M1316.1 511.3h0M1360.7 677.7h0M1321.4 525.5h0M1539.6 510.2h0M1247.0 759.1h0M1213.6 429.4h0M1514.7 491.7h0M823.6 299.8h0M1646.7 637.1h0M1388.0 699.3h0M1469.8 411.6h0M1420.4 392.5h0M1604.2 716.3h0M1709.7 654.9h0M1395.4 753.9h0M1176.5 539.3h0M1414.8 475.9h0M1465.6 422.9h0M1070.2 481.8h0M1462.0 891.1h0M887.3 291.5h0M1530.4 738.5h0M1258.9 452.0h0M1295.7 774.9h0M1258.0 654.2h0M1282.0 810.4h0M1340.8 712.6h0M935.6 254.4h0M1282.6 519.5h0M1257.7 831.4h0M1528.5 557.9h0M1378.6 724.1h0M1229.1 489.2h0M1436.6 416.7h0M1483.7 466.0h0M1182.5 368.6h0M1101.4 630.1h0M448.2 570.7h0M1404.6 622.9h0M1280.7 465.9h0M633.9 450.9h0M1255.7 539.6h0M852.1 355.9h0M900.0 278.2h0M861.9 252.7h0M1349.0 567.9h0M1695.6 613.8h0M836.8 476.8h0M1144.0 401.5h0M1385.2 472.1h0M1043.1 585.0h0M930.5 225.8h0M892.4 278.9h0M1670.9 629.1h0M1092.0 402.3h0M1244.3 388.8h0M1338.4 510.7h0M926.9 284.2h0M1045.8 553.0h0M1562.7 712.2h0M1220.3 360.1h0M1127.1 561.6h0M1272.0 461.6h0M1219.6 421.2h0M1402.6 575.4h0M1158.0 413.3h0M1679.1 683.4h0M1428.5 604.7h0M1310.9 497.0h0M978.1 241.2h0M1300.8 476.5h0M1202.8 524.5h0M1395.8 492.5h0M1154.2 784.8h0M1211.4 651.6h0M1264.5 823.9h0M1311.8 561.5h0M1366.2 676.7h0M1385.5 671.2h0M1415.8 580.3h0M1565.8 721.1h0M1490.1 515.5h0M879.5 514.4h0M1135.6 555.2h0M918.2 256.6h0M1186.9 618.5h0M1451.6 648.0h0M1630.5 695.5h0M1468.4 429.2h0M1226.5 369.9h0M1591.0 684.0h0M1100.4 470.1h0M1327.2 491.3h0M1248.1 416.7h0M1284.3 557.5h0M1330.8 680.9h0M1319.6 767.8h0M1290.8 740.7h0M1188.4 791.2h0M1220.0 416.8h0M1515.3 528.2h0M1308.3 616.7h0M1381.6 697.1h0M1207.1 366.3h0M1371.2 696.4h0M793.5 484.4h0M1320.4 738.3h0M1689.5 653.4h0M826.1 465.2h0M1082.8 602.1h0M514.5 684.9h0M1102.1 362.1h0M1164.6 555.4h0M813.6 229.6h0M788.9 281.8h0M639.9 459.7h0M1347.7 575.8h0M1341.6 846.5h0M853.4 332.4h0M900.8 331.5h0M1348.2 556.7h0M1159.8 770.0h0M1266.7 807.4h0M1288.3 510.9h0M1182.5 824.1h0M1710.1 633.0h0M1151.8 436.7h0M1149.2 356.3h0M1244.2 519.2h0M1451.3 495.3h0M867.4 224.6h0M1114.3 421.5h0M1540.5 492.6h0M1112.7 596.6h0M828.7 255.5h0M1276.3 429.4h0M1493.2 580.3h0M1460.2 799.8h0M1388.2 618.7h0M1199.9 787.1h0M1252.9 369.4h0M1086.1 490.0h0M1356.7 662.8h0M1161.1 417.4h0M1233.0 538.3h0M838.4 385.7h0M1478.5 434.4h0M1195.3 378.1h0M1306.2 569.5h0M1644.3 654.8h0M1720.2 666.1h0M1205.5 794.7h0M1307.1 796.7h0M1584.9 694.3h0M1092.8 575.4h0M1335.2 555.8h0M1086.0 529.7h0M1123.0 539.6h0M1391.1 696.9h0M1064.1 500.9h0M1425.1 384.1h0M1362.6 463.6h0"/>
<path stroke="#5d177f" d="M807.4 506.3h0M1561.1 703.2h0M1181.8 818.7h0M1522.0 725.4h0M1334.0 804.4h0M1203.7 633.8h0M1157.5 394.2h0M1326.4 802.3h0M1259.3 702.1h0M1287.5 411.8h0M901.3 236.4h0M1082.8 596.3h0M1104.4 509.8h0M1258.7 494.1h0M1605.8 691.6h0M1146.8 422.4h0M1663.2 649.3h0M856.5 342.6h0M1079.9 439.2h0M1423.7 549.1h0M1498.5 462.8h0M1257.1 785.7h0M1603.9 695.1h0M880.4 406.9h0M1126.7 427.0h0M1699.5 606.2h0M902.7 263.1h0M1213.1 432.7h0M1313.5 503.1h0M868.9 500.3h0M811.4 312.7h0M1573.2 710.3h0M1404.1 507.6h0M1337.2 650.2h0M1366.5 486.4h0M1253.0 374.2h0M1096.2 415.6h0M1283.3 525.0h0M1111.0 499.6h0M1529.0 563.1h0M822.4 296.1h0M1364.9 739.7h0M1421.6 704.6h0M1442.6 422.9h0M959.0 278.3h0M1448.7 488.5h0M1306.0 560.7h0M1436.0 527.2h0M1447.9 627.9h0M1315.4 495.9h0M1145.6 620.1h0M1101.1 413.0h0M1064.3 546.9h0M1260.9 804.7h0M1612.7 704.1h0M1362.1 739.2h0M1485.2 883.6h0M1274.9 711.3h0M888.3 286.2h0M1451.2 629.6h0M1308.9 480.2h0M1434.8 403.0h0M799.0 508.8h0M1314.6 629.6h0M1309.2 809.0h0M787.7 498.2h0M861.2 327.9h0M1291.0 788.6h0M1356.9 665.8h0M836.9 280.5h0M1625.6 704.6h0M968.0 321.3h0M826.7 286.2h0M1611.5 671.9h0M1312.0 473.5h0M1473.0 439.8h0M1267.1 481.3h0M1247.7 360.8h0M1336.8 546.1h0M1040.2 336.7h0M1457.8 456.7h0M1099.3 459.0h0M1390.5 691.2h0M1067.4 350.7h0M1661.7 711.5h0M1571.0 691.8h0M1573.2 706.5h0M1207.8 845.8h0M1350.4 538.7h0M1194.9 782.1h0M1381.6 486.2h0M1188.4 825.6h0M783.3 455.7h0M1192.6 390.6h0M868.9 375.8h0M1374.4 558.5h0M1568.6 733.9h0M1325.9 448.4h0M1317.3 561.1h0M1476.8 435.6h0M1167.0 354.9h0M1374.7 546.6h0M1137.5 487.4h0M1162.1 663.5h0M1529.6 499.9h0M1351.1 531.7h0M1298.5 752.2h0M1430.0 520.6h0M1325.1 796.8h0M1553.6 690.6h0M1067.7 361.5h0M1347.7 504.9h0M1111.0 583.3h0M1287.2 465.6h0M1182.9 550.4h0M1361.4 645.6h0M1314.0 670.5h0M1248.3 541.8h0M1323.3 642.0h0M1167.9 797.1h0M1165.6 540.3h0M1198.5 667.6h0M1579.2 736.6h0M1276.0 545.6h0M876.2 382.1h0M1122.1 474.8h0M1594.2 734.5h0M906.1 250.5h0M1183.2 501.9h0M1687.6 598.8h0M1283.7 801.2h0M1226.1 488.6h0M1328.6 476.7h0M1164.5 740.3h0M1202.3 769.7h0M1477.0 423.7h0M1244.5 785.6h0M1074.5 401.1h0M1252.2 469.8h0M1158.5 482.3h0M1485.7 579.7h0M1101.0 462.2h0M1263.7 807.1h0M1136.9 483.7h0M1477.8 827.0h0M1269.7 854.1h0M1253.2 739.7h0M1279.2 405.0h0M799.8 235.1h0M1228.4 591.1h0M1439.1 507.5h0M1545.5 523.5h0M900.7 226.6h0M1397.5 690.0h0M1449.7 623.6h0M1064.5 1166.0h0M1358.3 549.0h0M1098.7 601.0h0M1224.3 479.4h0M683.3 473.0h0M1079.8 614.7h0M1069.1 375.2h0M1591.6 693.5h0M1254.5 774.1h0M1339.1 535.3h0M926.7 354.4h0M1191.1 805.2h0M898.0 337.1h0M837.2 306.1h0M1393.3 558.3h0M1215.9 580.8h0M1406.0 566.3h0M1134.1 481.7h0M1137.9 563.0h0M1343.2 504.3h0M1171.2 441.9h0M836.7 272.7h0M843.6 487.5h0M1358.2 587.9h0M1689.1 635.1h0M1192.4 400.8h0M1346.0 697.0h0M908.0 266.7h0M1578.2 690.8h0M1186.4 454.3h0M1199.5 620.1h0M1227.4 734.6h0M1560.2 698.8h0M1166.7 559.0h0M783.3 288.8h0M1299.7 604.6h0M1510.4 893.5h0M1452.3 912.4h0M1166.4 657.1h0M1362.4 510.5h0M896.1 289.5h0M1240.1 445.7h0M1106.5 475.1h0M923.5 282.5h0M1496.4 450.1h0M1142.3 354.2h0M795.3 292.6h0M1588.4 728.0h0M1266.3 757.5h0M1208.9 835.8h0M1578.9 686.7h0M1178.5 442.2h0M1337.6 532.7h0M1217.3 464.5h0M1194.0 792.6h0M1504.4 487.3h0M1372.2 770.4h0M828.3 506.0h0M1176.4 384.0h0M1203.7 842.3h0M1166.7 352.3h0M862.8 280.3h0M1081.8 573.4h0M1448.6 395.3h0M1511.1 551.0h0M1503.4 560.4h0M1656.4 707.5h0M1188.0 816.3h0M1489.1 425.4h0M1295.8 852.0h0M1192.6 551.0h0M1466.9 812.8h0M1367.0 480.8h0M1299.6 567.6h0M1320.9 749.7h0M1173.6 462.5h0M1524.4 514.4h0M1120.8 422.7h0M1413.0 552.2h0M1149.7 380.3h0M966.6 251.4h0M1280.3 481.4h0M1281.0 364.1h0M1246.6 494.7h0M1336.4 801.4h0M876.6 508.2h0M804.4 486.6h0M1088.0 520.3h0M1210.8 575.3h0M1168.5 800.4h0M1238.9 447.0h0M1338.9 518.6h0M1093.1 476.0h0M1259.9 488.8h0M1243.2 791.2h0M1639.1 668.1h0M1677.4 633.5h0M1083.3 574.0h0M1207.2 595.5h0M1284.1 437.1h0M1257.1 445.3h0M1191.9 594.6h0M1091.8 472.0h0M1281.7 487.5h0M1284.7 504.4h0M1503.8 730.7h0M1575.5 737.7h0M1172.9 447.1h0M1679.3 679.6h0M1294.7 409.4h0M1078.7 500.1h0M1513.3 710.2h0M1656.3 619.7h0M1257.5 770.4h0M943.4 322.6h0M965.7 319.6h0M1515.3 737.0h0M1524.3 700.9h0M1174.9 440.5h0M1106.2 423.9h0M1385.0 450.4h0M1182.0 813.6h0M911.3 280.1h0M1467.7 616.2h0M1175.6 806.1h0M831.3 481.5h0M1423.9 505.9h0M822.3 510.8h0M1492.5 481.7h0M1423.9 493.9h0M1267.9 842.7h0M1374.4 586.7h0M1169.9 387.4h0M1251.9 366.7h0M1195.2 677.5h0M1038.2 530.6h0M1044.9 525.9h0M1113.3 570.2h0M1249.4 500.4h0M1270.9 796.9h0M1344.4 481.4h0M808.1 305.0h0M1385.8 845.3h0M1514.6 448.5h0M1241.9 818.6h0M1367.7 636.5h0M1123.8 416.8h0M1554.3 736.7h0M1419.6 640.5h0M1657.4 703.8h0M1421.0 817.8h0M1526.4 500.5h0M863.1 505.1h0M1502.6 498.2h0M1318.3 778.2h0M1463.9 436.9h0M1151.9 371.7h0M1654.9 680.5h0M1624.6 711.0h0M1185.7 642.0h0M1291.3 797.1h0M1431.6 547.2h0M626.0 456.7h0M1531.3 495.8h0M1568.3 744.1h0M1191.6 405.6h0M1514.7 501.1h0M1460.3 399.5h0M883.2 389.7h0M1388.0 600.4h0M1408.7 546.7h0M1224.4 343.5h0M1175.7 455.0h0M1079.6 385.8h0M1476.0 484.5h0M1121.0 639.4h0M696.2 475.5h0M1157.5 813.5h0M1156.8 766.9h0M1347.8 725.8h0M821.1 462.3h0M867.0 337.7h0M1109.8 343.3h0M1362.2 588.4h0M1246.1 378.9h0M1356.7 553.1h0M684.4 413.5h0M1192.4 425.2h0M1184.6 439.6h0M1274.7 762.0h0M1455.9 636.7h0M1251.8 783.5h0M1533.4 559.0h0M1183.8 830.4h0M1301.8 471.6h0M1211.5 446.8h0M1075.5 1140.0h0M1235.2 760.6h0M1310.3 537.0h0M1355.9 678.3h0M1269.8 856.0h0M1487.1 427.1h0M1515.3 864.7h0M841.6 305.2h0M1354.1 602.3h0M1302.5 420.8h0M1310.7 579.3h0M1211.4 372.0h0M1535.2 514.8h0M1539.0 710.3h0M937.9 334.6h0M1041.1 565.6h0M1179.1 654.6h0M1088.3 612.4h0M1361.4 722.7h0M1148.2 390.7h0M1324.1 554.5h0M1520.4 685.2h0M1509.0 476.0h0M1187.0 512.9h0M1511.3 473.5h0M1288.1 418.3h0M1430.1 393.7h0M1263.1 398.9h0M1534.8 555.3h0M1100.8 409.6h0M1346.4 597.5h0M1223.0 512.5h0M830.2 448.8h0M960.3 256.5h0M1192.4 381.6h0M1080.6 368.7h0M1255.6 491.0h0M1166.8 390.8h0M1428.1 474.8h0M1188.7 784.2h0M1396.1 629.8h0M791.3 437.8h0M1151.2 818.4h0M1286.3 564.1h0M1532.2 568.4h0M1507.1 517.7h0M1092.0 389.8h0M1077.9 1104.7h0M1141.4 399.8h0M1212.7 811.4h0M1284.9 433.2h0M1189.7 774.6h0M1135.5 460.2h0M1464.2 858.2h0M1152.8 786.2h0M1620.5 679.5h0M820.7 319.9h0M1458.1 864.6h0M1498.0 470.1h0M1281.7 455.8h0M934.3 230.3h0M1155.7 464.3h0M1508.2 468.6h0M1265.3 579.1h0M1672.6 697.6h0M1076.5 389.7h0M1516.2 848.6h0M814.1 347.8h0M1331.5 706.5h0M818.6 511.3h0M1358.6 645.4h0M1698.2 636.7h0M1427.4 400.4h0M1681.2 631.8h0M1278.4 736.6h0M1621.8 670.6h0M1269.1 520.5h0M1514.4 466.8h0M1215.7 825.5h0M1329.4 627.6h0M1520.1 722.5h0M1241.4 447.0h0M900.3 224.2h0M1517.9 448.5h0M1251.6 525.8h0M819.2 277.0h0M1288.5 496.3h0M1282.2 424.8h0M1279.1 536.1h0M1675.1 655.5h0M1389.9 503.4h0M1093.7 420.2h0M1515.9 731.7h0M1244.6 531.4h0M1303.2 530.9h0M1214.6 777.8h0M1277.1 582.9h0M1484.0 421.7h0M1174.3 419.2h0M822.7 470.6h0M1630.7 688.5h0M952.3 280.6h0M1388.6 622.4h0M1307.4 748.5h0M823.5 508.2h0M1386.0 511.1h0M1376.0 555.9h0M1487.0 910.1h0M1452.7 574.4h0M786.7 309.0h0M1571.8 738.1h0M1604.3 687.6h0M1133.7 430.3h0M1195.1 606.3h0M1412.3 769.0h0M1208.3 797.6h0M1089.5 625.2h0M1431.8 473.5h0M1286.8 757.6h0M1176.3 466.2h0M1241.3 380.2h0M1344.6 709.9h0M1456.7 904.7h0M1122.0 440.0h0M1332.3 493.9h0M1269.2 842.8h0M1071.0 599.3h0M1488.0 584.5h0M1095.3 373.6h0M1144.4 404.8h0M1266.0 505.9h0M1262.4 695.8h0M1215.7 727.1h0M1549.3 714.8h0M1323.0 574.2h0M1192.0 337.9h0M1439.1 412.2h0M1144.7 367.7h0M1425.1 387.6h0M1508.9 441.8h0M1160.5 571.9h0M1281.3 797.3h0M1449.2 408.0h0M1207.0 811.2h0M1240.7 737.8h0M1438.0 878.9h0M1364.2 733.5h0M1327.0 616.2h0M1453.3 609.0h0M684.1 423.9h0M1108.1 352.9h0M1248.1 375.5h0M1460.4 424.9h0M1203.8 436.4h0M968.6 234.1h0M1105.1 408.5h0M881.7 417.7h0M1209.7 444.3h0M1381.8 456.2h0M1440.1 871.9h0M1272.3 789.5h0M1284.1 780.1h0M1077.4 505.2h0M1431.1 848.7h0M1168.0 412.1h0M1627.1 665.9h0M1309.4 415.3h0M1313.3 556.2h0M1215.7 613.1h0M1689.5 683.9h0M1222.1 534.2h0M1428.3 392.1h0M1147.8 790.7h0M1322.5 484.8h0M1492.1 494.1h0M1461.4 627.5h0M836.2 374.4h0M1458.7 497.8h0M1090.1 356.4h0M932.7 310.7h0M1368.4 643.2h0M1517.1 575.6h0M1106.7 503.4h0M1494.6 811.6h0M1296.4 764.8h0M1214.2 791.1h0M1168.4 374.1h0M1197.3 769.7h0M936.9 229.4h0M1541.4 723.4h0M1115.6 399.6h0M1388.1 537.9h0M1484.9 923.7h0M1632.0 658.1h0M820.3 508.7h0M1195.4 435.3h0M1700.8 665.8h0M1524.7 568.4h0M980.4 244.3h0M1165.1 826.1h0M1194.1 849.0h0M1264.0 499.2h0M827.2 384.2h0M1432.6 703.6h0M1523.5 735.7h0M1416.9 494.3h0M1623.1 699.6h0M1588.9 694.6h0M1269.8 827.0h0M1058.9 598.8h0M1335.4 687.9h0M1089.9 545.1h0M842.5 510.8h0M1457.9 591.9h0M1504.8 469.7h0M1474.2 822.6h0M929.4 293.8h0M1441.1 547.2h0M1629.3 619.4h0M1211.7 826.9h0M1568.1 724.4h0M1307.3 564.5h0M1316.2 494.0h0M1455.2 620.5h0M656.2 412.8h0M1152.5 783.6h0M1384.0 458.9h0M1225.2 618.1h0M1341.0 485.7h0M1105.5 449.0h0M1269.7 407.9h0M1507.2 549.2h0M1303.4 760.0h0M1509.6 536.5h0M1320.2 611.5h0M946.7 267.4h0M1297.0 610.5h0M892.5 289.4h0M1499.3 468.9h0M885.8 253.5h0M1530.8 712.8h0M1291.6 774.5h0M864.6 343.4h0M1522.4 462.3h0M1143.7 483.3h0M1567.8 698.9h0M1285.9 558.7h0M1262.5 492.4h0M1627.9 722.6h0M818.4 470.4h0M1672.0 672.0h0M1521.0 489.5h0M1603.1 661.7h0M1307.9 503.5h0M785.5 471.7h0M918.6 242.5h0M1254.5 450.0h0M1125.8 542.2h0M817.5 507.0h0M1415.5 389.0h0M1096.8 546.9h0M793.8 293.5h0M1221.8 753.2h0M1465.4 542.7h0M1211.9 583.3h0M1205.9 815.0h0M1514.3 854.0h0M1304.2 645.3h0M800.2 300.3h0M1251.7 450.5h0M1441.5 401.9h0M1239.7 559.7h0M1172.8 359.8h0M1169.7 393.4h0M1366.0 525.8h0M1383.2 596.8h0M1462.9 413.8h0M1327.7 445.8h0M1569.0 708.8h0M1058.0 518.9h0M1471.7 415.1h0M1060.4 594.9h0M1107.5 427.1h0M1148.0 481.0h0M1641.6 623.6h0M1137.8 491.9h0M1166.1 626.8h0M1191.6 637.6h0M1166.2 821.0h0M1336.1 584.7h0M1249.1 516.4h0M965.9 274.2h0M804.0 499.3h0M1333.2 748.4h0M1206.6 463.1h0M1525.6 523.3h0M1370.4 476.9h0M1406.9 477.2h0M1450.5 391.3h0M1232.3 420.2h0M1135.3 531.5h0M1391.5 681.4h0M1107.2 417.8h0M1086.1 431.0h0M1223.2 402.3h0M805.5 252.7h0M1259.1 398.9h0M1111.6 351.3h0M1529.3 579.5h0M821.2 514.4h0M856.7 243.1h0M1304.9 483.3h0M1435.5 835.0h0M1404.5 787.7h0M1676.9 630.2h0M1237.8 470.9h0M1249.5 797.0h0M1289.7 618.2h0M1342.4 647.8h0M1429.6 671.9h0M1284.0 787.7h0M823.7 298.1h0M835.0 490.3h0M1284.1 426.1h0M1149.2 462.3h0M1364.9 480.9h0M1104.9 598.7h0M1226.2 450.4h0M1433.1 710.1h0M1111.1 649.1h0M1154.9 521.5h0M1197.0 426.4h0M1164.6 433.0h0M1288.2 577.6h0M1131.8 364.2h0M834.0 287.3h0M1461.6 639.4h0M1166.1 775.4h0M1188.1 445.0h0M1632.7 670.5h0M1654.0 686.2h0M1141.4 480.7h0M1253.7 777.2h0M832.6 478.8h0M1215.2 459.8h0M1396.8 453.5h0M1500.8 472.4h0M622.4 384.4h0M1314.2 676.8h0M1219.1 574.0h0M1514.1 835.2h0M1274.7 450.4h0M1212.7 809.0h0M1287.7 761.1h0M848.3 366.0h0M1162.2 391.3h0M1204.3 590.8h0M1178.6 349.9h0M1609.1 658.9h0M1439.2 401.8h0M1517.9 577.5h0M717.9 460.8h0M881.0 304.1h0M1084.8 589.0h0M1041.5 533.4h0M1437.8 545.0h0M1278.5 402.0h0M1318.4 770.6h0M1157.9 831.5h0M1539.4 695.0h0M1314.3 419.7h0M1090.0 480.7h0M1090.2 449.9h0M1657.8 680.5h0M1579.1 732.1h0M1029.6 531.7h0M1168.8 666.6h0M1648.4 690.1h0M1401.5 558.5h0M1338.5 668.3h0M1382.2 619.3h0M1371.3 591.2h0M1511.3 546.7h0M1430.8 390.8h0M1441.7 668.4h0M1306.3 416.6h0M1208.7 611.8h0M1090.1 402.7h0M1442.2 851.1h0M1267.8 484.1h0M1206.2 466.3h0M1386.7 494.7h0M1459.9 887.8h0M1628.1 693.8h0M1673.2 699.5h0M1465.5 473.5h0M1118.5 656.0h0M1500.8 537.3h0M1196.0 775.5h0M1451.7 620.4h0M1394.6 564.0h0M1151.4 823.3h0M1248.6 455.2h0M1310.7 708.1h0M1532.5 493.9h0M1294.0 479.6h0M1423.6 704.3h0M1150.8 366.9h0M928.8 239.6h0M1429.1 797.3h0M1136.1 589.8h0M1299.5 545.8h0M1341.1 490.8h0M860.5 503.8h0M1167.9 404.4h0M1170.5 397.7h0M1200.0 842.5h0M1526.4 516.9h0M1266.8 411.3h0M1415.9 810.3h0M947.7 279.9h0M1365.1 670.2h0M1179.8 563.2h0M1087.8 614.7h0M803.3 307.6h0M826.0 383.1h0M1370.5 681.7h0M924.8 252.5h0M840.8 500.3h0M922.4 340.5h0M1398.7 641.8h0M1421.5 393.9h0M1349.5 503.8h0M1422.6 395.3h0M1174.4 400.2h0M790.2 282.9h0M1260.3 375.4h0M1329.0 439.8h0M1499.1 472.9h0M1251.0 493.3h0M1225.9 382.2h0M1210.2 809.3h0M1145.4 419.1h0M1278.8 551.8h0M904.5 288.5h0M1209.1 384.3h0M1365.1 512.0h0M1383.1 560.2h0M1220.7 767.8h0M1069.2 607.3h0M858.3 354.6h0M1081.6 515.9h0M1404.6 492.0h0M993.6 292.3h0M1654.1 608.2h0M1381.0 662.2h0M1604.8 701.0h0M1420.2 472.0h0M1283.0 723.6h0M1147.2 411.8h0M1543.9 547.2h0M1334.7 641.0h0M1391.1 500.5h0M1285.9 547.4h0M1293.8 562.3h0M1192.5 466.2h0M1392.4 691.2h0M1298.4 456.4h0M1505.6 864.0h0M809.5 485.3h0M1397.9 533.1h0M1248.2 465.8h0M1211.6 470.6h0M1180.1 490.3h0M1637.9 706.0h0M1389.4 557.3h0M833.6 257.4h0M1415.1 700.7h0M1535.4 503.8h0M1412.7 503.2h0M1514.3 483.5h0M1206.5 788.5h0M1695.7 601.0h0M1356.1 516.7h0M1310.3 648.1h0M1359.7 791.0h0M835.6 283.1h0M1484.8 431.7h0M1518.1 502.1h0M771.1 278.4h0M1095.3 581.8h0M1135.7 493.7h0M1142.2 372.9h0M1571.1 741.6h0M1280.9 555.8h0M1279.8 508.2h0M1328.2 552.5h0M818.3 319.4h0M1075.5 391.0h0M1503.6 494.4h0M1178.0 807.5h0M1203.7 640.8h0M1055.9 538.6h0M1645.6 673.0h0M1278.9 455.6h0M1116.1 563.2h0M1407.7 782.7h0M1370.2 524.6h0M1513.7 600.0h0M1400.2 566.4h0M1205.3 414.7h0M1295.3 726.2h0M1468.7 865.8h0M1112.6 578.0h0M1442.5 414.7h0M1469.6 909.7h0M1253.8 459.7h0M1251.0 735.7h0M1555.4 739.3h0M1347.8 796.1h0M1227.2 717.8h0M1680.5 639.4h0M1127.0 376.6h0M1652.6 688.3h0M1308.1 560.5h0M1366.4 698.0h0M802.4 481.5h0M905.5 298.7h0M1183.7 696.5h0M1464.1 440.8h0M1161.4 665.2h0M1465.0 907.1h0M799.3 442.1h0M1194.4 598.1h0M1690.8 701.6h0M1305.5 384.1h0M775.2 270.7h0M1123.8 617.8h0M1266.1 443.8h0M1509.0 552.8h0M1412.2 816.9h0M1229.3 830.4h0M798.2 487.4h0M1649.1 653.8h0M792.0 470.7h0M1382.4 468.1h0M1288.7 560.4h0M1107.6 415.8h0M1618.2 715.9h0M1330.2 679.0h0M814.6 376.5h0M1682.5 670.5h0M1535.2 569.0h0M1251.2 430.4h0M884.0 280.0h0M1478.7 815.0h0M942.2 306.5h0M1359.9 572.8h0M814.4 286.2h0M890.2 319.4h0M1101.5 473.4h0M1375.9 474.8h0M896.4 272.9h0M1426.3 472.1h0M1195.2 627.6h0M1276.2 720.1h0M786.5 278.4h0M1309.3 711.3h0M1419.6 820.5h0M1118.3 494.7h0M793.7 244.5h0M1508.5 457.6h0M1442.5 528.7h0M944.1 238.5h0M1402.1 528.3h0M1117.3 429.1h0M1530.1 554.4h0M1432.9 650.3h0M823.5 371.7h0M840.4 283.4h0M1246.5 371.1h0M1264.3 512.4h0M1166.3 477.9h0M830.8 294.1h0M1101.9 597.1h0M1418.7 600.2h0M1393.9 547.1h0M1275.7 788.1h0M1302.6 487.4h0M1464.2 405.2h0M1511.6 836.6h0M1418.8 652.6h0M1339.2 720.2h0M1085.6 504.1h0M903.4 297.8h0M835.1 311.3h0M1297.4 391.1h0M1386.5 661.6h0M1253.8 456.1h0M1512.4 890.3h0M824.5 474.5h0M1094.3 468.5h0M1651.7 710.1h0M841.6 255.4h0M1426.4 614.9h0M1673.9 659.2h0M1078.4 341.0h0M1071.5 379.8h0M1250.4 466.3h0M1466.9 432.3h0M1373.5 485.5h0M1317.4 760.6h0M1119.8 398.8h0M1492.5 578.7h0M1191.5 558.8h0M1351.0 576.1h0M1190.3 829.3h0M1352.1 485.2h0M1099.4 355.8h0M850.1 365.7h0M1384.2 575.3h0M1350.2 571.0h0M950.2 324.6h0M1367.0 574.6h0M1103.2 364.4h0M814.9 298.1h0M1159.0 761.1h0M937.4 237.1h0M967.9 271.4h0M1391.4 597.8h0M1530.9 552.2h0M1285.8 689.5h0M1658.5 671.3h0M1205.9 398.0h0M843.1 364.7h0M1335.5 468.4h0M1509.4 481.6h0M952.7 286.8h0M893.2 300.5h0M1510.4 500.9h0M1182.5 504.9h0M1513.6 692.8h0M1531.7 508.9h0M1183.5 604.0h0M1499.7 449.4h0M1495.8 442.6h0M1090.7 419.8h0M1250.8 413.0h0M1579.8 683.3h0M1534.9 726.0h0M1327.0 438.4h0M991.4 237.1h0M1344.4 542.1h0M806.7 516.6h0M1236.4 499.5h0M1283.4 790.3h0M1240.9 741.7h0M1501.4 571.3h0M1197.1 836.7h0M1362.0 574.1h0M1506.4 489.9h0M1299.2 771.2h0M1651.3 692.8h0M1151.9 572.9h0M881.8 318.1h0M1623.7 723.6h0M1179.6 624.1h0M967.7 299.1h0M1344.6 764.9h0M1134.4 419.8h0M1384.2 729.5h0M1438.7 872.8h0M1209.5 416.7h0M1473.1 427.6h0M1703.6 640.8h0M1347.5 474.0h0M839.4 240.5h0M850.1 482.4h0M1132.3 375.4h0M1100.6 364.8h0M1198.3 813.5h0M1408.3 382.0h0M1186.6 838.2h0M1105.5 614.2h0M1088.7 448.9h0M1238.9 785.8h0M1546.1 736.3h0M1677.1 687.9h0M1164.8 828.4h0M1217.3 413.0h0M908.5 261.2h0M1445.2 415.0h0M892.6 317.6h0M1527.7 699.7h0M1562.6 677.3h0M877.7 322.5h0M1387.4 537.7h0M1133.6 490.2h0M1249.1 528.8h0M1145.9 550.4h0M1395.7 698.7h0M876.4 354.9h0M1287.3 459.3h0M1419.5 764.8h0M1333.6 482.9h0M1673.2 702.6h0M1145.7 646.4h0M1233.2 493.6h0M1218.5 662.1h0M1187.5 402.0h0M1268.9 405.8h0M872.1 500.8h0M1168.4 364.6h0M776.3 470.1h0M1242.4 423.5h0M1300.9 528.4h0M1312.5 429.6h0M1316.6 441.6h0M1247.0 603.9h0M806.1 499.7h0M1449.8 459.3h0M1509.6 852.3h0M1273.5 475.7h0M1516.4 454.6h0M1383.0 493.0h0M1393.2 574.9h0M1530.1 556.3h0M873.4 381.5h0M820.8 340.0h0M1083.6 350.1h0M820.5 469.7h0M1490.1 585.9h0M1138.5 556.0h0M1204.4 427.9h0M1517.1 539.0h0M1298.1 374.0h0M1305.4 539.9h0M1018.0 285.2h0M1336.1 542.3h0M1567.2 704.3h0M825.3 442.2h0M1165.9 530.9h0M1377.8 777.6h0M1521.4 499.3h0M1599.4 701.2h0M1318.1 484.3h0M1463.1 420.8h0M1299.7 429.9h0M1109.2 594.4h0M1253.9 770.4h0M1262.9 465.2h0M1288.3 406.4h0M1113.5 401.3h0M1147.8 660.2h0M859.7 349.8h0M1093.1 383.3h0M1486.3 902.2h0M1529.3 570.4h0M1449.4 842.2h0M1350.9 508.1h0M1119.4 559.4h0M955.9 237.9h0M1103.7 513.7h0M1139.1 586.9h0M1233.0 381.1h0M1296.1 566.1h0M1540.1 544.6h0M1632.5 697.4h0M1164.5 446.9h0M1458.3 631.9h0M1162.9 482.2h0M1083.1 498.1h0M845.7 387.2h0M1151.6 387.9h0M1538.3 555.3h0M1585.6 675.1h0M992.2 242.4h0M867.1 230.7h0M1500.0 720.8h0M1207.7 627.4h0M1645.7 659.6h0M1082.0 521.8h0M1414.9 385.9h0M1582.7 691.9h0M1233.3 776.3h0M955.4 300.5h0M1319.7 639.7h0M1467.1 824.9h0M1505.9 491.5h0M1381.7 471.6h0M610.3 726.9h0M1424.5 772.4h0M1430.7 852.7h0M1502.2 544.6h0"/>
<path stroke="#651a80" d="M887.3 261.9h0M1125.4 405.0h0M1694.5 590.8h0M681.5 474.3h0M1406.0 821.3h0M1384.3 587.1h0M1245.2 762.6h0M1367.3 783.2h0M1272.8 393.8h0M1662.0 654.1h0M799.1 436.4h0M1518.8 490.0h0M953.7 300.7h0M1374.9 596.7h0M1172.7 756.6h0M1302.2 630.0h0M1521.9 523.0h0M1173.3 551.3h0M1289.6 797.9h0M1437.4 843.7h0M1291.7 374.3h0M1396.0 470.1h0M1269.4 810.2h0M1473.0 513.4h0M1610.6 718.1h0M1377.1 716.0h0M1088.6 407.7h0M1153.1 498.4h0M1380.4 569.0h0M1178.9 555.1h0M1643.6 673.9h0M1449.9 400.2h0M1528.7 734.1h0M1392.6 590.9h0M1557.7 723.1h0M1560.6 742.9h0M1675.4 650.2h0M1518.9 458.0h0M1323.2 511.2h0M1410.6 836.4h0M1300.9 589.8h0M916.7 240.7h0M837.0 388.2h0M969.0 257.2h0M1265.1 598.6h0M1195.0 649.6h0M1167.6 833.6h0M1387.8 501.9h0M1008.8 282.1h0M1307.1 479.0h0M1404.3 568.1h0M1429.8 383.9h0M1490.2 463.4h0M1102.0 610.2h0M849.0 493.0h0M1404.4 536.2h0M932.7 238.9h0M1504.5 493.0h0M1518.4 829.5h0M1284.3 464.2h0M1311.1 581.6h0M1222.5 530.1h0M1703.1 638.1h0M1588.6 709.2h0M1196.3 793.4h0M1693.8 681.9h0M1519.8 521.2h0M1362.3 844.1h0M1198.3 650.8h0M1374.0 579.1h0M1318.3 566.4h0M1645.7 689.8h0M1369.2 495.0h0M1145.4 365.9h0M1272.4 718.9h0M1296.6 633.5h0M817.0 384.4h0M1664.5 622.9h0M1397.5 514.6h0M1101.3 381.1h0M1509.9 828.0h0M1072.3 483.5h0M1344.0 614.6h0M1350.1 611.0h0M1402.3 539.0h0M1200.1 650.5h0M1233.7 714.6h0M1173.3 677.0h0M900.5 352.0h0M1546.6 730.8h0M1414.5 540.4h0M906.5 245.7h0M1321.1 462.2h0M1329.1 505.8h0M1523.0 515.7h0M1264.0 703.9h0M1072.0 607.9h0M1457.7 870.8h0M1297.9 798.7h0M1258.1 554.7h0M1078.1 412.9h0M1446.1 389.6h0M1669.1 675.7h0M1014.8 321.6h0M648.8 439.4h0M1659.9 639.5h0M1285.5 369.6h0M1193.6 814.6h0M1096.7 475.4h0M1327.1 592.9h0M1537.6 511.6h0M1208.5 573.9h0M1318.4 781.3h0M1106.0 473.4h0M1252.6 553.8h0M1312.7 679.4h0M1458.5 405.9h0M1494.4 431.2h0M1472.8 599.7h0M1404.1 469.5h0M1083.7 416.8h0M1260.5 396.6h0M1112.3 644.5h0M1673.4 636.3h0M1254.5 591.0h0M1696.7 682.8h0M803.7 445.7h0M1503.9 582.5h0M956.8 269.2h0M1149.5 456.5h0M1131.9 443.7h0M1111.5 651.4h0M1327.0 653.5h0M1333.6 457.7h0M1531.3 701.8h0M1053.0 1159.7h0M831.5 347.0h0M817.0 434.9h0M838.8 313.8h0M1388.3 651.5h0M686.3 479.0h0M929.4 297.0h0M1331.1 465.2h0M1440.9 821.8h0M966.9 317.8h0M1703.6 657.8h0M1171.8 462.2h0M1127.2 552.6h0M1207.4 606.5h0M1479.7 830.7h0M1641.1 695.2h0"/>
<path stroke="#6d1d81" d="M1576.4 710.4h0M1070.2 603.3h0M1215.3 564.0h0"/>
<path stroke="#7c2382" d="M1559.2 731.9h0M1483.2 596.0h0"/>
<path stroke="#842681" d="M1399.8 740.6h0M872.3 354.7h0M920.4 265.9h0M854.6 402.1h0M1367.5 628.9h0M1252.8 529.4h0M870.6 223.6h0M1310.1 387.6h0M1109.7 539.1h0M1087.1 606.0h0M1424.0 476.0h0M868.9 301.5h0M1315.7 648.3h0M1157.8 508.0h0M1207.7 395.8h0M680.3 402.7h0M1042.6 580.5h0M1257.7 368.4h0M1223.0 784.8h0M625.5 405.2h0M1495.4 731.3h0M1187.8 688.6h0M1384.5 725.1h0M1320.6 734.2h0M800.9 252.4h0M1284.8 389.8h0M1343.3 740.9h0M1099.8 564.5h0M1480.2 599.6h0M830.3 310.8h0M1329.0 663.7h0M1523.5 521.3h0M1342.9 489.8h0M1125.5 411.3h0M1203.2 467.3h0M888.7 275.7h0M765.3 465.8h0M1119.8 357.4h0M805.2 232.6h0M1362.8 541.2h0M1202.3 377.1h0M1155.5 545.6h0M1033.7 520.0h0M1163.5 521.0h0M1308.0 586.4h0M1296.2 412.7h0M1606.2 677.7h0M1196.2 791.5h0M1065.2 346.1h0M1194.5 388.8h0M1674.0 633.9h0M1087.8 532.6h0M1168.0 648.8h0M1121.6 405.7h0M1306.3 741.7h0M1119.5 563.8h0M842.8 503.4h0M1453.8 913.5h0M834.9 452.6h0M844.4 473.8h0M1096.9 473.1h0M1206.2 802.6h0M1281.4 464.4h0M1300.2 796.6h0M1165.5 464.4h0M1281.0 495.0h0M1120.2 1159.5h0M1170.9 591.2h0M1349.1 764.2h0M1127.1 408.5h0M934.6 235.6h0M1167.1 417.5h0M1310.9 575.0h0M860.6 244.4h0M1098.2 412.5h0M888.9 311.7h0M1200.1 565.6h0M1532.3 479.7h0M959.8 335.5h0M1307.4 431.1h0M1499.3 430.6h0M1508.8 443.7h0M1589.9 730.5h0M1433.9 862.7h0M1682.1 666.5h0M854.9 255.9h0M1198.2 427.7h0M794.0 246.1h0M1281.2 497.2h0M1242.7 529.4h0"/>
<path stroke="#8c2981" d="M1117.2 551.7h0M1152.4 537.7h0M1167.1 494.7h0M1081.0 473.9h0M1479.5 844.6h0M1295.8 478.2h0M1113.1 387.5h0M1311.2 751.3h0M1079.5 534.1h0M1314.4 764.6h0M940.6 262.1h0M763.7 283.1h0M817.8 447.0h0M1525.0 734.3h0M654.9 441.1h0M1221.6 402.9h0M1578.6 741.4h0M935.4 335.8h0M878.9 292.6h0M824.9 233.5h0M1176.7 395.5h0M1639.0 698.5h0M1160.5 491.2h0M1514.8 871.0h0M1173.2 341.7h0M946.3 285.9h0M974.1 329.8h0M1280.6 437.7h0M1540.6 537.7h0M1126.3 647.4h0M843.9 263.7h0M1156.7 529.2h0M1144.0 612.7h0M1265.7 477.6h0M1205.0 782.6h0M1373.9 487.5h0M1132.4 366.4h0M1454.8 490.5h0M1254.5 383.7h0M1243.6 522.9h0M1340.3 603.4h0M1419.7 619.1h0M925.5 329.9h0M777.7 284.6h0M801.0 503.8h0M1663.0 604.3h0M937.6 290.0h0M1488.9 580.4h0M1425.1 821.9h0M1355.5 489.7h0M1124.3 581.9h0M1088.0 409.3h0M1389.3 629.0h0M1381.6 524.6h0M1224.2 799.7h0M1156.7 543.5h0M1128.2 582.3h0M1362.3 617.9h0M884.5 401.3h0M1702.0 651.3h0M1082.9 514.1h0M1708.6 678.4h0M1420.1 542.5h0M1131.8 432.5h0M1403.2 584.2h0M1160.6 641.5h0M1385.2 623.4h0M1657.5 685.7h0M1206.3 419.2h0M1228.0 570.8h0M1412.6 717.3h0M1303.1 526.3h0M1441.7 593.3h0M1293.5 718.6h0M917.1 280.1h0M1120.1 616.0h0M1186.0 781.1h0M1682.6 674.3h0M1466.2 821.6h0M1380.9 602.7h0M1206.6 684.8h0M1686.3 692.5h0M1434.1 660.5h0M938.1 299.5h0M1163.5 610.5h0M1336.8 576.1h0M827.7 294.7h0M1369.0 696.3h0M1171.3 356.1h0M1116.4 390.2h0M1058.7 530.2h0M1351.5 541.5h0M875.4 503.6h0M1651.4 637.8h0M793.1 291.9h0M1469.4 445.2h0M814.1 302.1h0M855.9 260.3h0M912.3 252.9h0M1224.2 481.6h0M824.7 470.8h0M1381.4 579.2h0M1466.7 828.5h0M849.5 500.7h0M977.8 302.6h0M1226.9 803.8h0M1542.1 747.7h0M1281.4 484.9h0M1194.4 526.6h0M1331.0 535.9h0M1509.3 831.7h0M1347.0 527.0h0M1503.9 507.3h0M1224.8 603.2h0M1447.7 819.0h0M948.6 330.9h0M1491.4 888.9h0M1392.5 567.1h0M1155.7 777.1h0M1683.7 641.3h0M1658.1 707.3h0M1096.0 421.0h0M830.2 469.3h0M1346.5 843.2h0M1182.4 776.0h0M1430.4 855.6h0M1140.1 559.3h0M1210.6 596.1h0M1584.8 708.2h0M1652.2 681.2h0M1112.3 632.6h0M1223.1 379.2h0M1527.3 542.2h0M1267.1 516.8h0M1422.4 547.3h0M1366.3 633.0h0M1202.6 649.2h0M922.5 253.1h0M1460.2 460.2h0M1230.6 375.0h0M1559.8 727.8h0M1241.9 675.3h0M771.2 463.3h0M1278.8 412.1h0M1272.6 602.9h0M1476.2 802.8h0M1224.8 593.9h0M1280.1 450.6h0M1345.4 467.2h0M933.6 280.7h0M1220.3 778.2h0M1034.7 541.1h0M1468.4 805.6h0M1553.5 729.9h0M1412.7 541.5h0M789.0 499.0h0M1161.4 381.5h0M1360.9 566.6h0M1197.2 531.3h0M1402.6 630.1h0M1311.0 459.4h0M894.1 227.2h0M1553.4 740.4h0M1035.6 572.7h0M1205.0 629.4h0M1141.4 654.7h0M1473.9 436.3h0M927.4 235.5h0M1155.8 537.4h0M1275.2 535.0h0M1413.0 534.2h0M985.8 280.8h0M1280.2 469.8h0M1240.8 390.9h0M934.5 239.8h0M1388.7 489.2h0M1236.3 541.4h0M1393.4 528.9h0M1342.2 572.6h0M1288.3 474.4h0M939.2 250.7h0M1123.4 344.9h0M1288.8 801.6h0M1256.8 585.7h0M1377.4 527.1h0M1365.4 696.5h0M945.3 236.5h0M1379.1 624.6h0M778.7 267.8h0M1194.2 684.6h0M1285.7 720.4h0M1091.0 422.6h0M1394.8 510.6h0M1484.7 489.9h0M1331.6 845.5h0M1468.5 919.0h0M1168.3 367.3h0M1531.0 539.6h0M1168.1 819.4h0M1483.5 560.4h0M1205.6 522.7h0M1519.2 709.7h0M916.7 248.3h0M1075.7 579.9h0M1049.1 548.4h0M1157.1 352.2h0M907.9 282.5h0M1152.4 440.8h0M1285.1 574.0h0M1590.0 737.3h0M1490.2 826.0h0M1177.9 437.7h0M1443.2 425.6h0M1614.6 664.7h0M1402.7 496.8h0M1358.2 538.2h0M1090.3 343.4h0M638.4 442.5h0M1208.2 659.3h0M847.8 483.6h0M1176.3 670.1h0M1152.7 532.1h0M1314.7 526.4h0M1188.8 646.2h0M1251.9 460.1h0M886.7 287.1h0M1579.5 734.5h0M917.4 325.8h0M1339.6 733.6h0M1717.3 666.0h0M1528.9 479.9h0M1217.8 675.3h0M972.0 262.0h0M1284.0 446.2h0M1446.3 624.9h0M1275.9 558.0h0M825.2 257.6h0M1041.6 531.2h0M1377.9 608.0h0M1358.5 575.1h0M1333.7 520.4h0M1253.5 720.3h0M1276.7 514.8h0M1366.2 518.2h0M1436.5 819.5h0M1321.7 477.1h0M855.1 389.9h0M1341.2 558.7h0M1136.4 438.2h0M1275.1 758.5h0M1676.8 642.1h0M1370.9 575.0h0M858.2 387.6h0M1273.4 392.1h0M911.1 226.8h0M1445.6 852.9h0M1397.9 635.8h0M1328.3 457.4h0M1439.8 486.4h0M1329.8 569.4h0M1439.9 392.3h0M1414.9 546.4h0M1157.6 640.2h0M1545.6 742.5h0M1513.4 892.0h0M1201.5 653.0h0M1155.9 343.3h0M1319.0 514.4h0M1262.6 659.8h0M1609.1 725.9h0M1510.4 545.4h0M1226.4 800.1h0M1455.9 906.4h0M1102.0 483.5h0M1509.7 711.9h0M1149.8 501.3h0M1462.4 845.8h0M1452.1 627.3h0M1437.3 425.4h0M1146.4 621.6h0M1330.2 633.7h0M1091.3 398.6h0M904.9 291.3h0M1206.9 445.9h0M1203.7 505.4h0M903.6 311.6h0M1629.9 670.7h0M1237.0 615.0h0M1510.5 451.7h0M1203.9 807.0h0M1596.8 716.3h0M1251.9 406.5h0M1266.8 520.0h0M1364.1 669.9h0M1321.2 454.3h0M1119.2 413.8h0M899.5 255.5h0M1469.1 625.7h0M1099.5 569.3h0M818.7 265.7h0M1429.2 527.3h0M1227.6 498.0h0M1550.5 701.6h0M963.3 301.6h0M768.1 456.1h0M1110.9 406.9h0M839.6 277.7h0M1370.3 603.8h0M1146.9 628.1h0M1439.8 801.5h0M847.9 384.2h0M1379.0 570.9h0M1671.9 618.3h0M1484.7 841.0h0M1133.0 640.1h0M838.9 250.3h0M1512.8 728.7h0M1080.9 365.5h0M914.0 298.2h0M1619.8 716.5h0M1184.7 386.7h0M1306.8 563.1h0M888.9 408.4h0M1257.1 482.6h0M1527.4 579.5h0M1365.1 562.1h0M1390.5 553.9h0M1098.5 588.6h0M1168.1 563.7h0M1331.0 588.1h0M1289.5 546.0h0M1158.4 349.6h0M1334.3 511.6h0M1557.7 711.6h0M1152.0 660.1h0M1440.6 455.0h0M1122.8 514.6h0M872.1 287.3h0M1013.8 326.1h0M1596.5 718.0h0M1141.4 668.3h0M1218.2 609.0h0M817.1 275.9h0M1473.4 584.2h0M1058.5 498.0h0M1526.5 701.4h0M1267.1 629.1h0M1539.2 733.0h0M1643.0 652.7h0M1339.0 801.9h0M959.1 320.5h0M1431.8 425.2h0M1461.9 481.7h0M1132.1 572.0h0M1380.5 567.0h0M1477.3 918.4h0M1523.5 841.8h0M1076.0 380.2h0M1357.7 741.2h0M873.9 321.4h0M765.0 445.6h0M1268.3 832.5h0M1371.7 675.3h0M1317.6 448.0h0M910.2 322.2h0M1105.4 530.4h0M1335.7 626.4h0M1586.8 714.0h0M1197.4 560.3h0M1460.3 869.1h0M1114.8 599.4h0M1218.6 606.1h0M1400.4 537.0h0M1315.0 563.4h0M1530.4 732.9h0M1283.4 411.1h0M1217.7 383.7h0M1376.4 661.2h0M1613.7 715.8h0M1186.6 522.9h0M1107.5 432.5h0M881.0 275.7h0M1212.3 802.4h0M1473.6 469.2h0M851.5 248.9h0M784.8 431.1h0M932.1 276.4h0M1442.8 865.6h0M1205.7 851.8h0M1507.7 503.6h0M767.9 462.8h0M816.8 351.3h0M1661.8 684.3h0M1083.4 424.7h0M1465.3 902.6h0M1440.0 894.8h0M1160.4 668.3h0M1177.5 613.2h0M1503.5 567.0h0M1554.4 731.3h0M892.7 248.1h0M1188.0 808.3h0M896.3 271.3h0M621.8 443.7h0M782.0 294.3h0M1190.7 553.0h0M1238.2 521.3h0M1174.6 432.6h0M1707.0 681.6h0M863.1 217.8h0M828.0 226.3h0M1270.8 501.1h0M1303.2 663.9h0M1520.9 740.1h0M1373.4 555.4h0M903.5 245.3h0M1130.6 555.5h0M1274.5 786.8h0M1121.2 386.6h0M1038.2 542.0h0M1364.0 574.5h0M906.7 242.6h0M1529.8 718.0h0M638.6 373.4h0M1234.9 389.2h0M1287.7 478.7h0M1085.3 411.6h0M1377.0 633.6h0M1388.7 705.2h0M1452.9 889.6h0M1406.6 516.1h0M832.2 497.4h0M1252.8 842.7h0M849.1 284.7h0M1083.5 585.7h0M1204.2 411.4h0M1698.5 686.1h0M867.9 250.5h0M1195.3 699.0h0M1291.9 510.2h0M1343.3 467.2h0M1471.8 812.3h0M1615.5 727.1h0M1345.7 544.6h0M1097.8 578.7h0M1093.9 411.1h0M1241.2 427.3h0M1081.5 549.4h0M1162.5 504.2h0M1463.2 597.4h0M1318.8 549.9h0M1180.6 662.0h0M1431.7 825.0h0M1223.5 422.8h0M1524.2 541.1h0M1103.1 419.6h0M1421.4 836.9h0M1192.3 694.1h0M1311.6 425.3h0M1247.5 445.2h0M1111.2 395.0h0M1126.1 420.7h0M1421.5 810.8h0M851.9 468.3h0M835.6 386.5h0M1095.7 561.2h0M1459.8 889.5h0M1260.2 606.8h0M1261.6 458.8h0M1260.3 371.0h0M809.1 273.5h0M1194.0 611.3h0M1139.4 377.7h0M1378.8 507.2h0M1295.6 557.2h0M1508.7 851.6h0M1340.7 595.5h0M1200.4 419.4h0M1640.0 676.9h0M1263.1 518.5h0M1257.5 758.7h0M1247.7 794.6h0M1378.1 525.1h0M1105.0 507.1h0M1357.1 508.5h0M1399.8 678.5h0M904.9 248.3h0M1672.8 708.7h0M1181.9 555.6h0M1427.6 383.2h0M1179.7 545.3h0M1106.3 481.9h0M1490.1 468.6h0M823.8 479.6h0M1159.0 351.8h0M1345.2 491.4h0M1195.7 683.1h0M1294.7 433.2h0M1187.6 490.8h0M1181.8 351.2h0M1414.1 563.1h0M1365.4 553.5h0M1210.0 373.9h0M1151.8 541.1h0M1294.4 471.8h0M651.7 441.8h0M1324.7 522.0h0M1112.0 443.8h0M1249.4 545.1h0M1479.9 472.7h0M1091.1 601.9h0M1044.3 521.1h0M1239.3 364.9h0M1253.7 735.6h0M1638.1 675.0h0M825.7 228.0h0M1092.9 610.2h0M1290.4 471.8h0M1355.0 728.7h0M1121.2 591.5h0M1137.8 367.1h0M1622.2 667.8h0M1583.9 720.4h0M821.2 241.4h0M1682.6 683.4h0M943.2 292.2h0M1376.4 487.6h0M1441.8 520.9h0M1332.1 581.1h0M1381.4 759.2h0M1247.8 551.0h0M903.2 233.7h0M1183.2 671.1h0M1265.3 550.4h0M1624.1 670.0h0M1121.2 434.1h0M1535.7 567.3h0M1506.5 521.8h0M1224.5 419.9h0M1538.4 720.5h0M1479.9 421.1h0M1300.7 508.2h0M1192.1 363.3h0M1258.0 453.8h0M1235.2 537.7h0M1410.0 508.3h0M1657.1 683.4h0"/>
<path stroke="#962c80" d="M1254.9 416.7h0M678.8 418.7h0M1090.5 582.2h0M1083.8 389.5h0M1148.2 498.4h0M1670.0 670.3h0M642.0 378.4h0M1130.9 367.2h0M1242.7 575.6h0M1127.2 636.9h0M1168.9 781.8h0M931.6 303.6h0M1511.1 865.1h0M1196.0 610.1h0M1101.3 433.3h0M1108.3 575.9h0M1191.7 764.4h0M954.0 272.1h0M1627.1 702.4h0M1385.6 684.1h0M1095.6 593.2h0M820.0 297.0h0M658.6 438.8h0M849.6 467.5h0M1367.6 471.5h0M1462.8 576.0h0M1437.9 676.3h0M870.6 496.6h0M1696.7 653.0h0M1412.7 837.7h0M1467.4 593.3h0M830.4 358.5h0M1361.6 468.6h0M1480.3 481.2h0M1669.0 641.1h0M1243.6 370.9h0M845.1 282.6h0M1166.5 448.9h0M858.9 287.8h0M1174.1 535.7h0M1605.2 710.7h0M1387.3 697.3h0M1167.8 358.9h0M1327.3 574.1h0M1468.1 827.0h0M837.3 262.5h0M1295.9 514.6h0M1184.5 688.9h0M804.7 509.5h0M1267.3 459.7h0M1200.5 500.1h0M1481.6 614.4h0M1389.0 671.4h0M795.5 310.2h0M1209.5 568.7h0M825.0 354.3h0M1216.9 457.1h0M1263.1 601.8h0M1207.0 385.2h0M797.6 286.1h0M1386.2 756.2h0M1600.8 712.1h0M825.2 282.9h0M880.0 296.7h0M1141.4 643.7h0M1038.2 565.9h0M1584.1 736.3h0M1597.2 692.5h0M1170.4 563.3h0M1187.3 644.2h0M935.1 242.1h0M1031.6 331.6h0M1135.3 565.6h0M1127.3 422.9h0M1691.1 682.8h0M1249.0 705.8h0M1369.1 504.9h0M1339.4 532.8h0M1380.3 606.1h0M869.7 509.3h0M1239.8 362.1h0M1175.9 659.3h0M1183.6 772.6h0M1404.1 511.0h0M1223.9 425.9h0M960.5 246.2h0M1586.8 731.2h0M846.5 258.2h0M646.7 434.2h0M1403.8 555.2h0M769.9 451.6h0M1544.4 704.1h0M796.4 287.8h0M855.0 222.3h0M1154.0 363.4h0M834.2 499.4h0M1107.0 537.0h0M838.0 487.5h0M878.3 283.1h0M1642.2 635.0h0M1364.1 453.2h0M1203.7 455.7h0M1190.4 677.1h0M1130.7 643.5h0M1698.2 677.5h0M1330.3 583.6h0M1440.1 482.9h0M1136.1 625.0h0M1025.7 328.9h0M1345.2 583.1h0M788.5 492.0h0M1325.1 479.9h0M842.2 353.5h0M663.4 392.2h0M893.5 330.9h0M1038.7 576.4h0M1484.7 828.7h0M1192.5 762.9h0M1329.4 510.9h0M890.0 242.5h0M1273.6 840.9h0M1633.7 673.6h0M778.9 296.4h0M864.4 501.5h0M1398.1 527.7h0M1463.4 906.1h0M1259.3 542.4h0M1245.6 400.5h0M964.1 276.8h0M1185.1 462.5h0M1444.8 422.7h0M1217.6 820.9h0M1189.6 427.7h0M1628.7 637.3h0M1579.6 723.2h0M1304.0 522.9h0M1244.4 827.0h0M1367.3 650.4h0M1363.9 762.3h0M1404.0 846.3h0M1148.1 535.2h0M1113.2 558.0h0M1220.5 598.8h0M1412.9 492.9h0M1331.8 525.4h0M1355.3 517.4h0M1361.0 786.7h0M1297.5 405.5h0M1278.4 463.3h0M949.4 318.1h0M636.1 453.1h0M1626.1 727.8h0M1705.8 638.8h0M1371.6 711.0h0M1705.1 633.4h0M1382.6 535.3h0M1612.2 687.7h0M718.7 458.5h0M1179.0 455.7h0M1476.4 466.6h0M1482.1 430.8h0M931.3 335.6h0M1460.2 862.6h0M1446.3 526.4h0M1157.9 649.9h0M1236.5 423.9h0M842.8 376.7h0M1260.4 717.0h0M1112.6 522.6h0M785.1 488.4h0M1138.0 575.4h0M910.6 278.1h0M1139.8 571.5h0M1480.1 803.0h0M1121.9 398.0h0M1630.6 686.2h0M1481.1 807.8h0M1313.0 458.7h0M1183.6 433.3h0M1147.6 495.7h0M1572.3 724.8h0M1349.9 487.9h0M880.0 245.3h0M1150.1 393.3h0M1213.5 349.9h0M1076.4 601.0h0M1403.6 573.4h0M1361.1 725.8h0M1179.3 453.1h0M1328.8 729.5h0M1536.9 554.4h0M1180.2 497.9h0M1342.0 552.7h0M894.8 307.6h0M1426.1 630.1h0M1409.8 489.5h0M1419.4 571.1h0M1189.4 836.6h0M987.8 253.6h0M1323.2 686.3h0M1228.0 420.4h0M1084.9 383.5h0M1246.0 505.0h0M1242.6 740.1h0M1153.1 582.0h0M1437.3 889.7h0M1126.1 399.3h0M1707.0 602.8h0M1683.1 647.3h0M834.1 251.7h0M850.4 479.2h0M1282.1 540.7h0M1150.6 564.8h0M1192.1 821.7h0M940.4 332.6h0M1578.6 721.8h0M809.5 308.7h0M1177.9 647.5h0M935.7 283.2h0M1074.5 566.8h0M1306.3 442.6h0M1423.2 827.8h0M1154.4 654.8h0M767.1 290.7h0M1368.8 540.9h0M1218.9 401.0h0M1348.3 674.4h0M633.5 409.9h0M1407.9 509.7h0M894.0 397.2h0M1247.7 450.2h0M809.6 280.0h0M1376.4 623.9h0M813.3 370.6h0M1628.4 680.0h0M1350.1 720.7h0M1471.2 877.3h0M1287.2 855.7h0M783.0 483.9h0M1422.3 563.3h0M1391.4 642.8h0M891.3 274.2h0M1447.9 841.1h0M1221.9 410.8h0M1251.5 575.0h0M1052.0 542.2h0M1405.9 503.1h0M1480.3 559.9h0M1483.6 807.7h0M1297.9 570.9h0M1340.0 480.6h0M1254.5 730.5h0M1641.8 666.2h0M1438.5 875.9h0M1063.1 521.7h0M1117.2 654.0h0M833.1 370.9h0M1245.1 798.5h0M1212.5 565.5h0M1178.9 385.5h0M1429.4 706.3h0M1408.2 749.6h0M1342.6 463.8h0M1564.2 697.4h0M1152.9 421.3h0M828.9 280.9h0M1227.3 829.7h0M1153.7 512.1h0M1697.1 676.1h0M1184.1 457.7h0M1285.1 757.2h0M1238.5 722.2h0M1287.2 486.4h0M1297.9 745.8h0M873.5 267.9h0M1311.6 440.5h0M629.8 401.1h0M1119.5 602.2h0M1261.5 723.7h0M1235.9 532.8h0M1186.6 395.3h0M967.7 253.4h0M1110.3 400.9h0M1560.0 684.3h0M1113.0 396.4h0M1139.3 659.6h0M834.5 262.9h0M854.6 394.8h0M1502.1 717.7h0M1538.6 735.4h0M1250.6 747.2h0M899.3 287.9h0M1363.7 566.0h0M1343.7 454.4h0M1085.1 357.6h0M1176.8 406.0h0M1361.2 650.3h0M1337.3 530.7h0M1521.0 459.8h0M1229.8 441.0h0M1304.9 773.4h0M1300.6 560.6h0M795.2 297.9h0M1403.1 503.4h0M1461.0 839.3h0M1360.9 527.3h0M816.2 264.2h0M803.1 283.7h0M1563.5 726.4h0M1268.3 551.9h0M916.2 270.6h0M1125.0 660.0h0M1272.9 437.3h0M1471.7 833.4h0M1218.4 730.4h0M1461.5 880.0h0M933.2 323.5h0M795.5 458.3h0M1652.3 597.8h0M1234.5 834.5h0M1373.1 630.0h0M858.0 275.3h0M861.0 260.6h0M1107.2 398.5h0M1102.5 553.8h0M664.9 417.4h0M1014.9 290.7h0M918.3 237.3h0M1417.4 664.7h0M1121.9 395.5h0M1651.6 642.1h0M1238.6 424.2h0M1135.5 424.8h0M1520.5 713.3h0M1356.2 557.3h0M838.8 381.8h0M630.3 404.8h0M1215.5 704.1h0M1412.4 673.9h0M1082.7 609.5h0M1144.1 432.8h0M1430.9 876.0h0M1280.1 545.4h0M643.9 443.9h0M1510.1 698.9h0M1537.2 742.0h0M1689.7 682.1h0M1187.0 389.7h0M1303.5 449.5h0M1279.1 761.1h0M1384.2 605.3h0M1116.6 367.2h0M1293.5 605.2h0M1020.9 280.4h0M1192.9 634.7h0M1244.8 572.3h0M867.4 515.3h0M1383.3 599.3h0M854.3 470.5h0M1215.7 684.2h0M864.7 279.7h0M1303.6 457.1h0M874.6 262.4h0M1424.0 566.0h0M806.3 363.8h0M1337.0 445.8h0M1439.0 886.8h0M802.6 279.3h0M1414.0 568.4h0M1689.2 670.5h0M1435.5 826.7h0M1197.7 406.6h0M1267.1 606.9h0M1267.1 511.0h0M1507.6 717.1h0M1278.9 516.9h0M1268.8 841.1h0M908.0 334.2h0M1677.9 672.3h0M841.4 479.8h0M1167.3 672.4h0M1254.3 821.2h0M853.6 329.3h0M1632.3 700.0h0M921.6 224.6h0M1267.8 422.9h0M1439.3 832.2h0M1484.8 816.2h0M888.6 333.2h0M1165.2 613.4h0M1272.6 455.7h0M1218.4 631.7h0M1453.5 833.0h0M1089.7 447.5h0M1210.8 815.3h0M1131.0 383.0h0M1195.8 370.1h0M1211.6 663.7h0M1111.7 414.8h0M1264.9 829.4h0M1536.2 711.6h0M1224.6 490.3h0M847.8 469.6h0M1259.5 596.4h0M910.1 261.4h0M1201.3 534.6h0M1472.7 850.0h0M1541.2 548.2h0M847.5 222.1h0M1188.7 653.2h0M840.6 290.2h0M1433.6 460.3h0M1254.6 464.2h0M1087.2 594.7h0M1483.5 822.9h0M1386.6 478.5h0M1571.3 716.7h0M851.7 233.8h0M1431.4 854.3h0M677.1 475.9h0M849.1 286.5h0M1135.2 362.2h0M809.4 235.9h0M936.1 288.9h0M717.1 463.4h0M1392.8 548.8h0M922.2 320.6h0M774.7 278.4h0M1111.3 1137.5h0M1519.3 878.2h0M1354.0 535.5h0M1286.3 367.5h0M1132.2 474.8h0M1330.4 487.4h0M1434.1 472.9h0M1674.4 689.0h0M1125.3 471.8h0M1494.9 478.0h0M1176.6 416.1h0M1439.3 399.3h0M1576.1 698.0h0M1201.6 696.6h0M1175.9 537.2h0M960.6 264.2h0M1392.4 566.0h0M1072.4 495.8h0M1404.5 850.9h0M856.8 477.1h0M887.9 227.5h0M1267.8 731.5h0M863.8 402.9h0M1683.4 605.5h0M1043.9 537.2h0M874.6 291.6h0M1324.9 512.8h0M1388.5 687.0h0M1351.0 565.4h0M819.8 284.7h0M1268.4 375.2h0M1158.9 463.7h0M1128.2 598.5h0M1118.5 532.6h0M1426.7 848.5h0M1662.0 619.9h0M1053.0 588.1h0M1194.1 453.5h0M1377.5 551.9h0M1091.8 443.8h0M788.6 342.9h0M1294.4 456.3h0M1181.7 759.8h0M1441.4 812.6h0M929.7 274.0h0M1356.5 734.5h0M824.1 250.5h0M847.0 270.0h0M809.6 289.9h0M1147.2 578.8h0M947.1 306.9h0M1310.9 479.2h0M1232.3 384.5h0M917.7 269.6h0M923.7 274.4h0M1285.8 490.7h0M1235.5 465.4h0M678.5 387.5h0M1336.8 700.2h0M1346.3 460.6h0M765.3 291.1h0M1332.6 637.1h0M1384.0 548.4h0M1277.3 404.1h0M1459.1 446.2h0M1403.1 533.7h0M1475.2 563.8h0M868.1 396.0h0M1510.3 519.9h0M1487.6 439.0h0M1071.0 561.1h0M1533.4 526.8h0M1245.2 488.7h0M1329.6 565.3h0M1252.6 785.4h0M1149.2 627.1h0M1206.8 705.0h0M1229.7 423.0h0M1200.7 608.1h0M1670.9 686.0h0M812.9 431.2h0M1245.0 775.8h0M1515.4 515.0h0M1328.4 582.4h0M1073.3 489.3h0M1231.8 389.4h0M1127.6 398.0h0M1160.6 562.7h0M1173.6 645.9h0M862.2 495.6h0M1380.4 517.7h0M837.4 484.3h0M1118.6 396.8h0M1287.4 455.7h0M1669.0 649.3h0M1184.8 833.1h0M1267.6 535.2h0M1414.8 554.7h0M1231.0 593.4h0M1139.2 592.2h0M1070.2 397.0h0M856.0 470.3h0M1114.4 509.7h0M1275.4 808.6h0M1280.3 537.8h0M1641.8 677.5h0M1104.2 418.3h0M1221.5 593.1h0M1044.5 577.5h0M765.2 261.3h0M1292.2 736.1h0M1198.3 642.9h0M1150.9 566.3h0M1428.5 875.6h0M1092.6 488.2h0M1318.3 458.8h0M1616.0 707.6h0M1656.2 709.3h0M873.6 385.6h0M1359.1 553.7h0M1114.6 528.9h0M1042.4 1170.5h0M1196.5 646.2h0M1027.1 530.2h0M1158.4 421.1h0M1419.9 523.3h0M1177.6 579.9h0M1147.5 439.9h0M805.3 507.9h0M934.3 284.8h0M1504.8 497.5h0M1248.9 759.2h0M880.7 235.8h0M1662.0 698.5h0M1209.1 705.1h0M1316.6 571.4h0M953.2 334.8h0M1386.4 445.0h0M1610.7 682.5h0M1084.5 367.2h0M1193.5 334.1h0M1540.0 535.7h0M828.9 484.8h0M845.7 356.8h0M1515.2 857.4h0M1397.4 594.8h0M1135.7 636.1h0M1509.7 833.4h0M1196.8 787.3h0M1460.1 841.3h0M822.8 277.2h0M1312.6 446.8h0M1099.6 620.7h0M875.0 222.0h0M1221.9 662.4h0M1170.7 758.4h0M874.1 275.3h0M1289.4 485.1h0M1141.6 491.5h0M877.2 317.8h0M1198.3 527.2h0M1091.9 344.7h0M1582.8 711.9h0M1213.8 805.5h0M1159.3 429.8h0M1079.6 390.5h0M1385.3 699.5h0M1407.1 569.3h0M1077.2 396.0h0M849.1 224.1h0M1155.3 480.2h0M1141.1 525.5h0M845.6 340.7h0M1352.0 557.3h0M860.0 324.0h0M945.8 262.1h0M626.8 384.1h0M1060.0 499.8h0M811.7 500.3h0M1218.6 700.8h0M776.8 260.5h0M1363.4 599.2h0M1172.6 665.7h0M974.0 309.9h0M1264.4 514.6h0M1285.0 412.3h0M834.1 289.0h0M1419.7 844.5h0M909.7 222.7h0M1517.3 711.5h0M1098.1 526.9h0M1279.4 510.4h0M1356.3 710.0h0M1430.5 657.6h0M793.4 263.7h0M793.0 452.7h0M1653.0 694.9h0M1241.5 802.6h0M1171.4 563.0h0M1093.0 347.0h0M1139.8 428.3h0M796.8 296.4h0M1310.1 528.1h0M864.3 223.2h0M1147.5 819.8h0M1418.1 472.4h0M1186.8 534.5h0M1075.7 531.4h0M1415.3 529.9h0M628.7 398.6h0M1378.0 539.4h0M1199.4 445.5h0M1407.3 772.7h0M916.1 298.2h0M1102.6 495.2h0M1385.6 582.8h0M1159.5 432.1h0M1455.7 914.2h0M1295.5 574.2h0M1393.3 735.8h0M1172.3 560.3h0M898.1 226.3h0M1550.7 725.9h0M1291.4 494.5h0M1559.1 703.9h0M1448.5 637.3h0M1430.4 491.0h0M1448.2 888.9h0M1624.7 691.8h0M1490.0 434.2h0M1238.2 719.7h0M1248.3 481.6h0M1424.9 534.7h0M1180.6 561.5h0M1406.5 485.3h0M1220.2 610.4h0M1402.9 587.8h0M1525.9 555.8h0M796.4 277.9h0M1607.8 730.3h0M837.6 469.1h0M1607.5 634.9h0M1394.7 527.0h0M1146.4 501.0h0M1485.5 830.1h0M1090.1 536.2h0M1168.0 588.9h0M1480.2 809.6h0M1110.4 519.2h0M744.3 357.9h0M1375.3 515.5h0M1175.2 572.3h0M817.4 269.0h0M892.1 259.7h0M1358.5 681.2h0M1293.5 529.6h0M1065.6 543.8h0M1319.0 502.9h0M1090.7 556.5h0M1249.1 390.1h0M679.0 476.6h0M1351.6 839.8h0M1243.7 440.8h0M1372.5 546.8h0M1159.9 505.0h0M998.8 285.9h0M892.6 310.6h0M1166.6 680.9h0M636.0 457.4h0M1716.2 644.3h0M1159.5 788.0h0M1163.0 341.8h0M878.7 276.5h0M1170.7 349.9h0M833.4 284.3h0M1162.1 365.7h0M1137.6 582.0h0M851.6 296.4h0M1155.9 804.7h0M787.1 288.8h0M1076.8 363.1h0M1145.4 664.3h0M1603.8 644.4h0M1172.9 771.8h0M839.1 348.0h0M971.2 258.6h0M1434.3 449.3h0M1366.5 559.3h0M1387.4 519.0h0M1243.9 528.2h0M1384.2 533.1h0M870.4 316.7h0M976.6 240.2h0M989.9 249.4h0M848.6 250.4h0M1227.7 664.9h0M1308.2 422.3h0M797.9 279.4h0M869.4 359.0h0M1456.5 910.7h0M1449.6 832.2h0M1087.2 340.2h0M1181.7 627.3h0M1069.5 404.6h0M778.9 474.2h0M1161.0 574.6h0M1361.7 578.6h0M1261.5 427.7h0M1036.4 527.5h0M1462.5 430.5h0M1399.6 618.8h0M1328.5 523.0h0M1137.3 650.9h0M1154.7 461.7h0M1263.8 541.7h0M1514.9 503.6h0M1135.4 412.7h0M1482.2 798.3h0M810.6 242.5h0M1186.8 584.7h0M1375.4 679.5h0M854.5 230.4h0M744.9 451.3h0M677.9 486.9h0M937.9 358.0h0M1445.3 765.3h0M871.8 515.7h0M1036.0 301.2h0M1037.5 336.5h0M814.9 520.4h0M597.8 718.2h0M1445.4 764.8h0M1548.9 574.6h0M952.4 344.2h0M1035.2 355.7h0M1034.5 354.9h0M437.0 562.8h0M841.0 273.1h0M1062.5 505.6h0M939.3 232.8h0M1298.2 508.1h0M1209.9 565.3h0M1340.7 461.7h0M1045.7 579.5h0M1649.7 696.9h0M1275.5 793.1h0M1240.5 631.5h0M1179.8 396.2h0M1174.4 577.4h0M1415.9 552.6h0M1494.4 516.1h0M1187.5 449.0h0M802.7 477.9h0M681.3 419.2h0M1661.2 659.0h0M1176.5 663.2h0M985.9 241.6h0M786.8 291.7h0M1205.3 548.3h0M1122.6 571.6h0M1424.7 697.4h0M1543.7 711.3h0M1658.6 631.0h0M1399.7 568.4h0M948.5 283.9h0M1294.7 716.3h0M838.2 514.2h0M1459.7 426.7h0M1145.3 599.6h0M1443.9 892.2h0M1044.4 532.8h0M1434.2 564.3h0M834.5 466.3h0M799.8 452.9h0M855.1 487.4h0M1314.8 752.2h0M1425.5 548.6h0M1207.1 372.0h0M855.7 281.2h0M1243.5 510.0h0M1256.0 707.3h0M1265.1 852.1h0M611.6 390.9h0M1190.9 456.9h0M1602.6 713.7h0M912.6 257.7h0M1676.2 705.4h0M1413.6 507.2h0M1081.4 398.8h0M1381.1 711.6h0M1148.5 571.7h0M880.2 321.4h0M1294.7 498.2h0M1376.7 692.7h0M1204.1 766.4h0M1155.4 579.7h0M1173.1 628.8h0M1198.5 606.2h0M679.3 416.7h0M1645.9 633.2h0M880.1 506.2h0M1114.8 361.1h0M1161.9 607.2h0M1482.8 811.9h0M1140.2 606.7h0M953.7 234.4h0M1396.1 774.9h0M954.0 312.3h0M1221.9 698.8h0M1249.9 411.3h0M1158.7 393.1h0M1148.8 544.2h0M1186.9 527.3h0M1611.7 693.2h0M866.8 323.8h0M1198.4 654.5h0M1115.4 626.4h0M623.6 453.2h0M1250.0 670.9h0M799.6 493.4h0M1301.5 506.5h0M1699.2 621.8h0M657.8 435.3h0M1135.1 550.0h0M1443.8 511.1h0M1107.7 606.6h0M1581.3 695.9h0M1368.0 555.3h0M1194.1 642.8h0M1176.1 630.7h0M1110.0 581.0h0M1326.8 417.0h0M1148.1 445.1h0M1223.0 370.4h0M1182.2 667.4h0M894.6 249.3h0M1284.8 798.0h0M1468.9 848.6h0M1201.0 468.5h0M1091.8 512.9h0M955.8 287.0h0M1397.2 698.2h0M1299.6 482.2h0M1418.3 540.3h0M801.6 239.8h0M1301.3 606.5h0M1513.1 880.9h0M1381.9 706.7h0M1052.7 539.7h0M1667.7 711.4h0M847.3 480.8h0M1257.3 548.1h0M1147.0 382.1h0M832.3 384.1h0M1309.8 601.4h0M1084.9 395.6h0M1377.1 697.8h0M1168.7 560.0h0M1418.5 468.7h0M1277.3 487.3h0M1524.6 899.9h0M821.7 497.8h0M1280.0 559.9h0M1327.4 496.2h0M1688.9 651.4h0M1304.1 407.5h0M1228.2 442.4h0M1418.4 783.2h0M1379.0 708.4h0M1395.3 571.4h0M1315.7 547.0h0M1303.8 594.2h0M1068.8 609.6h0M1162.1 754.0h0M1482.5 936.6h0M1165.9 773.6h0M1380.6 543.8h0M1457.1 896.8h0M1432.7 414.0h0M1342.5 597.8h0M1110.4 553.6h0M1334.3 531.2h0M1682.6 628.9h0M1452.5 397.1h0M823.4 379.7h0M1094.4 597.2h0M1115.1 521.1h0M1276.2 822.7h0M1138.6 647.5h0M1171.0 619.9h0M695.3 470.0h0M1663.8 662.9h0M1131.8 399.6h0M1242.5 583.1h0M1417.0 601.8h0M1263.0 688.3h0M878.7 260.2h0M1214.8 767.7h0M865.5 350.9h0M918.7 267.8h0M1202.5 416.4h0M892.4 281.8h0M1219.5 656.6h0M1282.9 738.5h0M790.9 445.0h0M1298.0 499.5h0M1396.5 553.6h0M1368.6 512.5h0M1079.6 395.8h0M910.7 254.9h0M1541.7 736.1h0M1704.0 660.0h0M1306.6 543.4h0M874.8 229.5h0M1106.1 451.5h0M923.2 329.0h0M1196.3 428.8h0M1534.9 697.9h0M1253.4 751.4h0M871.8 245.4h0M1393.4 596.1h0M876.4 332.5h0M1220.3 703.2h0M1378.7 606.4h0M1154.1 368.1h0M1399.2 493.1h0M900.3 246.7h0M881.7 308.6h0M934.7 247.5h0M1477.2 440.3h0M1201.2 433.2h0M847.9 318.6h0M858.2 401.2h0M1266.4 495.0h0M1121.1 568.3h0M1352.1 632.6h0M1174.7 453.8h0M954.7 329.3h0M1199.5 433.6h0M1289.2 435.4h0M1689.1 702.4h0M1161.3 597.7h0M1075.9 590.1h0M1386.7 495.3h0M1193.9 401.6h0M963.9 269.8h0M820.6 303.0h0M1322.3 710.1h0M1430.2 703.8h0M1243.6 513.4h0M1255.2 686.9h0M1112.1 402.9h0M1234.4 586.1h0M1303.9 434.6h0M1290.2 526.7h0M1152.4 520.7h0M1437.0 540.9h0M1341.4 498.8h0M1377.1 732.9h0M1432.3 489.9h0M1634.1 703.7h0M1289.4 398.0h0M1303.5 571.3h0M1428.5 492.7h0M1356.6 479.4h0M1190.5 607.9h0M1118.8 602.7h0M1281.0 815.5h0M828.1 358.0h0M1462.4 901.5h0M1443.2 503.2h0M1308.6 517.3h0M1463.4 582.5h0M1397.5 722.4h0M1277.1 802.4h0M1653.8 661.9h0M1432.5 667.4h0M1306.7 524.5h0M1111.6 573.5h0M1256.2 434.6h0M1336.5 728.0h0M1242.9 808.7h0M1550.3 740.2h0M1282.1 501.8h0M1219.5 540.5h0M1384.8 624.0h0M938.0 239.2h0M1115.9 448.6h0M1097.7 336.0h0M1193.2 552.0h0M1102.5 486.3h0M1138.9 657.7h0M1664.9 642.1h0M1090.3 1162.1h0M1316.5 465.4h0M736.4 360.8h0M916.5 330.6h0M1429.7 814.8h0M1550.6 718.3h0M1285.0 383.0h0M1154.0 365.5h0M1222.4 567.0h0M1345.0 568.1h0M1656.2 614.3h0M1313.4 550.9h0M1379.8 717.3h0M1186.9 609.6h0M1356.7 474.0h0M1383.9 629.8h0M1186.7 457.7h0M943.9 258.1h0M1445.3 555.9h0M1214.8 658.6h0M1199.2 688.9h0M1191.5 459.6h0M1562.6 657.5h0M1629.3 724.4h0M1126.9 583.6h0M898.6 268.6h0M1670.0 682.8h0M1260.1 381.9h0M1217.8 409.9h0M1302.0 413.4h0M1251.5 537.7h0M1513.4 476.7h0M985.0 237.0h0M1341.2 575.7h0M834.8 505.8h0M1081.7 401.9h0M1077.9 554.2h0M1355.0 629.7h0M1244.5 779.8h0M1301.5 484.7h0M1316.3 631.0h0M956.5 264.2h0M1240.2 478.2h0M1558.9 735.5h0M883.7 267.4h0M832.3 254.5h0M1239.6 472.8h0M1307.7 554.9h0M1335.5 457.9h0M1395.2 597.3h0M1109.2 496.3h0M932.8 266.3h0M1384.2 561.0h0M820.0 451.2h0M1162.9 442.3h0M942.5 278.8h0M1255.5 700.1h0M1402.2 512.7h0M669.6 460.1h0M1393.0 638.3h0M826.0 346.0h0M623.6 402.6h0M1135.7 563.7h0M1175.3 803.6h0M1377.8 529.8h0M1467.4 415.6h0M862.9 300.5h0M1404.9 487.8h0M1331.5 503.4h0M1198.3 842.3h0M1230.2 475.5h0M1463.9 872.6h0M1209.8 685.4h0M1551.7 731.7h0M1474.0 438.5h0M1521.3 893.9h0M1276.8 709.5h0M1421.5 804.2h0M886.8 313.5h0M1455.7 487.5h0M807.4 239.9h0M1477.8 601.4h0M621.5 404.9h0M1714.4 663.1h0M1254.8 783.1h0M1420.2 489.2h0M1467.8 536.5h0M1105.3 494.9h0M1231.7 417.6h0M942.2 282.8h0M1645.0 650.3h0M1663.5 678.3h0M1089.3 631.3h0M1256.4 513.3h0M1673.8 679.3h0M621.8 392.1h0M1151.6 508.6h0M790.8 259.5h0M1205.5 431.5h0M1682.6 637.7h0M1074.6 406.8h0M1157.6 596.0h0M1099.5 442.4h0M1441.8 556.2h0M1078.3 617.4h0M851.0 272.1h0M1312.9 476.7h0M644.7 396.3h0M1273.0 534.0h0M1082.8 354.6h0M838.4 285.4h0M917.1 261.0h0M1085.0 562.4h0M1255.2 530.9h0M1421.0 600.8h0M1217.8 669.7h0M1279.9 492.7h0M1448.5 835.7h0M1193.5 460.9h0M1227.5 764.0h0M1181.7 510.6h0M822.8 501.7h0M1222.2 341.0h0M1696.8 692.4h0M1167.3 514.8h0M1262.1 489.4h0M1162.1 796.1h0M996.9 246.2h0M1397.9 696.2h0M1211.4 578.1h0M627.3 413.4h0M1070.4 370.7h0M804.9 468.6h0M645.7 457.1h0M1101.0 498.6h0M1118.5 553.0h0M878.0 404.3h0M1284.5 461.3h0M1129.3 529.9h0M1392.2 574.3h0M887.4 325.2h0M1357.5 469.2h0M1299.6 422.9h0M1220.1 695.5h0M1212.6 414.2h0M1236.7 529.6h0M1060.8 557.7h0M1266.1 473.3h0M1185.4 448.8h0M1647.1 679.7h0M1486.4 467.2h0M1192.6 808.0h0M1333.1 589.1h0M831.3 455.6h0M651.6 436.8h0M821.4 276.3h0M1280.5 604.3h0M1698.9 619.3h0M1341.8 517.9h0M830.6 304.2h0M1121.8 369.1h0M1455.6 597.4h0M924.8 255.1h0M1093.7 372.8h0M1477.0 454.3h0M1470.8 534.6h0M1160.6 358.2h0M829.9 466.0h0M1266.3 841.1h0M1493.4 504.1h0M1196.9 367.7h0M1490.7 931.3h0M1276.6 721.7h0M861.6 348.9h0M1287.0 808.3h0M1088.8 486.9h0"/>
<path stroke="#9e2f7f" d="M884.9 315.6h0M845.9 457.7h0M1186.5 519.4h0M1103.4 388.0h0M1167.1 686.8h0M1362.8 676.5h0M1394.5 523.3h0M1534.7 490.9h0M1315.8 416.4h0M922.4 272.8h0M1473.5 903.9h0M1202.9 544.0h0M1439.3 514.7h0M1646.8 650.0h0M1388.6 675.9h0M958.5 289.0h0M939.9 312.5h0M1391.6 735.3h0M1336.1 540.7h0M945.8 246.3h0M1316.4 455.6h0M1294.1 445.0h0M1288.3 509.7h0M1449.3 530.6h0M1243.7 576.9h0M1575.2 719.5h0M1268.5 389.1h0M1384.5 540.9h0M1444.6 497.2h0M1133.2 374.1h0M808.6 255.6h0M1105.2 497.8h0M1359.6 679.4h0M1076.4 572.1h0M1266.2 445.9h0M1072.8 609.8h0M1302.3 515.9h0M781.4 284.5h0M852.7 503.9h0M1301.8 500.4h0M1236.1 343.4h0M1163.5 594.5h0M1306.3 460.4h0M944.0 336.9h0M1275.6 805.8h0M1290.4 372.7h0M796.8 246.6h0M1102.9 560.9h0M1148.1 595.7h0M1668.6 709.6h0M1310.9 493.3h0M1398.1 561.1h0M1281.6 413.1h0M1124.7 598.9h0M834.5 308.9h0M1292.3 503.1h0M1439.3 458.2h0M1162.7 422.0h0M1250.8 416.0h0M843.8 286.2h0M944.1 240.4h0M782.4 442.0h0M1680.4 667.3h0M1148.8 382.5h0M1265.3 827.3h0M1223.2 397.3h0M1182.8 639.5h0M1326.7 496.5h0M1310.8 510.1h0M1182.8 451.2h0M1462.4 886.0h0M1698.5 598.3h0M860.1 285.0h0M1147.0 430.8h0M1335.0 745.4h0M1046.4 1171.0h0M1699.4 681.3h0M879.2 310.9h0M1277.1 371.1h0M779.0 462.8h0M805.5 235.2h0M785.4 446.2h0M1557.2 719.4h0M1230.9 591.8h0M1114.9 374.0h0M1098.6 508.9h0M1473.3 838.2h0M1513.7 714.9h0M1362.2 518.7h0M1391.0 551.4h0M1229.9 627.4h0M1493.1 829.4h0M1282.8 395.1h0M1230.1 514.6h0M778.8 464.9h0M816.8 293.9h0M922.8 337.3h0M1402.2 533.9h0M811.7 462.2h0M1295.0 385.7h0M1082.5 591.4h0M1190.9 649.3h0M622.1 403.2h0M1053.8 596.1h0M1198.0 580.9h0M1435.1 383.6h0M1258.3 447.1h0M1063.7 593.1h0M1105.8 483.6h0M1223.5 741.8h0M1210.2 602.8h0M1056.8 529.1h0M1334.7 451.2h0M1654.8 639.5h0M958.5 323.7h0M1300.6 455.6h0M1439.5 556.7h0M852.6 299.2h0M850.9 370.9h0M927.0 253.1h0M1287.6 597.7h0M1172.9 742.5h0M1557.7 717.4h0M1456.9 814.1h0M1164.7 815.1h0M1189.8 405.8h0M1161.6 677.1h0M1339.2 641.5h0M1319.0 529.9h0M1381.2 561.0h0M817.3 515.3h0M1517.8 494.7h0M1458.3 840.3h0M1137.3 442.1h0M804.0 429.2h0M1187.4 511.3h0M1303.6 600.4h0M1215.2 429.9h0M1065.8 596.0h0M1456.0 851.5h0M668.3 394.9h0M623.6 411.8h0M1435.4 575.3h0M1197.7 537.7h0M1434.5 873.8h0M1176.1 352.2h0M1325.2 522.3h0M1534.0 743.9h0M1547.3 713.8h0M1569.2 730.5h0M1269.4 534.9h0M1271.1 800.1h0M1244.7 558.5h0M1094.9 395.9h0M963.8 240.5h0M872.1 318.4h0M623.1 395.2h0M1162.9 661.6h0M1464.4 894.0h0M1253.8 650.8h0M1268.7 449.5h0M1100.1 401.1h0M1052.3 533.1h0M1564.9 671.7h0M644.1 454.5h0M1542.8 738.7h0M1341.0 452.0h0M1387.5 535.7h0M861.3 241.7h0M1100.9 446.8h0M1228.1 387.9h0M1268.7 587.0h0M859.6 274.0h0M1265.3 419.2h0M911.3 224.3h0M1135.4 657.5h0M1181.4 630.6h0M939.7 299.8h0M1496.5 474.8h0M1446.4 480.7h0M1316.6 748.5h0M1137.3 587.9h0M980.6 291.9h0M1478.6 587.9h0M1231.1 613.8h0M1190.4 340.6h0M1205.4 650.6h0M1146.9 608.9h0M1242.8 359.6h0M1116.4 361.9h0M1099.0 514.1h0M1330.8 603.4h0M1175.9 673.1h0M1494.2 572.1h0M1457.0 836.9h0M1228.9 436.5h0M1372.4 588.0h0M1262.4 501.1h0M1353.1 754.4h0M1074.5 376.0h0M1441.2 436.0h0M1168.2 423.3h0M1683.2 699.9h0M1424.4 534.8h0M1498.8 605.7h0M1673.3 628.0h0M1267.5 853.6h0M885.7 331.5h0M843.8 322.5h0M1372.1 539.8h0M875.5 271.0h0M936.3 274.3h0M1607.3 681.9h0M1159.9 439.5h0M1207.1 813.5h0M835.2 238.0h0M1368.9 604.8h0M1394.0 716.3h0M1272.0 473.2h0M916.0 283.7h0M1258.6 850.4h0M983.8 1118.8h0M769.4 448.2h0M1329.8 433.3h0M1517.6 853.7h0M1413.0 850.2h0M1698.5 653.2h0M1351.1 469.5h0M1535.2 530.3h0M1211.4 593.1h0M1120.4 560.6h0M867.2 283.7h0M1378.3 504.7h0M1261.5 522.3h0M1652.7 653.8h0M1243.6 486.1h0M1627.8 672.6h0M1551.1 687.4h0M1456.0 908.6h0M1516.7 723.6h0M1103.1 638.1h0M1339.8 666.6h0M644.3 377.8h0M856.7 297.7h0M1129.8 351.4h0M1287.4 441.4h0M1598.9 674.8h0M1398.2 638.4h0M871.0 252.4h0M1111.8 509.8h0M1407.4 600.0h0M1353.5 529.4h0M1103.2 354.9h0M1141.4 631.4h0M1487.4 590.6h0M967.0 306.6h0M1175.2 651.2h0M1377.4 617.3h0M1249.2 800.0h0M1210.7 509.2h0M806.7 502.7h0M1198.8 402.8h0M1680.3 700.7h0M1661.4 679.0h0M1112.8 413.5h0M1161.8 349.0h0M1639.8 599.9h0M1149.9 444.3h0M1184.7 579.4h0M1275.8 380.9h0M1158.2 826.1h0M971.6 283.1h0M1302.9 798.8h0M1533.8 524.0h0M1355.2 547.7h0M1266.7 788.0h0M1177.8 813.3h0M1210.8 527.5h0M821.1 244.9h0M1530.0 548.6h0M1427.0 854.0h0M779.3 439.0h0M1318.5 773.0h0M1576.2 732.2h0M1118.6 566.4h0M1081.3 491.7h0M1215.4 690.6h0M1468.5 619.8h0M1348.4 435.7h0M1428.6 607.6h0M1412.4 831.8h0M1445.1 890.0h0M1096.3 383.0h0M1148.4 395.2h0M1057.4 593.7h0M980.4 254.2h0M1414.8 697.8h0M1204.7 693.5h0M941.3 301.0h0M842.6 372.7h0M1104.2 358.5h0M1337.2 447.5h0M1292.2 521.1h0M617.1 383.3h0M1339.9 745.6h0M1164.4 338.1h0M807.3 235.8h0M1321.8 571.6h0M1220.0 424.1h0M914.9 250.9h0M1259.9 647.1h0M1507.2 516.3h0M1199.6 557.4h0M1238.6 487.6h0M1300.9 433.2h0M1207.0 424.5h0M1313.2 593.0h0M1399.2 565.3h0M871.5 283.0h0M1508.5 722.7h0M1219.3 405.8h0M1181.4 370.6h0M1344.4 635.3h0M1475.6 622.0h0M827.3 474.8h0M925.7 227.9h0M846.4 253.3h0M794.5 251.1h0M870.9 290.1h0M1596.0 681.1h0M605.1 724.1h0M1193.0 418.2h0M1512.1 515.2h0M1094.7 576.4h0M1220.4 385.5h0M826.7 293.0h0M1135.7 352.6h0M1609.1 683.6h0M1391.5 572.6h0M1342.3 580.9h0M1385.1 509.3h0M1202.4 420.7h0M941.1 255.2h0M847.3 472.3h0M1141.1 614.9h0M1317.4 509.6h0M1173.2 675.0h0M1154.4 372.6h0M1155.0 673.6h0M1176.1 393.5h0M1211.2 571.5h0M882.8 312.5h0M910.1 352.9h0M947.8 238.7h0M1232.9 568.6h0M1317.5 663.4h0M859.3 223.7h0M1325.6 845.0h0M775.7 452.7h0M834.5 470.0h0M1536.6 538.2h0M1114.5 389.2h0M1400.2 504.3h0M850.0 322.3h0M891.2 296.3h0M1379.9 537.4h0M778.6 273.8h0M1418.3 529.3h0M1538.7 722.6h0M1458.9 831.2h0M880.8 234.0h0M1385.4 517.4h0M1269.8 524.9h0M1107.0 405.0h0M1355.0 507.7h0M1088.8 351.7h0M1130.1 597.7h0M1318.8 463.4h0M779.6 483.7h0M982.3 253.2h0M1174.7 570.0h0M1230.4 700.8h0M1165.4 460.2h0M1158.7 644.7h0M847.2 295.4h0M1159.6 638.1h0M1482.5 425.1h0M824.1 261.0h0M878.5 242.9h0M905.1 302.9h0M1178.1 620.2h0M1234.9 804.2h0M1177.8 591.0h0M1316.7 714.9h0M1333.0 586.2h0M1195.1 524.5h0M1078.1 610.7h0M839.9 362.3h0M1411.0 386.3h0M1081.9 449.8h0M1162.1 345.2h0M1168.1 486.4h0M1662.5 695.8h0M1417.0 576.1h0M1416.4 545.6h0M1687.2 622.0h0M1410.2 522.9h0M1243.4 498.2h0M1453.1 871.1h0M1200.5 453.3h0M1405.5 774.8h0M978.6 309.1h0M1159.4 674.1h0M1382.3 449.8h0M1450.4 516.0h0M1139.1 361.4h0M1225.1 543.1h0M839.3 307.0h0M863.6 262.9h0M1209.3 405.9h0M1688.9 594.0h0M1447.4 868.4h0M1126.2 579.1h0M1388.5 576.3h0M1172.1 790.9h0M1464.4 607.6h0M874.6 277.8h0M805.9 255.2h0M1007.6 291.7h0M1198.4 384.7h0M1150.9 539.0h0M926.6 312.0h0M937.2 246.8h0M948.4 265.0h0M1373.7 531.8h0M1396.8 569.0h0M1157.2 446.1h0M809.0 283.1h0M1385.9 585.4h0M856.0 275.5h0M1229.8 388.7h0M852.7 256.6h0M1095.8 351.6h0M1422.2 852.6h0M1133.4 1194.3h0M846.9 388.5h0M788.9 430.5h0M1467.5 601.1h0M1449.1 618.6h0M1124.0 338.4h0M1186.3 653.0h0M1232.0 816.9h0M1368.5 726.4h0M1062.2 533.1h0M854.4 509.5h0M1063.4 597.0h0M1298.3 766.3h0M1104.1 395.1h0M1511.3 855.7h0M1064.5 505.2h0M1049.8 525.7h0M1307.0 436.9h0M1344.1 547.4h0M1502.1 908.3h0M1242.2 363.5h0M770.2 462.0h0M1077.9 385.9h0M1234.0 678.9h0M1362.3 574.8h0M854.3 316.1h0M930.9 328.4h0M1389.0 551.2h0M1270.1 762.3h0M976.8 248.2h0M1450.6 909.3h0M1239.4 413.0h0M1673.0 626.3h0M1496.5 535.0h0M1571.6 701.9h0M1706.0 595.6h0M1217.9 624.5h0M1208.4 649.5h0M1275.4 386.8h0M1576.1 721.9h0M1438.5 854.5h0M813.4 243.3h0M1448.5 872.0h0M1159.3 370.6h0M1505.1 713.3h0M848.0 362.3h0M1700.2 643.2h0M892.3 399.2h0M1245.6 730.5h0M1239.3 541.8h0M1226.4 546.0h0M1128.3 485.2h0M1165.0 640.5h0M1422.9 688.1h0M939.1 263.8h0M1410.2 645.8h0M858.8 497.9h0M1324.8 630.4h0M867.5 305.9h0M1171.4 637.8h0M1145.0 493.3h0M1184.8 841.1h0M827.7 509.4h0M1594.2 686.2h0M810.7 302.2h0M1238.6 544.8h0M1415.1 487.5h0M1075.2 366.5h0M1170.1 743.9h0M1448.1 625.5h0M1187.2 660.8h0M812.1 487.5h0M1085.3 348.6h0M1202.7 529.7h0M1124.6 340.8h0M1654.4 618.5h0M1292.8 553.8h0M1324.1 506.7h0M1236.8 799.3h0M1156.1 418.3h0M958.8 293.9h0M1491.4 566.1h0M813.8 494.2h0M1203.4 659.7h0M1101.7 418.4h0M1300.1 537.1h0M1558.6 733.8h0M1058.8 590.4h0M1516.3 532.8h0M1289.8 502.8h0M1361.9 521.1h0M1351.5 630.5h0M1282.6 593.6h0M1388.4 757.5h0M1291.6 754.5h0M809.0 299.6h0M1297.5 490.9h0M1093.7 614.3h0M1216.1 424.6h0M1364.1 467.2h0M1127.7 636.5h0M1222.5 576.2h0M1111.8 384.2h0M1513.8 869.3h0M1183.9 441.5h0M1512.5 503.4h0M1167.5 561.9h0M1191.4 404.0h0M887.5 329.4h0M1454.8 815.3h0M1139.5 374.8h0M1387.2 588.9h0M916.8 290.9h0M1390.3 704.6h0M1629.4 718.8h0M801.2 422.2h0M1355.5 523.6h0M785.3 260.1h0M1320.2 516.4h0M874.6 310.8h0M1186.8 784.7h0M1273.8 420.7h0M883.0 300.8h0M1271.3 391.6h0M1318.5 404.5h0M1526.3 580.9h0M1174.1 559.5h0M1108.1 389.7h0M1313.7 634.3h0M1336.5 540.2h0M1330.6 457.6h0M1170.0 647.0h0M865.5 341.2h0M872.4 263.1h0M1225.2 528.8h0M1700.6 619.3h0M1524.3 704.4h0M1240.2 403.9h0M1080.7 437.1h0M819.2 433.4h0M1163.4 648.4h0M842.1 303.1h0M1081.3 357.5h0M1639.7 672.3h0M1128.6 415.0h0M1213.9 361.3h0M1391.0 586.5h0M1075.6 500.4h0M1517.3 850.4h0M1424.1 798.7h0M1393.2 519.6h0M1497.4 430.5h0M1410.0 557.0h0M1042.6 521.0h0M1152.4 448.0h0M1572.0 715.1h0M804.9 478.8h0M1395.1 513.3h0M1624.7 690.1h0M952.6 312.9h0M1365.1 704.6h0M895.2 252.7h0M1349.0 654.9h0M1642.4 682.3h0M1402.7 741.8h0M791.5 243.8h0M1157.8 648.5h0M1638.4 625.6h0M1424.4 745.6h0M1266.1 574.5h0M777.7 476.0h0M1084.9 515.2h0M1642.0 647.3h0M813.4 507.3h0M641.0 446.3h0M854.0 353.3h0M1028.8 522.8h0M1517.8 507.2h0M1378.4 577.2h0M888.8 399.1h0M1270.2 600.4h0M1136.6 602.5h0M1182.1 444.0h0M1202.0 569.5h0M1373.2 641.9h0M1650.1 669.9h0M1520.0 717.8h0M851.8 477.6h0M1228.6 510.4h0M1259.5 786.8h0M1330.9 709.6h0M1392.1 720.3h0M1155.3 764.9h0M1224.4 600.6h0M1167.7 618.8h0M1549.5 719.7h0M1113.5 340.3h0M1201.3 400.6h0M1494.9 592.6h0M1399.6 554.0h0M638.9 378.6h0M947.3 272.8h0M660.6 442.3h0M1457.1 607.9h0M1393.0 674.6h0M1084.3 376.6h0M1355.4 557.8h0M1213.9 525.7h0M787.5 452.2h0M1345.8 486.1h0M1312.9 621.4h0M1426.8 623.2h0M1682.2 710.5h0M1148.5 621.5h0M1366.7 529.8h0M1367.2 640.8h0M1267.0 382.9h0M1460.1 793.4h0M1313.5 562.9h0M1406.8 726.7h0M1222.8 798.7h0M953.9 242.4h0M967.8 316.1h0M1419.7 749.0h0M1593.6 690.5h0M1190.7 411.0h0M911.0 305.0h0M1229.4 426.0h0M1222.3 468.3h0M1088.6 373.0h0M852.6 230.8h0M1360.3 451.5h0M1265.3 387.9h0M1474.0 800.1h0M802.3 513.0h0M1357.8 594.9h0M1315.2 491.3h0M1208.8 371.8h0M1128.3 661.6h0M1120.2 651.7h0M1241.0 517.0h0M1169.4 358.2h0M1394.3 649.8h0M1156.8 607.0h0M1387.0 746.4h0M1413.2 531.0h0M1190.9 382.6h0M877.2 254.1h0M1305.7 474.1h0M1405.1 524.0h0M1372.4 474.7h0M862.3 290.6h0M1389.9 523.7h0M1178.8 592.5h0M1577.6 734.5h0M1223.2 584.5h0M1244.5 483.2h0M1156.5 642.2h0M1454.8 418.4h0M646.1 440.5h0M1404.0 526.4h0M893.2 224.1h0M1302.6 611.7h0M1238.4 450.6h0M1125.6 500.0h0M1479.1 820.6h0M1290.2 782.4h0M816.8 505.4h0M886.9 395.0h0M945.1 229.8h0M1296.8 483.9h0M1121.4 539.3h0M1457.7 577.7h0M1162.2 786.9h0M1409.2 541.4h0M1187.6 562.8h0M825.3 310.3h0M866.4 299.3h0M1150.5 384.7h0M1240.6 389.0h0M857.6 245.0h0M1666.6 672.5h0M1124.5 531.8h0M1488.3 877.4h0M1093.8 629.9h0M1241.5 780.3h0M1298.5 504.7h0M1147.5 584.6h0M1481.3 800.5h0M1262.0 431.9h0M1093.4 433.3h0M1104.0 374.5h0M1240.7 607.0h0M1446.3 528.6h0M1176.1 823.3h0M1163.8 379.9h0M1140.7 358.7h0M909.2 295.1h0M635.7 377.6h0M1360.7 551.2h0M1297.4 560.7h0M1412.5 527.0h0M1456.7 856.8h0M868.8 287.0h0M1458.3 595.7h0M1189.7 759.7h0M670.6 395.8h0M1187.5 780.1h0M1440.4 816.4h0M1382.6 592.7h0M1280.1 519.1h0M1371.0 669.2h0M1656.7 641.8h0M1713.6 652.0h0M1237.7 692.3h0M1169.9 585.4h0M1276.4 471.7h0M931.1 277.8h0M1532.5 703.0h0M1114.7 635.7h0M1361.8 546.2h0M1397.7 511.9h0"/>
<path stroke="#a6317d" d="M1562.0 692.9h0M1495.6 447.1h0M1439.7 679.8h0M1155.3 662.3h0M1558.9 697.7h0M1651.0 694.8h0M1275.7 680.1h0M1628.9 683.3h0M1464.5 852.2h0M871.5 250.1h0M1350.6 569.6h0M1233.1 787.2h0M1505.4 541.6h0M800.6 278.7h0M1303.6 490.8h0M1527.0 574.8h0M633.9 387.2h0M1444.1 398.3h0M1430.9 829.8h0M1281.9 440.2h0M915.4 313.0h0M826.6 281.9h0M1129.1 584.5h0M1129.9 644.2h0M813.3 513.1h0M1584.1 685.9h0M799.5 313.2h0M830.2 314.6h0M1292.8 545.3h0M1196.9 452.8h0M650.2 445.8h0M1152.0 390.1h0M1593.2 695.7h0M1238.3 482.6h0M908.2 311.3h0M1178.9 543.6h0M1305.7 763.4h0M1163.9 538.4h0M1217.1 340.8h0M1294.4 538.5h0M842.8 311.8h0M1483.1 912.1h0M831.8 257.8h0M1433.0 565.4h0M1340.2 800.6h0M1245.5 771.7h0M849.0 480.0h0M904.4 239.3h0M1090.1 361.6h0M1240.8 807.5h0M953.2 237.0h0M1165.6 457.2h0M1318.0 563.4h0M1050.7 548.6h0M1081.8 393.4h0M1103.6 564.4h0M1430.8 842.4h0M1399.0 573.3h0M815.6 460.9h0M823.4 236.9h0M1717.4 672.7h0M1324.3 733.3h0M908.0 273.4h0M1378.0 767.3h0M793.4 432.8h0M852.5 500.5h0M843.7 468.4h0M829.6 501.9h0M1389.1 546.5h0M1514.4 487.9h0M1403.0 541.6h0M1190.5 354.3h0M1141.5 466.2h0M1273.4 499.0h0M1092.1 564.2h0M1442.9 615.1h0M1470.6 437.1h0M1566.6 737.7h0M1183.7 637.6h0M1429.9 804.1h0M1314.4 455.6h0M1336.3 487.4h0M1131.2 552.9h0M1087.5 620.0h0M798.6 239.1h0M1365.2 711.3h0M1264.9 780.5h0M1178.7 364.1h0M1268.1 540.8h0M1415.1 766.9h0M1238.5 452.3h0M1079.6 545.5h0M867.3 241.5h0M885.3 403.6h0M1454.7 560.1h0M1484.2 452.0h0M1682.1 625.2h0M1277.8 628.5h0M907.6 290.1h0M843.9 476.0h0M1192.2 449.7h0M1414.6 683.4h0M922.0 333.5h0M1119.8 585.0h0M878.4 509.2h0M1254.7 386.6h0M938.5 261.2h0M1416.6 523.3h0M853.3 490.8h0M1411.9 542.2h0M1152.2 411.9h0M1168.2 476.5h0M1505.9 902.6h0M1086.6 583.9h0M1145.5 416.8h0M835.7 233.6h0M1139.3 577.4h0M1342.9 636.0h0M1353.8 584.8h0M1516.4 482.5h0M1229.8 363.3h0M1336.4 580.3h0M1239.3 374.5h0M1696.5 637.8h0M1306.3 807.5h0M1181.7 463.9h0M870.1 222.1h0M1360.8 519.7h0M1422.1 530.6h0M1518.3 848.8h0M1068.1 505.3h0M1264.1 719.4h0M1601.0 731.4h0M1179.1 643.8h0M1194.9 803.8h0M806.1 296.0h0M870.4 504.8h0M1279.7 538.3h0M831.8 243.9h0M1177.4 744.0h0M1239.1 454.2h0M924.5 321.6h0M1473.3 509.1h0M776.0 442.7h0M841.3 505.6h0M1141.9 360.8h0M1119.5 506.3h0M1257.1 845.8h0M1469.7 826.1h0M1157.9 562.8h0M770.5 445.4h0M1501.7 456.0h0M1564.4 740.3h0M1223.6 683.3h0M905.1 250.2h0M1199.7 635.2h0M1220.8 671.5h0M813.7 291.7h0M1344.2 469.5h0M788.2 299.3h0M1141.4 518.0h0M1210.0 640.4h0M1099.8 426.9h0M1223.4 464.2h0M875.5 338.2h0M1208.3 516.7h0M1072.4 566.1h0M1113.3 516.4h0M1140.0 662.7h0M1025.6 548.0h0M1478.2 452.5h0M853.1 262.2h0M1087.9 540.4h0M1290.7 514.3h0M1168.7 815.5h0M1258.2 490.5h0M1449.9 579.6h0M1398.7 488.5h0M768.7 299.3h0M840.8 257.8h0M1227.6 695.6h0M867.7 260.6h0M1383.7 550.8h0M1165.4 807.4h0"/>
<path stroke="#ae347b" d="M839.3 263.5h0M1605.4 724.1h0M1267.4 714.4h0M1381.6 632.3h0M1089.1 593.2h0M820.8 438.7h0M817.4 437.4h0M857.6 291.4h0M882.4 507.9h0M1213.0 546.5h0M900.1 308.6h0M1101.0 532.8h0M1190.6 614.5h0M1357.6 543.1h0M1130.6 655.1h0M1471.0 564.0h0M1494.2 497.9h0M1419.1 462.1h0M1072.1 360.3h0M968.6 269.0h0M1653.3 634.8h0M879.7 299.2h0M1664.2 644.0h0M1315.8 600.6h0M1131.6 653.2h0M1173.7 406.4h0M1461.7 548.2h0M1240.2 623.0h0M1290.3 609.3h0M1689.3 639.2h0M1374.1 603.0h0M864.7 251.1h0M1325.9 525.8h0M901.2 318.4h0M889.2 255.5h0M953.7 284.0h0M1341.2 743.2h0M1139.7 640.1h0M1548.7 745.1h0M1275.8 708.1h0M1371.8 503.0h0M1251.5 546.8h0"/>
<path stroke="#b73779" d="M809.2 238.3h0M1253.8 381.4h0M680.2 390.7h0M1227.5 569.3h0M1184.4 790.2h0M1366.1 513.7h0M804.2 273.4h0M842.3 463.0h0M645.5 444.1h0M1162.2 766.2h0M1072.8 580.6h0M818.5 305.9h0M1268.1 602.8h0M1099.2 491.6h0M1098.3 415.2h0M1223.7 615.0h0M1400.0 549.3h0M1039.6 550.7h0M1134.4 670.0h0M1202.6 684.5h0M885.0 511.3h0M1523.0 572.1h0M1164.9 579.0h0M1348.1 490.5h0M663.9 455.9h0M1133.1 640.5h0M1353.0 529.2h0M1125.5 607.5h0M1065.5 486.2h0M1627.2 681.2h0M886.6 233.7h0M1438.7 850.2h0M1349.8 592.1h0M1250.9 530.7h0M1104.7 651.5h0M812.8 287.1h0M899.9 317.4h0M1129.5 442.9h0M1241.0 378.4h0M1403.9 750.0h0M1159.9 347.1h0M889.3 328.0h0M1446.3 552.5h0M786.1 249.4h0M1639.4 657.1h0M1313.3 525.4h0M1147.9 619.4h0M1119.2 513.5h0M1333.7 491.6h0M1487.4 826.1h0M1451.1 891.6h0M1399.5 618.0h0M1177.6 517.7h0M821.3 440.3h0M1208.6 810.9h0M877.8 300.9h0M1263.3 609.1h0M837.2 298.1h0M1133.9 415.0h0M1414.7 505.6h0M1116.3 558.2h0M1422.6 791.9h0M1300.4 633.5h0M973.8 262.3h0M1183.9 618.0h0M1555.1 703.1h0M1200.2 378.7h0M1028.3 528.9h0M1476.3 474.8h0M1315.3 557.3h0M847.8 292.4h0M620.6 401.1h0M1427.2 859.0h0M1127.3 363.7h0M1240.0 551.1h0M1169.4 399.7h0M1089.3 382.9h0M1089.3 389.9h0M1290.9 475.9h0M1120.7 579.7h0M1159.3 811.7h0M841.3 267.2h0M1269.6 563.4h0M1364.3 457.2h0M1007.3 1145.7h0M789.5 285.4h0M1261.5 426.0h0M1209.5 694.2h0M817.0 483.0h0M905.3 296.8h0M1264.7 460.0h0M1514.0 889.1h0M1404.3 699.3h0M1134.6 366.0h0M1607.9 732.7h0M1279.3 415.0h0M1111.5 370.8h0M1098.9 402.5h0M1185.0 393.3h0M830.8 504.1h0M1662.2 675.3h0M897.6 284.4h0M1236.1 487.8h0M831.9 237.6h0M1263.6 412.3h0M1197.0 839.0h0M1298.5 743.8h0M1288.5 809.3h0M1281.3 535.4h0M1428.7 593.9h0M1378.5 700.4h0M783.1 493.2h0M1477.6 807.9h0M1082.9 339.8h0M1646.3 643.7h0M1420.7 758.7h0M886.7 225.3h0M1133.9 381.7h0M1254.0 598.8h0M883.5 254.4h0M1131.3 340.9h0M1307.3 415.1h0M1215.8 780.3h0M1240.1 675.3h0M1241.6 532.4h0M1417.4 823.7h0M1231.8 771.6h0M1249.2 738.0h0M1320.9 405.3h0M1076.0 520.0h0M1645.1 625.1h0"/>
<path stroke="#bf3a77" d="M1370.9 457.9h0M1111.9 508.0h0M892.8 240.5h0M682.0 410.0h0M1133.0 583.6h0M1675.7 659.4h0M1094.3 571.9h0M1396.9 523.2h0M855.0 505.8h0M1314.3 707.5h0M902.8 331.8h0M1277.0 769.8h0M1357.4 490.4h0M1119.3 450.8h0M943.9 268.5h0M1416.2 586.1h0M1711.9 651.0h0M760.8 283.9h0M1090.0 506.2h0M1402.7 484.5h0M1353.4 582.9h0M1086.5 576.2h0M1421.3 813.6h0M1303.6 429.4h0M1042.1 537.8h0M1186.0 666.9h0M1409.1 520.2h0M1152.2 666.7h0M1126.6 618.2h0M821.0 259.6h0M1529.2 737.0h0M1239.4 525.1h0M1184.7 552.5h0M1461.2 803.7h0M1211.0 564.0h0M1159.2 550.2h0M824.0 306.4h0M1128.3 656.0h0M678.3 414.5h0M1213.0 419.6h0M1629.5 659.1h0M1115.1 393.4h0M1192.3 539.5h0M1617.4 726.9h0M878.7 398.7h0M1207.6 769.2h0M1443.2 850.2h0M1203.9 615.0h0M1521.0 836.5h0M1099.5 548.5h0M1194.0 544.5h0M1199.6 855.2h0M902.5 329.6h0M1263.2 763.4h0M1137.2 663.0h0M1477.3 912.3h0M959.4 329.6h0M1219.3 367.8h0M1329.9 482.5h0M1147.2 473.3h0M1262.9 698.2h0M1115.7 560.3h0M1431.6 869.2h0M893.7 323.6h0M1385.4 537.9h0M1389.3 509.7h0M1269.0 541.3h0M1533.9 483.7h0M1353.0 498.1h0M1355.1 578.4h0M1336.3 579.3h0M808.1 310.3h0M1436.5 815.0h0M779.1 433.6h0M1225.3 598.0h0M670.3 475.1h0M1187.9 758.0h0M829.7 452.7h0M1200.5 424.2h0M1408.1 493.4h0M1143.3 664.9h0M916.3 307.0h0M1464.4 914.2h0M1495.0 726.1h0M1261.8 499.7h0M628.2 382.2h0M641.7 458.9h0M884.8 320.2h0M1097.2 459.5h0M1376.1 480.7h0M971.5 295.8h0M820.4 448.2h0M1189.7 534.8h0M1093.8 499.2h0M1024.5 569.1h0M1347.2 590.1h0M807.5 242.8h0M1365.7 604.9h0M785.3 288.0h0M1085.1 507.9h0M1241.9 515.7h0M1105.1 392.6h0M1034.2 531.1h0M1318.2 527.7h0M1163.4 458.6h0M1131.6 549.9h0M1191.5 654.7h0M819.4 377.8h0M1223.7 768.9h0M1404.6 831.8h0M1500.1 443.7h0M1266.6 522.0h0M1450.5 844.8h0M1177.0 474.6h0M1211.1 484.6h0M1513.1 838.7h0M1442.6 798.1h0M623.0 400.4h0M978.2 251.8h0M1205.6 463.1h0M1437.3 498.0h0M837.2 302.3h0M1189.8 402.8h0M1392.5 683.8h0M1245.9 402.9h0M839.3 376.8h0M913.1 332.7h0M1001.9 308.5h0M1399.4 625.1h0M1247.3 394.9h0M1384.0 527.2h0M1331.3 538.2h0M1017.7 554.1h0M850.3 235.3h0M1520.3 501.2h0M645.3 451.1h0M791.1 501.9h0M1209.6 624.9h0M766.1 443.8h0M1102.7 623.8h0M1678.2 707.0h0M866.4 489.1h0M901.6 271.5h0M1694.4 631.8h0M1673.9 609.7h0M1314.4 482.3h0M1169.0 518.8h0M1614.2 709.3h0M1257.4 402.0h0M960.2 331.1h0M869.0 491.3h0M1125.4 508.2h0M1093.6 393.9h0M1268.1 491.8h0M966.0 264.6h0M1265.1 525.3h0M1176.9 815.7h0M1544.5 679.0h0M1383.6 766.1h0M627.0 452.7h0M1286.9 792.5h0M635.5 381.0h0M1092.8 494.1h0M1128.5 350.1h0M1186.6 359.0h0M847.7 346.8h0M1153.8 435.9h0M1579.8 726.0h0M1280.7 529.0h0M913.7 272.5h0M1008.8 295.8h0M1076.1 519.2h0M1385.6 540.4h0M1392.6 586.6h0M1674.5 614.3h0M1184.3 654.7h0M822.6 484.6h0M1186.3 538.3h0M804.3 288.8h0M1491.7 567.8h0M1202.8 691.6h0M1169.7 352.4h0M1527.3 727.3h0M1708.5 662.4h0M837.2 490.5h0M1300.7 600.0h0M971.4 325.6h0M772.8 346.2h0M1363.0 615.5h0M1238.8 680.7h0M1120.7 613.6h0M1268.4 733.1h0M1160.9 582.1h0M1537.6 571.2h0M1184.5 537.8h0M972.1 291.4h0M1041.2 523.1h0M677.4 472.4h0M1341.3 527.6h0M1294.0 468.3h0M1245.8 377.0h0M1100.9 520.3h0M932.0 301.0h0M1366.2 460.8h0M1076.1 411.6h0M1403.1 710.2h0M1263.1 578.5h0M798.8 308.4h0M1449.2 808.6h0M1191.4 533.7h0M1227.2 366.7h0M839.2 265.5h0M1043.5 513.6h0M1440.4 899.6h0M812.9 271.6h0M1162.3 436.8h0M671.5 391.7h0M1519.7 845.9h0M960.3 270.4h0M1326.9 584.1h0M1133.5 564.8h0M1239.8 509.9h0M1066.9 527.2h0M640.4 448.5h0M1252.6 693.7h0M1414.8 786.2h0M1186.8 648.8h0M1407.1 467.6h0M1032.1 290.7h0M838.4 269.9h0M787.8 437.6h0M1508.7 447.3h0M1181.8 418.2h0M1046.2 520.0h0M776.5 266.2h0M826.6 507.4h0M1248.1 511.1h0M1324.0 582.6h0M1453.1 825.9h0M1233.5 695.5h0M959.5 282.9h0M1224.9 613.8h0M1326.8 847.4h0M1369.5 587.4h0M1153.2 517.5h0M1482.8 571.5h0M1210.6 366.3h0M1242.1 470.9h0M1305.1 625.0h0M1628.7 623.6h0M796.8 259.7h0M780.1 451.3h0M1201.5 669.5h0M1356.3 562.2h0M1161.3 531.7h0M954.4 306.1h0M1359.5 597.2h0M1328.2 509.6h0M1227.4 531.7h0M1372.9 726.0h0M1392.0 758.0h0M1362.7 643.4h0M1112.8 548.3h0M1228.1 567.5h0M1322.2 493.3h0M1375.3 640.3h0M771.9 470.8h0M821.7 235.8h0M1034.3 582.0h0M1162.1 628.3h0M1084.0 578.6h0M1153.9 571.9h0M1378.0 590.9h0M856.2 489.2h0M775.8 455.9h0M1115.8 426.6h0M1166.8 642.0h0M1545.3 732.8h0M1268.1 481.7h0M1241.6 431.1h0M1170.6 646.7h0M897.6 324.4h0M1184.1 627.0h0M815.3 316.5h0M1207.7 422.3h0M1100.4 440.0h0M1125.0 654.0h0M838.2 460.9h0M1069.0 600.0h0M1267.3 392.9h0M1121.0 653.9h0M1079.7 574.4h0M1180.6 797.1h0M819.0 442.7h0M1468.5 895.6h0M778.7 460.4h0M861.6 283.1h0M914.2 284.2h0M925.7 303.2h0M768.0 277.1h0M805.2 304.9h0M1167.4 440.0h0M884.7 322.3h0M1403.9 457.7h0M1365.2 590.2h0M1256.1 691.8h0M1221.2 387.0h0M643.2 439.0h0M1330.8 517.7h0M1266.4 377.8h0M1223.5 692.4h0M1228.3 410.5h0M850.2 263.5h0M1463.9 810.3h0M865.2 322.4h0M1330.7 559.3h0M1198.7 480.9h0M883.1 232.1h0M1234.6 459.6h0M1203.7 498.2h0M1198.3 696.4h0M1114.8 597.1h0M1390.8 528.2h0M1224.5 743.9h0M937.3 287.0h0M1259.6 496.0h0M880.2 269.4h0M850.6 489.6h0M762.5 263.4h0M627.6 377.2h0M1205.6 506.0h0M1270.1 535.9h0M1249.2 482.1h0M1358.1 590.7h0M1371.6 517.4h0M920.4 260.9h0M1124.8 588.4h0M1246.5 529.5h0M825.8 222.5h0M1147.9 645.3h0M839.7 489.7h0M1331.9 436.7h0M1237.8 348.3h0M1369.2 719.9h0M1302.0 447.7h0M1151.3 657.8h0M1139.9 632.8h0M1574.6 700.5h0M1164.3 440.2h0M1270.3 381.3h0M1386.3 524.2h0M1086.5 452.9h0M866.0 507.2h0M1401.2 558.2h0M1342.8 441.0h0M1513.1 884.8h0M1166.3 669.8h0M1458.0 822.3h0M1666.6 676.4h0M849.2 495.8h0M913.5 267.1h0M1381.1 665.1h0M1176.8 685.5h0M1361.0 555.5h0M854.1 266.6h0M1121.0 438.8h0M1311.3 775.2h0M922.1 285.5h0M1257.2 601.2h0M1215.8 587.3h0M1361.3 553.1h0M1255.0 533.3h0M1545.5 681.5h0M1407.5 587.3h0M1143.3 670.4h0M772.7 273.7h0M1394.6 465.4h0M1119.2 370.9h0M1455.3 648.9h0M1226.4 534.5h0M1099.9 519.2h0M1229.5 548.3h0"/>
<path stroke="#c83e73" d="M1300.1 376.3h0M1062.7 348.5h0M1384.4 628.1h0M897.8 343.6h0M1150.8 544.9h0M1361.5 563.1h0M1089.0 347.9h0M676.9 413.7h0M1436.5 881.8h0M1695.0 659.5h0M1265.6 490.4h0M1394.7 573.7h0M1181.7 647.5h0M1637.0 671.4h0M1061.0 503.1h0M1212.0 706.8h0M878.2 390.2h0M785.0 307.7h0M1345.4 588.4h0M1194.4 648.9h0M1071.0 613.7h0M1160.7 568.5h0M1174.7 395.4h0M1313.5 448.2h0M1217.2 484.6h0M1160.2 609.1h0M1702.1 676.8h0M1077.7 487.7h0M763.8 458.0h0M1183.2 614.0h0M1134.3 610.3h0M886.0 306.2h0M1270.2 735.7h0M1074.0 602.5h0M1317.5 485.2h0M1107.2 362.9h0M1655.5 631.5h0M1139.8 370.9h0M1519.2 703.6h0M906.3 220.9h0M1365.6 755.3h0M1125.8 651.4h0M1616.6 643.7h0M887.6 306.7h0M1245.0 393.6h0M1240.5 580.1h0M1261.0 549.2h0M781.0 459.8h0M1469.1 898.3h0M936.3 349.9h0M1377.4 704.7h0M1391.1 533.7h0M1270.7 506.5h0M1472.0 820.3h0M1199.8 583.4h0M1174.2 654.6h0M1237.7 606.7h0M848.8 465.0h0M1269.7 695.1h0M1356.0 661.4h0M1239.8 474.7h0M1139.5 596.6h0M1255.9 480.7h0M1212.1 341.1h0M1238.1 357.4h0M1070.0 501.1h0M1187.4 608.3h0M900.0 260.5h0M1406.6 559.9h0M1393.7 700.6h0M805.1 447.3h0M1191.6 628.0h0M1229.3 396.8h0M1289.9 407.4h0M1203.9 668.3h0M1351.0 578.9h0M1098.2 506.2h0M1474.5 858.4h0M1128.3 426.0h0M956.0 344.1h0M1391.5 531.1h0M1190.6 423.1h0M652.4 440.1h0M1355.6 600.9h0M1666.3 684.8h0M1221.3 577.7h0M1346.9 532.8h0M1083.7 352.0h0M1054.9 547.2h0M1129.8 593.9h0M1184.1 651.5h0M1026.6 543.3h0M830.4 264.1h0M850.7 292.8h0M1151.9 657.8h0M1351.1 490.1h0M897.3 257.7h0M1248.3 505.5h0M1257.4 501.9h0M1441.3 899.1h0M1372.8 497.0h0M1172.8 682.1h0M775.0 447.1h0M998.0 1126.9h0M1212.4 699.1h0M954.8 245.3h0M1170.9 760.6h0M1460.7 874.9h0M889.0 281.0h0M1143.5 353.1h0M1236.5 479.4h0M794.1 308.7h0M950.6 316.5h0M935.4 257.9h0M935.3 261.9h0M1463.1 889.2h0M891.5 255.3h0M820.8 271.0h0M835.9 277.2h0M1160.4 612.5h0M1154.2 646.1h0M1343.4 560.4h0M1340.2 526.8h0M855.9 307.2h0M1143.5 642.3h0M1199.5 462.3h0M1296.2 529.8h0M1196.7 618.8h0M1183.7 801.2h0M870.5 254.1h0M1172.3 361.9h0M1464.6 495.2h0M1374.1 570.9h0M1136.2 603.6h0M1143.3 521.9h0M1191.7 530.3h0M1229.2 416.1h0M897.6 298.6h0M881.5 247.9h0M794.8 304.4h0M1215.4 620.1h0M1151.0 362.9h0M1104.8 602.7h0M1208.4 631.7h0M1150.5 667.4h0M1199.5 594.8h0M1365.1 778.5h0M1077.5 524.4h0M1121.3 411.4h0M1371.9 531.0h0M1262.4 697.6h0M836.3 293.1h0M1113.1 610.8h0M1489.3 820.8h0M873.1 233.4h0M1645.0 610.3h0M1126.4 602.7h0M1461.8 827.6h0M925.9 279.5h0M934.3 244.6h0M1334.7 854.4h0M967.9 267.2h0M1210.0 557.6h0M867.1 294.4h0M1008.4 311.5h0M1270.6 495.2h0M1093.2 592.1h0M1250.4 791.9h0M1058.8 567.8h0M1243.2 727.0h0M1254.3 536.4h0M1459.7 629.1h0M1146.3 642.0h0M845.5 290.9h0M717.6 369.3h0M1000.7 327.3h0M639.2 430.9h0M993.1 272.1h0M757.1 477.5h0M891.8 364.1h0M936.3 346.5h0M1418.7 774.7h0M724.1 445.9h0M1000.7 279.8h0M956.3 355.7h0M1022.2 281.3h0M1016.1 289.0h0M777.1 510.1h0M800.8 311.6h0M951.2 273.5h0M1222.8 493.0h0M1128.8 504.9h0M656.3 439.5h0M1674.8 642.9h0M1107.8 424.3h0M774.2 266.6h0M1294.3 592.2h0M1436.4 817.2h0M1178.9 784.7h0M1164.6 757.6h0M905.4 322.1h0M1378.3 490.7h0M987.0 296.8h0M1288.7 520.6h0M903.3 260.8h0M1173.0 822.8h0M1316.8 777.3h0M884.5 296.9h0M1408.0 748.8h0M1228.2 683.6h0M1181.4 615.7h0M947.7 290.6h0M809.4 513.2h0M865.7 404.1h0M1207.8 622.1h0M1227.5 375.6h0M1356.6 496.8h0M1037.1 564.0h0M1123.0 599.4h0M1096.1 567.0h0M816.2 256.7h0M863.4 319.9h0M1160.1 427.4h0M1095.4 400.3h0M800.3 306.1h0M634.3 442.3h0M1135.1 640.0h0M855.1 253.3h0M1438.4 530.4h0M1033.6 558.9h0M1349.5 606.0h0M1233.9 417.8h0M812.6 275.2h0M1357.4 467.3h0M858.7 329.8h0M1249.8 506.3h0M1143.1 598.2h0M1235.8 672.3h0M933.0 294.9h0M1178.6 626.1h0M1270.8 496.4h0M1164.3 634.5h0M1185.8 667.5h0M1238.2 534.6h0M1075.3 613.8h0M1346.1 558.5h0M1142.8 404.4h0M1583.8 727.5h0M1164.4 390.2h0M800.4 257.5h0M1587.4 735.2h0M1303.2 512.5h0M1454.2 824.1h0M1097.1 498.6h0M1700.1 633.9h0M1202.8 784.5h0M1093.1 366.7h0M1110.7 608.3h0M775.9 256.4h0M1469.1 924.5h0M1516.0 566.1h0M1526.0 726.0h0M788.9 426.2h0M852.1 396.7h0M1157.6 371.9h0M1618.0 713.3h0M659.1 420.0h0M1368.0 451.0h0M1116.5 615.6h0M1245.8 521.0h0M1178.4 664.5h0M1289.8 477.6h0M1369.3 733.1h0M826.5 272.7h0M795.7 253.4h0M1369.1 461.8h0M1322.9 626.5h0M865.2 338.8h0M1328.8 716.8h0M1686.5 679.9h0M770.3 266.0h0M673.9 386.5h0M1328.5 614.5h0M1434.9 867.9h0M1199.5 436.7h0M877.4 267.9h0M1287.6 789.0h0M849.1 306.9h0M1320.1 414.4h0M828.3 362.0h0M915.9 228.4h0M895.5 258.9h0M1171.0 545.7h0M851.4 286.3h0M1308.6 470.2h0M1152.6 651.0h0M1084.1 595.0h0M1065.2 569.3h0M792.5 296.8h0M1456.6 888.5h0M1242.8 399.7h0M1217.7 614.9h0M1483.2 922.5h0M1154.3 597.6h0M841.6 287.0h0M1224.1 387.8h0M1434.9 843.6h0M1377.2 528.9h0M1360.0 580.0h0M1286.8 450.8h0M1361.0 755.2h0M1212.2 778.4h0M1155.5 794.8h0M1352.4 847.2h0M1247.8 627.2h0M1529.7 535.0h0M900.5 270.4h0M1227.2 470.9h0M793.8 271.7h0M766.7 448.9h0M1156.8 675.2h0M1431.7 817.3h0M1205.1 488.4h0M1178.0 355.7h0M1181.2 545.1h0M868.7 401.1h0M1187.8 441.9h0M1465.2 918.2h0M1328.4 521.0h0M1617.2 686.2h0M844.3 295.0h0M1161.5 443.2h0M1163.1 667.7h0M910.3 308.8h0M1038.3 582.4h0M1284.8 499.3h0M770.1 458.1h0M1091.4 493.2h0M1354.6 581.2h0M1233.8 570.7h0M1177.2 645.0h0M1379.8 537.7h0M1207.4 506.1h0M1466.8 867.4h0M1293.9 781.2h0M1098.1 517.9h0M876.7 221.8h0M856.0 323.6h0M910.9 285.1h0M1150.0 665.3h0M1355.5 462.3h0M1682.1 659.7h0M1353.9 603.5h0M902.3 301.7h0M1406.9 839.4h0M1216.0 372.7h0M1234.0 457.0h0M1072.2 478.0h0M785.6 441.5h0M1178.4 404.2h0M1162.4 542.7h0M1301.4 439.0h0M950.0 308.9h0M1272.5 377.4h0M1261.4 384.1h0M1118.5 603.6h0M898.3 317.3h0M929.1 312.4h0M836.9 465.4h0M1180.4 556.1h0M1083.6 500.4h0M1581.0 731.3h0M1235.4 467.1h0M1110.4 655.0h0M1290.8 364.1h0M794.9 266.4h0M855.0 311.4h0M812.3 253.1h0M1247.8 433.1h0M686.4 475.3h0M1110.3 562.7h0M1509.2 859.1h0M1040.2 584.5h0M1285.8 518.3h0M1286.1 425.3h0M868.5 272.8h0M780.1 289.1h0M1122.4 481.2h0M1371.4 671.1h0M833.7 463.4h0M1135.1 621.3h0M897.2 322.3h0M1176.1 647.1h0M911.1 242.2h0M1177.8 615.4h0M1633.2 707.1h0M1032.8 337.2h0M1149.5 549.6h0M1477.3 471.1h0M1315.4 783.3h0M842.8 242.9h0M1336.3 565.0h0M1411.5 693.2h0M800.2 429.7h0M1442.2 450.2h0M1047.6 561.6h0M1375.4 538.0h0M1366.4 557.3h0M1236.9 679.3h0M1280.5 512.5h0M1101.6 399.5h0M878.5 312.9h0M1398.9 556.7h0M879.3 237.4h0M841.6 279.9h0M1212.8 560.6h0M1343.2 445.4h0M1453.0 910.4h0M627.6 392.4h0M853.4 222.4h0M1475.9 905.3h0M1213.0 578.0h0M818.9 308.1h0M625.1 386.6h0M1380.4 704.8h0M967.4 319.9h0M1230.1 608.7h0M1169.9 586.5h0M1235.5 705.9h0M1472.8 916.0h0M1101.3 488.1h0M1190.4 595.3h0M1038.1 570.5h0M824.7 280.7h0M1250.0 401.6h0M1075.0 492.3h0M1290.9 460.2h0M1686.8 676.4h0M1341.2 473.0h0M1539.9 724.2h0M801.8 291.7h0M1310.6 446.6h0M1463.2 897.1h0M622.4 449.8h0M1214.1 493.3h0M1717.0 656.3h0M1235.7 501.4h0M1390.8 511.6h0M1486.4 474.0h0M1236.7 473.3h0M1204.4 685.0h0M709.1 458.9h0M686.7 425.7h0M1252.4 688.9h0M1382.8 651.2h0M817.0 503.7h0M1450.3 819.1h0M1296.2 378.2h0M1369.1 464.2h0M1281.0 428.9h0M1201.3 438.0h0M1518.8 476.1h0M1514.8 826.5h0M862.3 305.6h0M1041.5 535.7h0M1263.0 766.4h0M684.9 417.8h0M1446.4 824.3h0M1131.6 594.3h0M853.0 294.4h0M1202.1 355.8h0M1230.5 821.8h0M1436.3 804.8h0M1261.8 532.8h0M1317.2 476.7h0M834.2 292.7h0M1519.7 890.0h0M967.9 324.5h0M1555.4 744.6h0M1149.4 553.7h0M1303.0 773.1h0M1461.0 480.3h0M1142.6 434.4h0M1456.9 915.3h0M950.4 262.0h0M1171.1 818.5h0M1208.0 848.0h0M1661.5 624.6h0M1326.2 456.2h0M1234.4 546.1h0M954.4 277.4h0M1255.8 444.2h0M978.2 254.8h0M1237.2 807.5h0M824.8 350.4h0M1681.5 705.7h0M950.7 305.5h0M1422.9 707.5h0M1373.6 719.4h0M1466.1 916.0h0M1084.4 401.7h0M1144.0 623.4h0M944.8 242.9h0M634.7 448.5h0M1391.6 506.6h0M893.6 312.9h0M1298.7 452.9h0M647.6 427.4h0M841.1 494.0h0M1633.9 712.8h0M1114.6 653.3h0M846.5 515.0h0M1178.3 630.8h0M877.6 286.3h0M1408.7 515.0h0M1275.8 573.5h0M1153.6 428.5h0M922.0 312.7h0M1371.7 705.0h0M1391.9 510.9h0M1085.1 491.8h0M1127.7 393.6h0M1677.8 605.9h0M1300.9 464.6h0M1271.2 812.7h0M1123.6 366.9h0M763.5 277.9h0M1469.4 859.7h0M943.5 317.1h0M1634.8 648.1h0"/>
<path stroke="#d0416f" d="M1174.4 755.6h0M1369.8 597.0h0M1686.9 594.7h0M1143.5 636.9h0M1511.1 881.6h0M1159.0 592.2h0M1195.4 356.5h0M1123.3 509.5h0M1148.4 650.6h0M1138.4 641.0h0M1291.3 499.9h0M1227.5 593.5h0M1255.0 428.9h0M1206.4 392.8h0M1340.8 531.4h0M1091.6 390.3h0M1265.1 716.1h0M1383.0 690.2h0M968.4 244.9h0M1099.0 457.3h0M1159.4 399.7h0M1399.6 484.1h0M1459.9 903.4h0M666.0 473.6h0M1386.1 456.3h0M1148.1 519.4h0M1188.8 647.8h0M664.5 436.6h0M1070.6 589.1h0M1167.8 500.9h0M1319.2 517.9h0M1422.4 540.7h0M1111.7 517.0h0M1288.1 478.1h0M909.4 265.1h0M922.6 297.5h0M1311.1 554.6h0M915.0 224.7h0M849.5 317.2h0M1511.7 830.6h0M973.4 243.9h0M871.3 220.6h0M1521.4 898.7h0M1193.2 658.1h0M1196.6 422.2h0M807.2 278.3h0M908.0 226.7h0M925.7 276.8h0M816.2 493.0h0M1046.1 559.0h0M876.8 306.2h0M1315.9 843.9h0M866.4 311.5h0M1123.0 402.0h0M1377.4 673.2h0M1131.9 591.4h0M1116.5 597.4h0M624.3 447.1h0M1251.3 699.6h0M807.4 264.6h0M1157.5 561.0h0M1308.5 767.1h0M838.5 232.0h0M1374.2 711.5h0M876.5 351.3h0M1265.8 716.4h0M1362.0 524.4h0M1029.8 286.9h0M800.7 499.6h0M1100.2 583.6h0M1341.3 516.3h0M1621.7 618.6h0M1352.6 842.7h0M1447.5 650.5h0M1218.3 653.3h0M1275.1 517.8h0M933.3 270.8h0M1225.9 676.7h0M1388.7 445.3h0M1409.9 544.2h0M834.5 487.1h0M862.7 239.3h0M1219.4 614.4h0M1397.1 475.8h0M958.3 234.5h0M1080.7 500.9h0M1514.6 885.5h0M1138.4 656.7h0M1461.5 813.5h0M1328.5 568.8h0M669.7 470.3h0M899.2 323.8h0M1144.3 371.7h0M1065.5 514.3h0M1288.8 767.6h0M889.1 324.5h0M1406.9 505.5h0M1401.6 521.7h0M1122.5 468.0h0M1330.6 408.4h0M826.6 298.1h0M1181.5 609.5h0M770.0 263.5h0M903.1 327.4h0M855.6 237.5h0M1276.7 485.5h0M1232.4 477.1h0M1111.2 569.6h0M1196.3 660.9h0M1182.9 538.5h0M1377.8 635.2h0M719.0 371.6h0M939.9 267.3h0M1158.3 600.5h0M677.4 415.9h0M809.8 232.0h0M1130.1 563.8h0M1248.8 819.2h0M1638.3 660.2h0M1287.0 501.0h0M1400.8 474.3h0M884.6 285.0h0M1260.7 511.3h0M928.6 288.7h0M867.1 512.7h0M1297.6 727.9h0M1298.7 513.6h0M1236.5 413.3h0M1172.9 407.8h0M1384.0 727.5h0M1246.8 470.9h0M1152.9 374.2h0M1218.6 432.7h0M1121.1 656.3h0M1160.2 652.4h0M1298.7 550.1h0M863.8 339.9h0M1366.2 598.7h0M1204.1 346.2h0M1248.7 509.5h0M1215.9 550.6h0M854.3 478.2h0M1182.2 828.5h0M1105.2 548.6h0M1244.0 367.6h0M733.8 359.4h0M880.2 264.6h0M1376.0 728.2h0M1313.5 515.9h0M1260.1 700.1h0M1306.6 589.2h0M1210.0 530.9h0M1480.8 919.2h0M956.3 307.3h0M1375.9 577.7h0M1254.8 411.1h0M1135.1 558.1h0M1203.6 382.4h0M1301.6 469.7h0M798.6 268.5h0M907.4 249.2h0M1371.0 741.8h0M1236.6 545.2h0M1123.1 409.7h0M1671.6 647.1h0M1238.5 705.8h0M1386.0 544.3h0M1215.3 414.7h0M1418.8 621.8h0M1210.2 666.3h0M1068.1 558.4h0M1441.0 805.3h0M862.8 314.8h0M1153.7 410.7h0M1241.0 523.8h0M1119.9 606.5h0M1534.9 736.9h0M1078.6 560.8h0M923.3 269.4h0M1159.8 384.3h0M1230.8 472.3h0M1233.1 487.0h0M1127.1 544.3h0M839.3 247.4h0M1204.1 376.0h0M1480.5 849.2h0M1144.3 445.9h0M766.8 467.6h0M1277.5 541.7h0M1701.4 655.1h0M1193.0 554.6h0M1411.6 839.9h0M1679.0 610.1h0M668.7 391.3h0M1474.6 916.3h0M639.8 454.6h0M1127.6 611.7h0M1413.2 481.6h0M1185.9 774.7h0M803.8 268.1h0M1273.8 788.5h0M1322.3 408.4h0M1375.2 542.6h0M975.3 238.2h0M1362.0 597.0h0M1073.6 346.7h0M1695.6 690.7h0M1203.4 671.7h0M1257.4 612.5h0M1067.7 343.5h0M1303.0 446.2h0M1085.2 445.1h0M1183.2 406.2h0M1182.1 604.6h0M1542.6 727.1h0M1552.3 733.3h0M1096.9 396.6h0M1201.7 812.0h0M776.0 282.7h0M1057.3 571.0h0M783.4 276.2h0M1334.1 579.1h0M1175.1 760.7h0M790.2 308.9h0M854.6 382.2h0M1419.3 470.1h0M1333.3 530.9h0M969.7 268.2h0M917.0 327.2h0M1184.9 603.9h0M1275.6 423.4h0M1483.5 540.7h0M1440.8 878.4h0M1508.1 707.9h0M1619.4 656.4h0M1045.0 518.9h0M1372.8 692.1h0M1225.8 524.8h0M1243.3 390.1h0M1137.2 345.3h0M792.2 433.1h0M1249.2 711.1h0M1473.5 845.1h0M657.0 390.9h0M1183.4 659.3h0M1377.4 759.5h0M1172.2 503.6h0M1266.9 424.9h0M914.8 263.6h0M676.7 388.9h0M1130.3 583.2h0M1214.8 590.0h0M883.9 307.5h0M1131.5 622.4h0M1166.7 415.1h0M914.9 315.6h0M677.0 386.7h0M1372.7 520.5h0M1062.0 490.5h0M1372.9 575.6h0M1178.5 413.9h0M885.0 246.7h0M1422.5 538.9h0M1345.4 572.7h0M1253.6 682.1h0M1654.5 672.7h0M1632.1 606.3h0M929.1 323.9h0M1175.6 748.5h0M1194.2 515.1h0M1155.1 593.1h0M1134.7 559.9h0M1412.2 559.9h0M786.9 266.8h0M1474.2 579.9h0M1332.4 575.5h0M1150.4 358.1h0M1432.5 808.8h0M1250.3 629.5h0M1073.0 587.5h0M1254.1 442.5h0M831.5 246.5h0M931.4 343.1h0M1195.0 587.7h0M987.1 291.2h0M1195.4 691.8h0M801.7 255.0h0M1396.7 550.1h0M1249.0 502.8h0M1544.5 725.0h0M864.9 260.4h0M1142.9 574.9h0M1375.8 565.9h0M1229.2 471.5h0M1388.3 566.9h0M790.2 438.6h0M1289.5 743.0h0M780.8 473.0h0M1248.8 344.8h0M835.0 473.3h0M1323.9 452.3h0M836.4 461.8h0M1219.9 819.9h0M845.4 459.7h0M938.9 240.9h0M1221.3 680.9h0M903.7 265.2h0M1185.6 694.1h0M1311.7 541.9h0M1088.5 380.4h0M1547.3 741.9h0M1394.8 719.3h0M1448.0 895.9h0M1142.5 512.7h0M1090.4 576.8h0M1168.7 621.3h0M751.9 355.7h0M1672.0 613.2h0M1666.2 670.6h0M1264.0 735.1h0M1097.0 482.2h0M885.7 291.9h0M1617.1 633.7h0M857.1 223.6h0M1255.5 574.5h0M802.9 305.6h0M632.6 376.9h0M1271.8 504.9h0M917.7 251.2h0M770.0 287.7h0M936.8 298.3h0M1269.9 794.6h0M1342.6 427.2h0M1225.9 604.9h0M1034.3 336.2h0M1191.4 604.3h0M1206.8 399.8h0"/>
<path stroke="#d8456c" d="M1223.3 833.0h0M1150.9 655.2h0M634.5 385.3h0M1165.7 482.4h0M1215.9 699.3h0M826.2 280.2h0M928.1 298.5h0M833.2 299.7h0M1596.0 705.9h0M1180.4 400.2h0M1678.2 705.3h0M1287.0 499.6h0M1513.8 856.4h0M1100.1 576.7h0M1153.1 663.8h0M1340.4 496.9h0M1376.2 757.4h0M761.8 285.6h0M1137.5 385.3h0M1300.1 576.1h0M1379.4 729.4h0M926.4 293.5h0M1409.7 540.1h0M1269.0 763.5h0M899.4 310.8h0M837.2 243.8h0M1347.9 703.5h0M1416.3 521.8h0M845.3 381.9h0M1393.3 533.1h0M1324.9 598.4h0M770.3 274.7h0M1168.9 523.8h0M1088.6 491.5h0M1311.1 811.0h0M1396.2 681.5h0M1169.8 676.7h0M1106.2 625.3h0M957.2 318.5h0M1198.0 657.6h0M1696.1 593.1h0M1056.3 545.4h0M1507.4 895.5h0M1124.3 644.4h0M1388.0 531.0h0M1316.9 558.8h0M929.8 302.7h0M1195.4 387.2h0M1203.9 829.9h0M1186.9 835.4h0M878.4 261.8h0M1403.5 786.1h0M1284.5 478.7h0M1505.3 721.0h0M1384.1 521.9h0M1152.6 670.7h0M815.5 251.4h0M1573.2 700.0h0M858.7 313.7h0M857.8 485.3h0M1265.5 767.4h0M943.7 233.8h0M1275.9 523.7h0M1306.4 458.7h0M1212.8 399.1h0M1112.5 347.4h0M1699.2 647.2h0M1322.8 692.2h0M783.2 433.6h0M1133.3 632.8h0M1101.8 578.9h0M1623.0 664.4h0M1182.1 787.8h0M839.9 300.4h0M1030.9 526.2h0M770.4 258.7h0M900.7 312.6h0M959.1 238.3h0M1159.9 628.4h0M1220.6 388.8h0M1130.9 624.3h0M1178.0 629.1h0M1268.3 793.1h0M959.3 258.4h0M1244.5 584.5h0M1153.0 811.8h0M1424.1 727.9h0M1170.5 669.6h0M951.3 315.0h0M920.0 285.7h0"/>
<path stroke="#df4a68" d="M1146.8 494.1h0M684.3 386.4h0M1194.8 413.7h0M874.8 333.6h0M1195.7 671.4h0M1191.8 688.5h0M1152.4 595.4h0M1137.5 433.9h0M1406.0 577.2h0M1360.7 501.7h0M671.8 388.3h0M760.0 274.5h0M864.2 236.0h0M1197.0 460.0h0M1175.8 622.7h0M883.7 259.0h0M632.6 382.4h0M1207.1 554.0h0M1318.0 491.5h0M1067.0 364.4h0M1274.7 428.7h0M1184.0 589.6h0M822.6 303.6h0M1232.2 437.0h0M1677.5 587.5h0M1369.3 557.3h0M808.2 249.5h0M790.5 307.0h0M1281.1 452.0h0M1110.7 570.2h0M800.4 433.0h0M1318.2 542.0h0M1177.2 679.7h0M1512.6 705.9h0M1253.0 420.3h0M1139.2 502.8h0M911.4 311.4h0M1232.3 536.1h0M802.8 286.5h0M1266.8 531.1h0M1441.0 819.2h0M1114.6 606.9h0M1129.8 392.2h0M1436.4 841.7h0M1198.9 539.1h0M1241.7 769.7h0M786.0 269.9h0M923.6 221.8h0M1376.5 690.1h0M1260.1 546.0h0M850.3 232.7h0M1192.5 379.3h0M948.5 310.7h0M1326.7 447.4h0M1442.8 816.8h0M1629.3 663.8h0M1120.2 577.2h0M1071.2 512.1h0M790.2 268.9h0M1481.5 474.3h0M1290.8 561.1h0M1163.6 644.4h0M1669.8 610.4h0M1273.2 489.6h0M1162.6 395.4h0M844.1 298.8h0M892.0 321.3h0M1143.4 604.2h0M1144.7 559.8h0M895.1 240.6h0M1059.9 539.1h0M1555.7 716.3h0M675.2 411.2h0M873.3 317.0h0M932.9 254.6h0M1064.3 566.9h0M618.1 402.9h0M1155.9 641.5h0M1355.8 511.7h0M1433.2 815.0h0M1158.5 358.3h0M1148.9 429.6h0M1123.2 574.8h0M1194.6 616.0h0M1113.6 506.6h0M814.6 282.0h0M1127.2 649.8h0M1158.8 654.9h0M1240.0 513.8h0M1396.6 526.0h0M1392.0 488.3h0M1644.4 670.3h0M813.5 268.1h0M1263.6 532.0h0M1263.6 547.7h0M1534.7 546.2h0M1051.8 537.1h0M1135.9 615.8h0M647.5 431.4h0M828.9 278.6h0M1313.2 612.5h0M1147.2 643.8h0M905.1 293.7h0M1191.8 427.6h0M1131.1 420.7h0M1220.5 408.6h0M1348.5 542.3h0M1021.6 535.2h0M1393.4 750.8h0M1249.0 674.6h0M895.8 303.9h0M1295.7 536.3h0M1140.6 627.8h0M813.2 436.1h0M1460.1 468.6h0M1077.6 481.9h0M1116.3 548.1h0M1193.1 596.9h0M1256.7 516.0h0M1152.9 649.1h0M1196.3 542.7h0M856.5 503.1h0M1208.5 563.0h0M1152.1 444.2h0M622.5 447.3h0M1110.3 486.8h0M1200.4 644.3h0M853.4 310.4h0M616.3 390.5h0"/>
<path stroke="#e55064" d="M1203.6 657.9h0M1637.7 685.1h0M865.8 318.6h0M1569.4 714.6h0M631.9 403.6h0M858.3 319.8h0M1390.0 627.6h0M1211.1 547.8h0M1227.1 675.6h0M1335.2 749.8h0M632.7 389.1h0M1151.2 645.5h0M1310.5 546.0h0M1231.1 577.5h0M1486.6 917.2h0M979.9 287.6h0M1399.1 589.0h0M1313.0 483.5h0M1130.0 386.3h0M794.1 302.2h0M1086.6 473.1h0M853.6 323.2h0M786.6 262.1h0M1454.6 861.5h0M941.4 272.8h0M854.9 290.4h0M1407.1 481.5h0M1697.7 671.3h0M1380.1 636.9h0M1408.8 680.5h0M1270.2 487.1h0M1175.8 583.0h0M1188.6 613.2h0M825.9 446.6h0M1383.8 538.7h0M1116.4 600.3h0M1660.4 697.7h0M1266.5 503.4h0M1556.3 721.7h0M789.8 261.2h0M1643.2 659.7h0M838.8 446.7h0M1178.5 638.0h0M929.8 326.2h0M815.7 265.9h0M838.0 509.1h0M1161.7 654.5h0M802.1 269.6h0M857.6 233.1h0M1484.8 802.7h0M1138.0 524.4h0M1187.3 607.4h0M1196.0 351.2h0M875.2 515.1h0M1264.5 429.3h0M1408.4 823.5h0M1241.5 614.7h0M1207.5 700.6h0M1434.7 675.2h0M630.1 390.7h0M1383.1 717.3h0M952.2 264.7h0M856.6 270.8h0M793.0 430.5h0M782.2 437.0h0M1115.4 500.6h0M1252.8 523.4h0M1272.5 477.0h0M890.6 230.7h0M1102.2 626.1h0M1173.5 618.7h0M631.3 454.9h0M837.7 235.4h0M791.8 262.5h0M1638.5 663.9h0M1408.4 539.7h0M785.0 438.1h0M922.4 229.8h0M1116.4 555.2h0M1030.7 297.4h0M1346.2 585.8h0M1173.8 521.9h0M1367.1 538.1h0M1455.8 892.1h0M1258.9 461.9h0M836.6 251.9h0M1634.0 696.6h0M1333.3 410.7h0M1098.4 395.8h0M1251.3 706.3h0M852.7 228.0h0M912.6 292.2h0M1178.6 797.9h0M1294.1 522.7h0M1306.7 496.6h0M1276.3 494.2h0M1677.0 681.3h0M975.1 256.2h0M1399.5 705.9h0M815.3 249.9h0M1257.3 533.4h0M1106.3 596.0h0M1361.6 621.6h0M816.0 270.4h0M1146.6 602.3h0M1134.6 642.9h0M1369.7 532.2h0M1523.6 896.1h0M1242.5 775.3h0M1463.4 842.9h0M917.9 295.3h0M1375.5 710.4h0M1109.1 507.3h0M1435.0 801.1h0M612.2 386.5h0M1527.9 545.3h0M1066.6 539.3h0M883.8 226.5h0M1253.1 395.6h0M1255.3 362.9h0M1147.8 588.5h0M909.6 267.7h0M1138.7 586.6h0M1107.7 377.0h0M1182.1 635.4h0M806.8 261.9h0M1178.9 668.8h0M1064.9 478.7h0M1436.9 864.4h0M1466.1 833.4h0M1099.1 485.2h0M1197.0 455.2h0M1191.5 395.3h0M1176.7 520.3h0M1245.6 520.9h0M1233.8 608.8h0M1392.0 766.7h0M1054.5 357.3h0M1060.3 418.9h0M696.1 381.9h0M698.5 438.9h0M1054.3 357.6h0M1429.3 793.3h0M1403.3 784.7h0M1013.0 279.8h0M1237.0 415.9h0M1190.3 642.0h0M1167.5 678.8h0M871.0 270.8h0M911.5 287.8h0M1515.5 908.0h0M1645.9 594.6h0M1261.7 412.5h0M976.1 243.8h0M1065.4 361.9h0M1242.4 505.0h0M1419.6 553.6h0M1179.6 519.2h0M1168.3 512.8h0M913.2 239.9h0M769.5 285.2h0M1056.7 517.6h0M1297.6 520.7h0M625.1 397.8h0M787.4 500.2h0M1482.6 907.6h0M1092.1 350.6h0M1397.0 617.5h0M1450.2 876.1h0M845.6 466.7h0M813.0 261.1h0M957.5 331.9h0M947.9 303.7h0M784.1 283.3h0M1515.6 861.3h0M1614.0 627.5h0M1137.8 640.9h0M1163.9 532.2h0M1162.1 523.9h0M850.0 314.0h0M1240.8 534.4h0M1388.4 680.3h0M1235.3 577.6h0M1196.7 520.8h0M1390.5 550.0h0M1217.6 614.1h0M851.6 312.6h0M1269.8 717.1h0M640.2 375.6h0M1250.7 500.3h0M1265.7 717.5h0M812.9 313.4h0M1359.5 637.2h0M1328.9 564.6h0M818.1 295.6h0M1343.4 482.6h0M1406.7 519.3h0M1138.9 588.4h0M905.1 308.1h0M1179.4 410.1h0M1180.9 578.4h0M1078.6 489.5h0M846.3 253.0h0M1413.5 555.8h0M788.1 473.1h0M823.7 265.2h0M1444.5 818.3h0M1387.6 580.3h0M905.8 257.5h0M769.7 290.1h0"/>
<path stroke="#eb5760" d="M778.1 442.9h0M1174.8 500.5h0M891.5 393.7h0M1060.9 349.5h0M775.7 279.9h0M1384.7 534.2h0M1251.1 408.4h0M1206.7 619.0h0M1379.8 715.3h0M1131.3 586.6h0M1348.9 442.0h0M883.8 270.2h0M1250.6 730.9h0M913.4 262.6h0M1224.5 662.2h0M1405.7 510.3h0M1306.7 555.5h0M1205.1 479.8h0M1446.2 829.7h0M1263.2 527.0h0M939.2 278.5h0M1139.7 497.6h0M1454.2 855.2h0M1135.1 657.7h0M1594.0 693.7h0M1162.8 762.1h0M1382.6 525.1h0M1340.6 557.7h0M959.0 275.4h0M1473.6 842.6h0M1421.9 480.3h0M1416.4 647.4h0M844.1 490.3h0M1285.5 477.2h0M1170.7 781.7h0M1151.3 513.6h0M921.3 258.5h0M900.8 286.1h0M954.7 250.1h0M617.8 395.4h0M876.9 283.8h0M805.5 258.8h0M1263.0 405.7h0M1151.1 640.5h0M1153.4 631.6h0M645.4 446.9h0M1378.0 685.5h0M881.0 266.1h0M988.1 298.9h0M1048.2 552.5h0M1297.8 471.2h0M1203.8 538.5h0M1309.5 653.3h0M862.1 402.9h0M796.8 340.0h0M1466.3 468.5h0M878.0 274.7h0M1173.4 659.4h0M1087.5 356.9h0M971.0 279.2h0M1262.5 777.0h0M1182.1 680.1h0M1097.5 608.7h0M1149.0 593.2h0M1522.7 464.7h0M629.2 406.7h0M1369.1 587.7h0M1444.2 894.9h0M1230.2 535.7h0M1180.3 509.2h0M1182.4 560.8h0M926.3 243.8h0M1371.6 838.3h0M1149.6 644.6h0M1277.3 388.8h0M1433.5 892.1h0M1396.9 706.9h0M1156.6 589.8h0M1473.3 827.2h0M1376.8 532.0h0M1179.0 420.5h0M1513.9 863.4h0M1290.6 569.9h0M864.1 508.8h0M974.5 253.0h0M1060.8 588.4h0M1366.3 465.6h0M815.3 246.0h0M1213.3 642.4h0M1392.2 549.1h0M1111.6 513.6h0M1176.8 542.2h0M1121.4 589.6h0M786.6 303.4h0M896.1 350.2h0M1206.4 562.3h0M1265.4 440.0h0M1387.2 532.1h0M904.3 316.7h0M1204.6 570.8h0M930.8 261.4h0M820.0 245.2h0M825.1 266.6h0M840.1 457.9h0M1515.2 830.8h0M1202.6 536.7h0M1440.7 889.2h0M1290.5 600.7h0M1143.3 430.8h0M1383.8 626.2h0M1391.6 713.2h0M1507.4 892.7h0M1110.0 550.9h0M1250.1 681.6h0M1121.4 585.5h0M1251.3 703.6h0M1390.1 525.4h0M1615.7 704.1h0M1117.3 541.7h0M1536.7 732.1h0M1137.8 561.1h0M926.5 269.0h0M972.2 240.5h0M1025.4 571.0h0M1232.9 474.0h0M1137.6 665.3h0M915.1 289.0h0M1439.7 519.7h0M985.3 243.8h0M1695.5 627.4h0M1193.8 457.6h0M1213.2 444.1h0M1412.3 465.8h0M1205.7 605.5h0M1259.4 536.5h0M1255.7 424.0h0M1271.6 398.0h0M863.3 308.0h0M1123.5 393.2h0M812.6 247.2h0M1377.3 530.3h0M810.7 295.5h0M1195.6 506.6h0M797.5 249.9h0M1138.8 662.4h0M1280.2 482.7h0M933.0 343.9h0M781.5 262.4h0M1185.0 626.3h0M799.8 273.7h0M1120.2 607.1h0M1649.1 626.1h0M1303.3 435.6h0M1315.7 520.9h0M987.7 307.2h0M1273.2 570.2h0M863.5 295.0h0M1131.4 650.2h0M1261.8 388.1h0M1257.5 513.0h0M1376.6 724.3h0M861.9 272.2h0M1116.7 394.3h0M1064.5 600.1h0M1150.0 817.2h0M780.2 265.7h0"/>
<path stroke="#f05f5e" d="M1262.5 605.9h0M1357.0 541.7h0M1437.1 809.3h0M1284.3 521.2h0M1245.7 417.1h0M889.9 224.5h0M1143.4 626.2h0M1263.3 717.5h0M822.9 315.3h0M965.3 311.4h0M1171.0 573.8h0M812.4 285.2h0M1358.9 564.7h0M1089.6 496.8h0M793.7 252.9h0M1449.4 824.9h0M1081.8 496.1h0M1121.7 641.1h0M1514.1 901.9h0M827.6 260.4h0M1399.0 478.6h0M1380.4 776.9h0M780.6 278.1h0M1128.0 652.1h0M1447.3 828.1h0M1168.7 595.7h0M1253.9 427.3h0M1022.4 301.8h0M1268.7 485.7h0M1204.3 553.0h0M1224.9 428.6h0M803.9 295.0h0M838.3 468.5h0M1604.2 664.7h0M1139.4 643.8h0M1323.7 711.7h0M1128.8 560.6h0M1135.6 594.9h0M618.0 387.5h0M1128.3 659.4h0M1099.9 594.9h0M844.2 255.0h0M856.4 385.9h0M1410.4 816.8h0M1136.8 632.2h0M975.3 246.9h0M1669.5 597.5h0M1106.9 485.4h0M1473.0 608.8h0M1352.5 512.9h0M1149.0 514.5h0M1189.6 394.5h0M1263.9 746.5h0M1390.8 542.0h0M946.2 302.9h0M1267.2 527.9h0M1134.6 646.2h0M777.9 271.0h0M870.8 298.4h0M1273.1 707.2h0M943.7 254.4h0M1396.7 564.3h0M1202.1 703.8h0M1225.9 433.4h0M1394.1 550.6h0M618.7 391.4h0M681.6 417.2h0M826.0 444.9h0M882.0 287.7h0"/>
<path stroke="#f4695c" d="M1212.3 599.0h0M1374.7 489.3h0M841.2 245.5h0M1443.3 810.7h0M1019.6 546.2h0M1360.9 536.1h0M1184.4 595.3h0M1185.0 645.3h0M1254.9 698.0h0M1542.8 537.7h0M1242.3 393.3h0M941.0 291.9h0M876.5 275.9h0M775.0 287.2h0M959.1 311.0h0M1215.5 666.1h0M1249.3 494.2h0M841.3 461.5h0M773.5 450.5h0M1373.4 516.6h0M958.1 256.9h0M873.7 403.6h0M1281.4 491.7h0M1369.4 538.8h0M1141.9 663.8h0M1134.4 337.7h0M1208.2 606.6h0M1177.3 419.0h0M919.9 319.2h0M1418.2 835.5h0M1680.9 677.8h0M1476.2 493.5h0M632.7 407.9h0M1307.4 412.4h0M795.1 257.4h0M920.1 220.8h0M937.6 249.0h0M1194.7 549.4h0M1199.5 462.0h0M1390.4 517.1h0M1074.6 598.8h0M673.0 390.8h0M1153.9 606.2h0M828.7 449.4h0M1128.2 489.9h0M1123.9 503.0h0M1240.1 687.5h0M925.7 256.4h0M1453.7 853.5h0M1263.1 365.0h0M677.6 406.1h0M619.9 384.2h0M629.8 388.7h0M665.6 391.8h0M1221.6 564.4h0"/>
<path stroke="#f7725c" d="M677.7 411.1h0M787.7 295.3h0M1173.1 540.1h0M1706.3 660.9h0M1158.5 630.9h0M1134.8 668.9h0M1184.6 527.3h0M1297.3 442.2h0M1334.4 460.5h0M1641.7 611.4h0M1701.1 669.6h0M1191.3 588.3h0M1462.3 850.9h0M1344.1 647.2h0M837.3 515.7h0M1071.7 417.5h0M1388.8 713.7h0M1444.3 896.7h0M1113.6 404.0h0M1476.0 928.1h0M1277.2 520.9h0M1094.0 521.2h0M1138.4 648.5h0M901.9 222.6h0M810.0 250.7h0M1344.8 552.6h0M812.5 277.0h0M1339.1 490.6h0M1061.2 572.5h0M1444.3 841.5h0M920.2 249.0h0M1245.4 577.0h0M1363.9 674.4h0M1440.9 798.5h0M1284.0 473.0h0M1358.4 519.7h0M812.3 256.7h0M814.4 262.8h0M1236.2 677.8h0M1411.1 581.2h0M1232.1 687.2h0M775.0 463.4h0M1092.0 484.8h0M1145.8 590.3h0M1156.3 602.0h0"/>
<path stroke="#f97b5d" d="M1166.1 449.4h0M858.8 292.9h0M1102.8 387.6h0M1459.3 846.8h0M937.8 284.1h0M915.5 230.5h0M781.3 302.4h0M928.7 269.2h0M1617.4 638.7h0M894.1 236.7h0M902.8 224.2h0M1146.3 663.7h0M805.7 301.1h0M886.9 300.6h0M1188.8 545.7h0M964.2 262.1h0M1227.2 437.1h0M1196.9 400.4h0M765.5 463.0h0M881.3 231.3h0M868.7 244.6h0M959.9 267.7h0M1353.6 543.8h0M851.5 319.9h0M1283.6 484.8h0M922.1 281.2h0M627.3 396.0h0M681.8 387.7h0M1140.8 572.6h0M1131.4 439.3h0M1104.3 502.0h0M872.4 495.6h0M1213.1 411.1h0M635.0 443.9h0M764.3 281.2h0M874.6 300.6h0M1348.9 543.6h0M1193.3 621.3h0M1394.5 537.2h0M1230.7 382.2h0M868.2 497.3h0M831.4 275.4h0M789.4 273.2h0M1219.2 371.5h0M1209.1 618.1h0M1196.6 589.4h0"/>
<path stroke="#fb8560" d="M1322.3 441.7h0M1141.2 606.8h0M682.1 424.7h0M791.5 300.6h0M1431.7 827.3h0M898.4 326.3h0M686.7 415.0h0M1152.4 641.6h0M1453.7 892.6h0M1278.7 549.0h0M1104.0 610.8h0M831.7 458.4h0M1212.8 580.1h0M1684.9 627.5h0M1283.0 482.9h0M1447.2 810.0h0M1400.6 575.1h0M1096.9 571.7h0M778.7 282.5h0M1446.2 900.1h0M948.8 233.7h0"/>
<path stroke="#fc8e64" d="M1260.3 705.6h0M867.1 292.5h0M1077.9 435.2h0M774.1 291.0h0M1052.4 380.5h0M1052.2 379.7h0M712.9 460.3h0M665.3 374.0h0M1187.9 601.7h0M1282.0 497.7h0M765.8 456.5h0M955.8 274.7h0M663.9 394.5h0M1311.7 505.4h0M1180.5 608.3h0M1109.4 623.2h0M1453.8 846.6h0"/>
<path stroke="#fd9869" d="M859.6 263.9h0M1392.3 515.9h0M896.2 317.0h0M1270.2 417.5h0M1175.3 607.9h0M819.0 260.0h0M809.1 266.7h0M661.3 393.6h0"/>
<path stroke="#fea16e" d="M628.7 387.1h0M621.7 389.0h0M1278.0 490.2h0M1377.4 704.8h0"/>
<path stroke="#feac76" d="M643.9 427.2h0M1116.0 578.8h0M895.0 292.6h0M683.7 388.6h0M1029.3 527.2h0M686.3 386.6h0M1209.1 564.7h0"/>
<path stroke="#feb67c" d="M794.1 338.0h0"/>
<path stroke="#febf84" d="M1042.1 336.5h0M613.1 392.2h0M1224.8 618.8h0"/>
<path stroke="#fec88c" d="M1202.1 606.4h0"/>
<path stroke="#fed194" d="M637.8 371.2h0"/>
<path stroke="#fde3a5" d="M642.9 393.6h0"/>
<path stroke="#fcf7b9" d="M654.6 381.0h0M1054.0 364.5h0M1054.3 365.2h0"/>
</g>
<g stroke="#000" stroke-width="4.6" fill="none">
<path d="M222.5 142.9V1305.0"/>
<path d="M220.2 1302.7H1829.1"/>
<path d="M222.5 155.4H207.9M222.5 365.9H207.9M222.5 576.4H207.9M222.5 786.9H207.9M222.5 997.4H207.9M222.5 1207.9H207.9M632.0 1302.7V1317.3M1193.0 1302.7V1317.3M1754.0 1302.7V1317.3"/>
</g>
<g font-size="52.4" text-anchor="end">
<text transform="translate(195 173.1) scale(0.954 1)">15</text>
<text transform="translate(195 383.6) scale(0.954 1)">10</text>
<text transform="translate(195 594.1) scale(0.954 1)">5</text>
<text transform="translate(195 804.6) scale(0.954 1)">0</text>
<text transform="translate(195 1015.1) scale(0.954 1)">-5</text>
<text transform="translate(195 1225.6) scale(0.954 1)">-10</text>
</g>
<g font-size="52.4" text-anchor="middle">
<text transform="translate(632.0 1366) scale(0.954 1)">0</text>
<text transform="translate(1193.0 1366) scale(0.954 1)">10</text>
<text transform="translate(1754.0 1366) scale(0.954 1)">20</text>
</g>
<text x="909.1" y="1435" font-size="60.6" textLength="233.4" lengthAdjust="spacingAndGlyphs">UMAP_1</text>
<text transform="translate(95.3 839.3) rotate(-90)" font-size="60.6" textLength="233.4" lengthAdjust="spacingAndGlyphs">UMAP_2</text>
<text x="890.3" y="101" font-size="70" font-weight="bold" textLength="268.2" lengthAdjust="spacingAndGlyphs">CAPNS2</text>
<defs><linearGradient id="lg" x1="0" y1="0" x2="0" y2="1"><stop offset="0.0000" stop-color="#fcfdbf"/><stop offset="0.0417" stop-color="#fdebac"/><stop offset="0.0833" stop-color="#fed799"/><stop offset="0.1250" stop-color="#fec488"/><stop offset="0.1667" stop-color="#feb078"/><stop offset="0.2083" stop-color="#fd9b6b"/><stop offset="0.2500" stop-color="#fc8961"/><stop offset="0.2917" stop-color="#f8745c"/><stop offset="0.3333" stop-color="#f1605d"/><stop offset="0.3750" stop-color="#e75263"/><stop offset="0.4167" stop-color="#d8456c"/><stop offset="0.4583" stop-color="#c73d73"/><stop offset="0.5000" stop-color="#b73779"/><stop offset="0.5417" stop-color="#a5317e"/><stop offset="0.5833" stop-color="#932b80"/><stop offset="0.6250" stop-color="#832681"/><stop offset="0.6667" stop-color="#721f81"/><stop offset="0.7083" stop-color="#601880"/><stop offset="0.7500" stop-color="#51127c"/><stop offset="0.7917" stop-color="#3f0f72"/><stop offset="0.8333" stop-color="#2c115f"/><stop offset="0.8750" stop-color="#1d1147"/><stop offset="0.9167" stop-color="#100b2d"/><stop offset="0.9583" stop-color="#050416"/><stop offset="1.0000" stop-color="#000004"/></linearGradient></defs>
<rect x="1885.0" y="578.1" width="64.1" height="319.5" fill="url(#lg)"/>
<path d="M1885.0 897.6h12.8M1949.1 897.6h-12.8M1885.0 833.5h12.8M1949.1 833.5h-12.8M1885.0 769.3h12.8M1949.1 769.3h-12.8M1885.0 705.1h12.8M1949.1 705.1h-12.8M1885.0 641.0h12.8M1949.1 641.0h-12.8" stroke="#fff" stroke-width="1.9" fill="none"/>
<g font-size="52.4">
<text transform="translate(1976.5 915.9) scale(0.954 1)">0.0</text>
<text transform="translate(1976.5 851.8) scale(0.954 1)">0.5</text>
<text transform="translate(1976.5 787.6) scale(0.954 1)">1.0</text>
<text transform="translate(1976.5 723.4) scale(0.954 1)">1.5</text>
<text transform="translate(1976.5 659.3) scale(0.954 1)">2.0</text>
</g>
</svg></body></html>
